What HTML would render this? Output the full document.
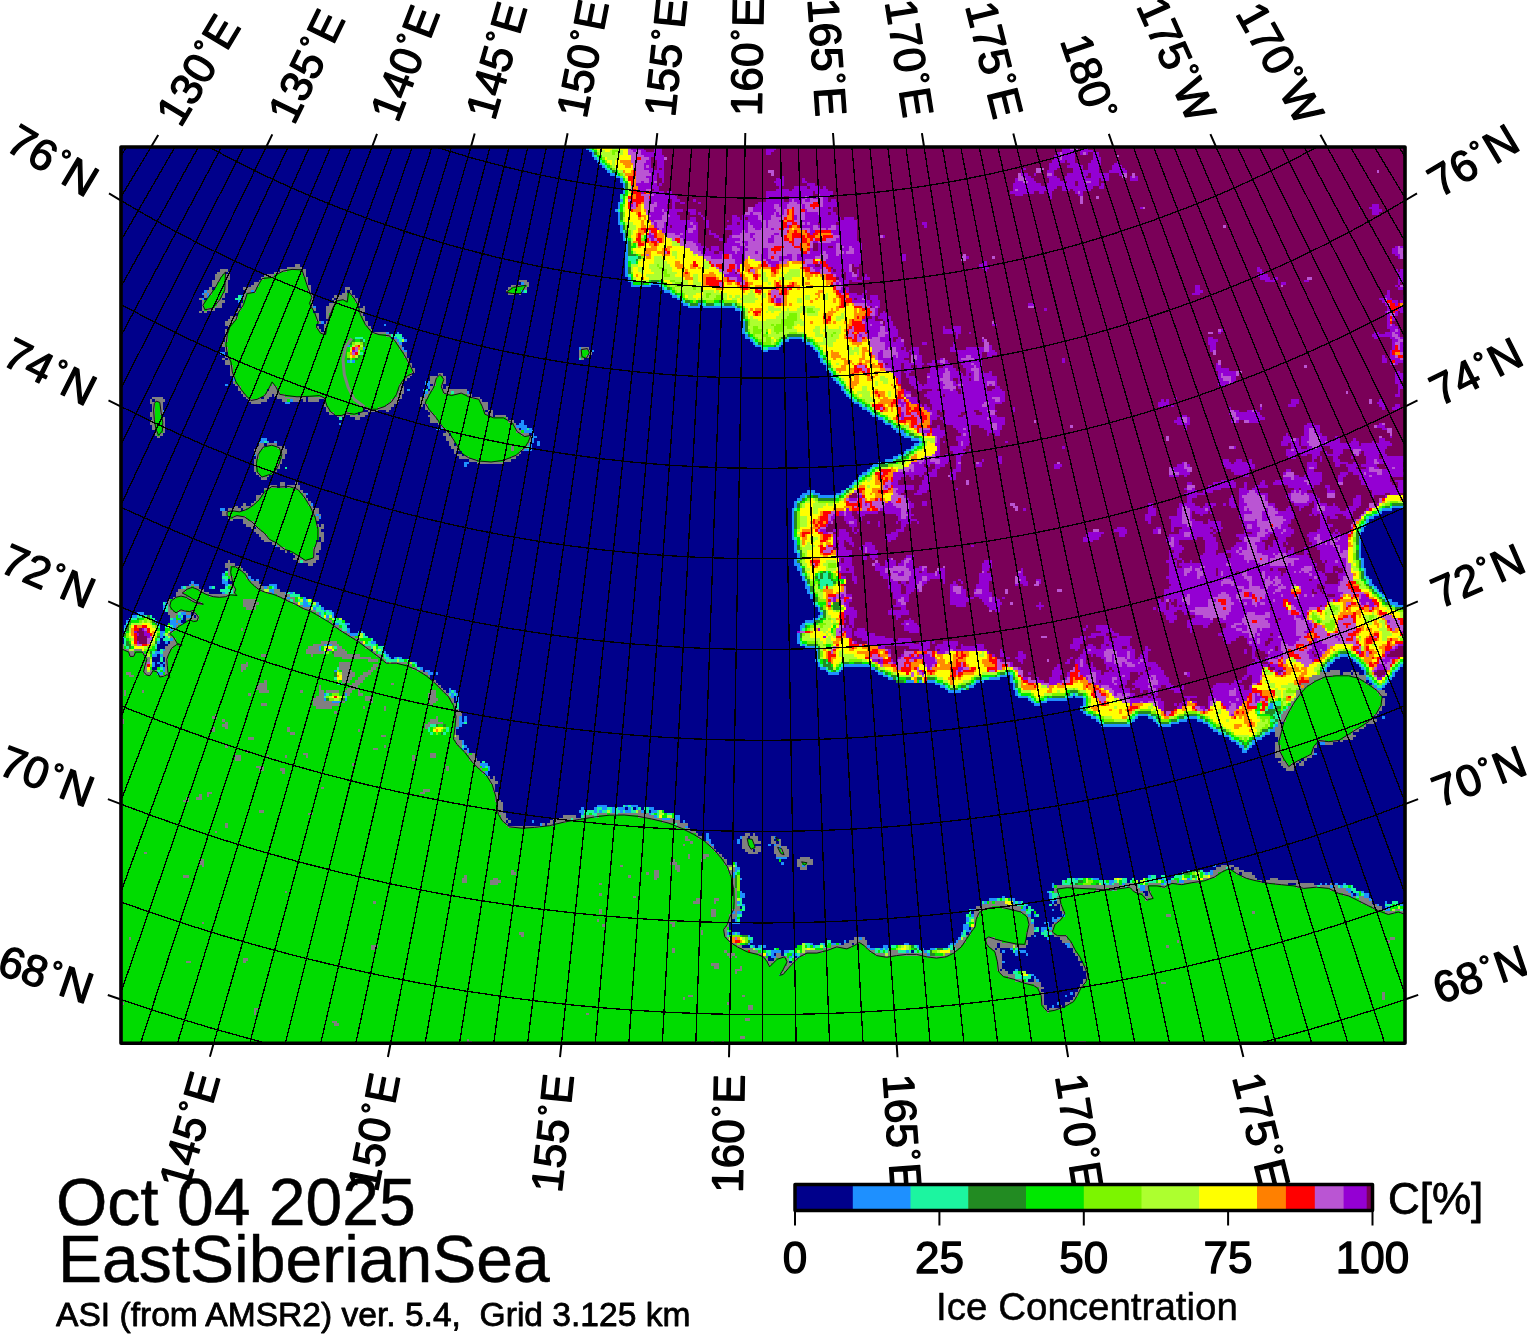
<!DOCTYPE html>
<html><head><meta charset="utf-8"><title>Ice Concentration EastSiberianSea</title><style>html,body{margin:0;padding:0;background:#fff}text{stroke:#000;stroke-width:1.3px}text.t{stroke-width:.5px}text.s{stroke-width:.8px}</style></head><body>
<svg width="1527" height="1336" viewBox="0 0 1527 1336" style="display:block;font-family:'Liberation Sans',sans-serif" stroke-linejoin="round">
<defs><clipPath id="mc"><rect x="121" y="147" width="1284" height="896.3"/></clipPath></defs>
<rect x="0" y="0" width="1527" height="1336" fill="#fff"/>
<g clip-path="url(#mc)">
<rect x="121" y="147" width="1284" height="896.3" fill="#00008b"/>
<g shape-rendering="crispEdges" fill="none" stroke-width="2.62">
<path stroke="#9400d3" d="M630.6 148.3h13.0M654.0 148.3h7.8M765.8 148.3h10.4M1062.2 148.3h7.8M1083.0 148.3h5.2M633.2 150.9h2.6M641.0 150.9h5.2M654.0 150.9h7.8M765.8 150.9h7.8M1062.2 150.9h15.6M1080.4 150.9h13.0M641.0 153.5h20.8M765.8 153.5h5.2M1057.0 153.5h2.6M1062.2 153.5h13.0M1080.4 153.5h2.6M1085.6 153.5h2.6M1093.4 153.5h5.2M643.6 156.1h20.8M1054.4 156.1h5.2M1062.2 156.1h13.0M1093.4 156.1h5.2M648.8 158.7h2.6M654.0 158.7h10.4M1054.4 158.7h5.2M1062.2 158.7h13.0M1093.4 158.7h7.8M646.2 161.3h5.2M656.6 161.3h7.8M1051.8 161.3h13.0M1067.4 161.3h7.8M1090.8 161.3h10.4M1116.8 161.3h2.6M643.6 163.9h7.8M656.6 163.9h7.8M1049.2 163.9h10.4M1070.0 163.9h10.4M1088.2 163.9h13.0M1114.2 163.9h5.2M643.6 166.5h2.6M648.8 166.5h2.6M656.6 166.5h7.8M1049.2 166.5h10.4M1067.4 166.5h15.6M1088.2 166.5h10.4M1111.6 166.5h10.4M643.6 169.1h10.4M656.6 169.1h2.6M661.8 169.1h2.6M1023.2 169.1h2.6M1049.2 169.1h7.8M1072.6 169.1h10.4M1088.2 169.1h10.4M1111.6 169.1h13.0M648.8 171.7h15.6M1020.6 171.7h2.6M1046.6 171.7h7.8M1072.6 171.7h26.0M1109.0 171.7h18.2M651.4 174.3h5.2M659.2 174.3h5.2M1020.6 174.3h7.8M1033.6 174.3h2.6M1051.8 174.3h2.6M1067.4 174.3h20.8M1090.8 174.3h18.2M1119.4 174.3h2.6M646.2 176.9h10.4M659.2 176.9h5.2M781.4 176.9h2.6M1023.2 176.9h7.8M1046.6 176.9h10.4M1064.8 176.9h20.8M1090.8 176.9h18.2M1129.8 176.9h2.6M1135.0 176.9h2.6M648.8 179.5h7.8M661.8 179.5h2.6M776.2 179.5h7.8M802.2 179.5h2.6M1015.4 179.5h2.6M1025.8 179.5h7.8M1049.2 179.5h10.4M1064.8 179.5h33.8M1101.2 179.5h7.8M1129.8 179.5h7.8M641.0 182.1h2.6M648.8 182.1h5.2M661.8 182.1h2.6M773.6 182.1h10.4M802.2 182.1h5.2M1015.4 182.1h7.8M1028.4 182.1h7.8M1049.2 182.1h15.6M1067.4 182.1h7.8M1077.8 182.1h7.8M1090.8 182.1h7.8M635.8 184.7h20.8M659.2 184.7h2.6M776.2 184.7h7.8M807.4 184.7h7.8M1012.8 184.7h28.6M1046.6 184.7h28.6M1077.8 184.7h20.8M1101.2 184.7h2.6M638.4 187.3h20.8M778.8 187.3h2.6M794.4 187.3h13.0M810.0 187.3h10.4M823.0 187.3h2.6M1012.8 187.3h44.2M1062.2 187.3h31.2M1098.6 187.3h5.2M638.4 189.9h7.8M654.0 189.9h5.2M776.2 189.9h13.0M791.8 189.9h36.4M1012.8 189.9h2.6M1018.0 189.9h36.4M1062.2 189.9h7.8M1072.6 189.9h18.2M641.0 192.5h2.6M651.4 192.5h13.0M667.0 192.5h5.2M765.8 192.5h46.8M815.2 192.5h18.2M1010.2 192.5h23.4M1038.8 192.5h5.2M1046.6 192.5h5.2M1075.2 192.5h2.6M1080.4 192.5h2.6M654.0 195.1h20.8M765.8 195.1h46.8M820.4 195.1h13.0M1015.4 195.1h7.8M1049.2 195.1h2.6M1077.8 195.1h5.2M651.4 197.7h26.0M765.8 197.7h18.2M789.2 197.7h15.6M807.4 197.7h2.6M812.6 197.7h5.2M823.0 197.7h5.2M1049.2 197.7h2.6M648.8 200.3h20.8M672.2 200.3h7.8M693.0 200.3h2.6M765.8 200.3h18.2M789.2 200.3h2.6M794.4 200.3h7.8M804.8 200.3h5.2M823.0 200.3h5.2M830.8 200.3h5.2M651.4 202.9h2.6M656.6 202.9h13.0M672.2 202.9h2.6M680.0 202.9h5.2M698.2 202.9h2.6M758.0 202.9h31.2M797.0 202.9h5.2M823.0 202.9h15.6M630.6 205.5h2.6M656.6 205.5h10.4M672.2 205.5h2.6M755.4 205.5h18.2M778.8 205.5h7.8M802.2 205.5h2.6M823.0 205.5h15.6M1371.6 205.5h7.8M654.0 208.1h13.0M672.2 208.1h2.6M752.8 208.1h20.8M781.4 208.1h5.2M802.2 208.1h2.6M820.4 208.1h7.8M830.8 208.1h2.6M1140.2 208.1h2.6M1358.6 208.1h2.6M1369.0 208.1h10.4M654.0 210.7h7.8M664.4 210.7h18.2M687.8 210.7h7.8M752.8 210.7h23.4M781.4 210.7h2.6M804.8 210.7h2.6M820.4 210.7h13.0M1371.6 210.7h10.4M648.8 213.3h15.6M667.0 213.3h10.4M690.4 213.3h5.2M698.2 213.3h2.6M750.2 213.3h2.6M760.6 213.3h13.0M776.2 213.3h2.6M781.4 213.3h2.6M804.8 213.3h13.0M820.4 213.3h7.8M830.8 213.3h5.2M1371.6 213.3h7.8M651.4 215.9h10.4M669.6 215.9h10.4M700.8 215.9h2.6M732.0 215.9h5.2M742.4 215.9h15.6M763.2 215.9h7.8M776.2 215.9h5.2M794.4 215.9h2.6M804.8 215.9h33.8M648.8 218.5h13.0M667.0 218.5h13.0M690.4 218.5h5.2M703.4 218.5h2.6M732.0 218.5h7.8M742.4 218.5h2.6M747.6 218.5h10.4M763.2 218.5h7.8M794.4 218.5h2.6M804.8 218.5h36.4M843.8 218.5h10.4M651.4 221.1h2.6M667.0 221.1h28.6M706.0 221.1h2.6M726.8 221.1h2.6M732.0 221.1h28.6M765.8 221.1h2.6M778.8 221.1h2.6M802.2 221.1h54.6M654.0 223.7h2.6M664.4 223.7h26.0M693.0 223.7h5.2M706.0 223.7h2.6M732.0 223.7h5.2M739.8 223.7h7.8M750.2 223.7h13.0M765.8 223.7h2.6M799.6 223.7h2.6M804.8 223.7h2.6M810.0 223.7h7.8M820.4 223.7h15.6M838.6 223.7h18.2M921.8 223.7h5.2M654.0 226.3h2.6M664.4 226.3h5.2M672.2 226.3h20.8M695.6 226.3h2.6M706.0 226.3h2.6M726.8 226.3h20.8M752.8 226.3h10.4M765.8 226.3h2.6M786.6 226.3h2.6M799.6 226.3h13.0M817.8 226.3h13.0M836.0 226.3h20.8M924.4 226.3h2.6M656.6 228.9h2.6M661.8 228.9h26.0M695.6 228.9h2.6M724.2 228.9h23.4M755.4 228.9h5.2M771.0 228.9h2.6M810.0 228.9h2.6M825.6 228.9h2.6M836.0 228.9h20.8M661.8 231.5h26.0M693.0 231.5h5.2M708.6 231.5h2.6M732.0 231.5h10.4M745.0 231.5h2.6M810.0 231.5h5.2M830.8 231.5h26.0M648.8 234.1h2.6M674.8 234.1h5.2M682.6 234.1h15.6M708.6 234.1h7.8M732.0 234.1h7.8M750.2 234.1h5.2M773.6 234.1h5.2M810.0 234.1h2.6M833.4 234.1h23.4M648.8 236.7h5.2M680.0 236.7h18.2M713.8 236.7h5.2M729.4 236.7h2.6M750.2 236.7h2.6M771.0 236.7h2.6M838.6 236.7h18.2M882.8 236.7h2.6M651.4 239.3h2.6M682.6 239.3h15.6M719.0 239.3h5.2M726.8 239.3h13.0M752.8 239.3h2.6M768.4 239.3h5.2M836.0 239.3h20.8M693.0 241.9h5.2M726.8 241.9h7.8M742.4 241.9h5.2M768.4 241.9h5.2M812.6 241.9h5.2M830.8 241.9h28.6M695.6 244.5h5.2M724.2 244.5h15.6M745.0 244.5h2.6M817.8 244.5h18.2M841.2 244.5h20.8M698.2 247.1h7.8M711.2 247.1h7.8M724.2 247.1h7.8M737.2 247.1h7.8M817.8 247.1h10.4M833.4 247.1h2.6M843.8 247.1h5.2M851.6 247.1h10.4M1395.0 247.1h2.6M1400.2 247.1h5.2M698.2 249.7h5.2M706.0 249.7h2.6M711.2 249.7h7.8M724.2 249.7h7.8M739.8 249.7h7.8M763.2 249.7h5.2M810.0 249.7h2.6M817.8 249.7h18.2M841.2 249.7h7.8M854.2 249.7h7.8M1392.4 249.7h5.2M1402.8 249.7h2.6M700.8 252.3h13.0M719.0 252.3h15.6M737.2 252.3h7.8M755.4 252.3h2.6M763.2 252.3h5.2M810.0 252.3h13.0M825.6 252.3h10.4M843.8 252.3h2.6M854.2 252.3h7.8M1392.4 252.3h5.2M703.4 254.9h18.2M732.0 254.9h13.0M760.6 254.9h7.8M786.6 254.9h5.2M797.0 254.9h23.4M828.2 254.9h7.8M838.6 254.9h23.4M901.0 254.9h5.2M1395.0 254.9h5.2M1402.8 254.9h2.6M711.2 257.5h10.4M732.0 257.5h13.0M760.6 257.5h7.8M778.8 257.5h13.0M797.0 257.5h18.2M828.2 257.5h33.8M901.0 257.5h5.2M966.0 257.5h2.6M1397.6 257.5h2.6M1402.8 257.5h2.6M734.6 260.1h10.4M760.6 260.1h2.6M765.8 260.1h5.2M778.8 260.1h5.2M789.2 260.1h2.6M797.0 260.1h7.8M825.6 260.1h36.4M901.0 260.1h5.2M734.6 262.7h7.8M768.4 262.7h10.4M825.6 262.7h36.4M981.6 262.7h5.2M737.2 265.3h2.6M771.0 265.3h5.2M807.4 265.3h7.8M820.4 265.3h2.6M828.2 265.3h20.8M854.2 265.3h5.2M979.0 265.3h7.8M737.2 267.9h2.6M812.6 267.9h10.4M833.4 267.9h15.6M981.6 267.9h7.8M1257.2 267.9h2.6M732.0 270.5h2.6M815.2 270.5h5.2M830.8 270.5h2.6M836.0 270.5h5.2M843.8 270.5h5.2M856.8 270.5h2.6M984.2 270.5h2.6M1257.2 270.5h5.2M1395.0 270.5h2.6M1400.2 270.5h5.2M729.4 273.1h5.2M830.8 273.1h13.0M846.4 273.1h5.2M856.8 273.1h2.6M1259.8 273.1h5.2M1397.6 273.1h7.8M724.2 275.7h15.6M836.0 275.7h5.2M846.4 275.7h5.2M856.8 275.7h2.6M864.6 275.7h2.6M1257.2 275.7h10.4M1397.6 275.7h7.8M737.2 278.3h5.2M838.6 278.3h5.2M846.4 278.3h10.4M862.0 278.3h7.8M1259.8 278.3h10.4M1272.8 278.3h5.2M1397.6 278.3h7.8M737.2 280.9h5.2M838.6 280.9h10.4M851.6 280.9h10.4M1265.0 280.9h10.4M1304.0 280.9h5.2M1397.6 280.9h7.8M836.0 283.5h2.6M841.2 283.5h7.8M1280.6 283.5h5.2M1397.6 283.5h2.6M1194.8 286.1h5.2M1395.0 286.1h2.6M841.2 288.7h2.6M846.4 288.7h2.6M1194.8 288.7h5.2M1397.6 288.7h5.2M838.6 291.3h5.2M846.4 291.3h2.6M864.6 291.3h2.6M1194.8 291.3h7.8M1387.2 291.3h2.6M849.0 293.9h7.8M862.0 293.9h2.6M1192.2 293.9h7.8M1387.2 293.9h2.6M849.0 296.5h18.2M869.8 296.5h7.8M1384.6 296.5h5.2M1402.8 296.5h2.6M776.2 299.1h5.2M851.6 299.1h2.6M856.8 299.1h5.2M864.6 299.1h2.6M869.8 299.1h7.8M1379.4 299.1h5.2M1387.2 299.1h5.2M1402.8 299.1h2.6M776.2 301.7h5.2M851.6 301.7h18.2M872.4 301.7h7.8M1382.0 301.7h2.6M1392.4 301.7h5.2M1400.2 301.7h2.6M867.2 304.3h13.0M1028.4 304.3h5.2M1384.6 304.3h2.6M1395.0 304.3h2.6M1402.8 304.3h2.6M872.4 306.9h2.6M877.6 306.9h2.6M1387.2 306.9h2.6M1400.2 306.9h2.6M875.0 309.5h2.6M1044.0 309.5h2.6M1387.2 309.5h2.6M1397.6 309.5h5.2M875.0 312.1h2.6M882.8 312.1h2.6M1384.6 312.1h2.6M1395.0 312.1h2.6M1400.2 312.1h5.2M875.0 314.7h2.6M880.2 314.7h7.8M1387.2 314.7h2.6M1395.0 314.7h2.6M864.6 317.3h2.6M872.4 317.3h2.6M877.6 317.3h13.0M1387.2 317.3h2.6M1392.4 317.3h2.6M862.0 319.9h13.0M882.8 319.9h7.8M1387.2 319.9h2.6M1392.4 319.9h2.6M864.6 322.5h15.6M885.4 322.5h7.8M1387.2 322.5h2.6M864.6 325.1h5.2M872.4 325.1h10.4M885.4 325.1h7.8M992.0 325.1h5.2M1387.2 325.1h2.6M1392.4 325.1h2.6M864.6 327.7h15.6M885.4 327.7h10.4M942.6 327.7h2.6M953.0 327.7h7.8M1150.6 327.7h2.6M1387.2 327.7h10.4M864.6 330.3h15.6M885.4 330.3h13.0M942.6 330.3h18.2M1220.8 330.3h2.6M1389.8 330.3h5.2M1397.6 330.3h2.6M867.2 332.9h10.4M888.0 332.9h10.4M942.6 332.9h10.4M955.6 332.9h5.2M968.6 332.9h2.6M1218.2 332.9h2.6M1374.2 332.9h5.2M1384.6 332.9h7.8M1395.0 332.9h5.2M859.4 335.5h2.6M867.2 335.5h10.4M885.4 335.5h13.0M955.6 335.5h2.6M1371.6 335.5h20.8M1397.6 335.5h2.6M867.2 338.1h5.2M880.2 338.1h13.0M898.4 338.1h2.6M955.6 338.1h2.6M1207.8 338.1h5.2M1374.2 338.1h5.2M1389.8 338.1h5.2M1400.2 338.1h5.2M880.2 340.7h13.0M895.8 340.7h5.2M981.6 340.7h2.6M1207.8 340.7h10.4M1392.4 340.7h5.2M1402.8 340.7h2.6M885.4 343.3h18.2M921.8 343.3h5.2M953.0 343.3h2.6M1207.8 343.3h7.8M1392.4 343.3h2.6M1400.2 343.3h2.6M885.4 345.9h18.2M953.0 345.9h2.6M989.4 345.9h2.6M1210.4 345.9h5.2M1392.4 345.9h2.6M1400.2 345.9h5.2M885.4 348.5h2.6M895.8 348.5h5.2M903.6 348.5h2.6M911.4 348.5h7.8M950.4 348.5h5.2M966.0 348.5h18.2M989.4 348.5h2.6M1210.4 348.5h5.2M1392.4 348.5h2.6M1400.2 348.5h2.6M352.4 351.1h2.6M880.2 351.1h2.6M895.8 351.1h10.4M908.8 351.1h10.4M950.4 351.1h33.8M989.4 351.1h5.2M1210.4 351.1h2.6M1389.8 351.1h2.6M1400.2 351.1h2.6M877.6 353.7h5.2M898.4 353.7h10.4M911.4 353.7h7.8M958.2 353.7h23.4M986.8 353.7h10.4M1389.8 353.7h2.6M877.6 356.3h5.2M893.2 356.3h2.6M898.4 356.3h10.4M916.6 356.3h5.2M958.2 356.3h7.8M971.2 356.3h10.4M986.8 356.3h5.2M1382.0 356.3h2.6M1389.8 356.3h5.2M1402.8 356.3h2.6M877.6 358.9h26.0M916.6 358.9h5.2M940.0 358.9h2.6M958.2 358.9h2.6M973.8 358.9h7.8M1062.2 358.9h2.6M1382.0 358.9h5.2M1389.8 358.9h10.4M882.8 361.5h26.0M914.0 361.5h7.8M932.2 361.5h7.8M945.2 361.5h2.6M958.2 361.5h23.4M1062.2 361.5h2.6M1382.0 361.5h5.2M1389.8 361.5h2.6M1395.0 361.5h10.4M888.0 364.1h13.0M903.6 364.1h20.8M927.0 364.1h7.8M940.0 364.1h2.6M945.2 364.1h5.2M960.8 364.1h10.4M973.8 364.1h7.8M1215.6 364.1h2.6M1389.8 364.1h2.6M1395.0 364.1h2.6M1402.8 364.1h2.6M885.4 366.7h15.6M903.6 366.7h7.8M916.6 366.7h5.2M929.6 366.7h5.2M942.6 366.7h10.4M963.4 366.7h10.4M976.4 366.7h5.2M1215.6 366.7h5.2M1402.8 366.7h2.6M890.6 369.3h10.4M903.6 369.3h10.4M929.6 369.3h15.6M947.8 369.3h7.8M966.0 369.3h5.2M979.0 369.3h2.6M1215.6 369.3h13.0M1402.8 369.3h2.6M893.2 371.9h7.8M903.6 371.9h7.8M929.6 371.9h15.6M950.4 371.9h10.4M966.0 371.9h7.8M979.0 371.9h5.2M989.4 371.9h2.6M1218.2 371.9h18.2M1395.0 371.9h5.2M893.2 374.5h7.8M906.2 374.5h2.6M927.0 374.5h15.6M950.4 374.5h13.0M966.0 374.5h2.6M971.2 374.5h2.6M979.0 374.5h13.0M1218.2 374.5h2.6M1223.4 374.5h13.0M1395.0 374.5h10.4M895.8 377.1h5.2M906.2 377.1h10.4M929.6 377.1h13.0M950.4 377.1h23.4M979.0 377.1h18.2M1218.2 377.1h2.6M1231.2 377.1h5.2M1395.0 377.1h10.4M898.4 379.7h2.6M908.8 379.7h7.8M927.0 379.7h13.0M950.4 379.7h2.6M958.2 379.7h10.4M971.2 379.7h2.6M979.0 379.7h18.2M1218.2 379.7h5.2M1231.2 379.7h5.2M1395.0 379.7h7.8M898.4 382.3h2.6M908.8 382.3h10.4M927.0 382.3h15.6M953.0 382.3h2.6M958.2 382.3h28.6M994.6 382.3h2.6M1218.2 382.3h10.4M1231.2 382.3h2.6M1395.0 382.3h5.2M911.4 384.9h10.4M924.4 384.9h20.8M953.0 384.9h5.2M963.4 384.9h23.4M989.4 384.9h2.6M994.6 384.9h2.6M1218.2 384.9h7.8M1397.6 384.9h5.2M914.0 387.5h28.6M958.2 387.5h28.6M994.6 387.5h5.2M1397.6 387.5h5.2M903.6 390.1h2.6M916.6 390.1h5.2M932.2 390.1h5.2M940.0 390.1h10.4M953.0 390.1h2.6M960.8 390.1h26.0M992.0 390.1h10.4M1397.6 390.1h2.6M903.6 392.7h7.8M927.0 392.7h31.2M960.8 392.7h44.2M1397.6 392.7h2.6M903.6 395.3h2.6M924.4 395.3h18.2M945.2 395.3h59.8M1395.0 395.3h5.2M906.2 397.9h10.4M927.0 397.9h65.0M999.8 397.9h5.2M1174.0 397.9h2.6M898.4 400.5h2.6M908.8 400.5h7.8M929.6 400.5h65.0M999.8 400.5h5.2M1161.0 400.5h2.6M1166.2 400.5h2.6M1291.0 400.5h7.8M1379.4 400.5h2.6M898.4 403.1h7.8M911.4 403.1h7.8M929.6 403.1h54.6M989.4 403.1h13.0M1158.4 403.1h10.4M1291.0 403.1h7.8M1376.8 403.1h7.8M901.0 405.7h2.6M919.2 405.7h2.6M924.4 405.7h2.6M932.2 405.7h49.4M986.8 405.7h7.8M1158.4 405.7h10.4M1171.4 405.7h2.6M1288.4 405.7h7.8M1379.4 405.7h5.2M1395.0 405.7h5.2M924.4 408.3h5.2M932.2 408.3h62.4M1012.8 408.3h2.6M1228.6 408.3h2.6M1259.8 408.3h2.6M1382.0 408.3h2.6M1392.4 408.3h7.8M927.0 410.9h10.4M940.0 410.9h2.6M945.2 410.9h28.6M979.0 410.9h7.8M994.6 410.9h2.6M1012.8 410.9h2.6M1233.8 410.9h5.2M1246.8 410.9h5.2M1254.6 410.9h2.6M901.0 413.5h2.6M932.2 413.5h5.2M945.2 413.5h15.6M966.0 413.5h10.4M981.6 413.5h7.8M1228.6 413.5h2.6M1236.4 413.5h23.4M901.0 416.1h2.6M929.6 416.1h10.4M942.6 416.1h15.6M963.4 416.1h33.8M1181.8 416.1h5.2M1236.4 416.1h26.0M901.0 418.7h2.6M929.6 418.7h7.8M940.0 418.7h46.8M989.4 418.7h15.6M1176.6 418.7h5.2M1187.0 418.7h2.6M1231.2 418.7h2.6M1239.0 418.7h26.0M929.6 421.3h2.6M942.6 421.3h62.4M1174.0 421.3h7.8M1187.0 421.3h2.6M1231.2 421.3h2.6M1236.4 421.3h2.6M1249.4 421.3h10.4M929.6 423.9h2.6M945.2 423.9h46.8M997.2 423.9h7.8M1176.6 423.9h13.0M1306.6 423.9h7.8M1379.4 423.9h2.6M937.4 426.5h2.6M953.0 426.5h18.2M979.0 426.5h13.0M997.2 426.5h5.2M1184.4 426.5h2.6M1304.0 426.5h15.6M1376.8 426.5h7.8M932.2 429.1h7.8M955.6 429.1h7.8M966.0 429.1h5.2M984.2 429.1h7.8M997.2 429.1h5.2M1184.4 429.1h2.6M1304.0 429.1h5.2M1314.4 429.1h5.2M1382.0 429.1h5.2M921.8 431.7h7.8M932.2 431.7h13.0M958.2 431.7h13.0M986.8 431.7h13.0M1304.0 431.7h5.2M1314.4 431.7h5.2M932.2 434.3h13.0M960.8 434.3h2.6M966.0 434.3h5.2M986.8 434.3h2.6M994.6 434.3h5.2M1285.8 434.3h2.6M1304.0 434.3h5.2M1317.0 434.3h5.2M937.4 436.9h5.2M955.6 436.9h13.0M1283.2 436.9h7.8M1301.4 436.9h7.8M1319.6 436.9h7.8M1335.2 436.9h2.6M1389.8 436.9h2.6M937.4 439.5h2.6M955.6 439.5h13.0M1283.2 439.5h7.8M1296.2 439.5h2.6M1301.4 439.5h7.8M1319.6 439.5h7.8M1335.2 439.5h5.2M1353.4 439.5h2.6M1379.4 439.5h5.2M937.4 442.1h2.6M942.6 442.1h2.6M958.2 442.1h2.6M963.4 442.1h7.8M1005.0 442.1h2.6M1280.6 442.1h18.2M1301.4 442.1h5.2M1319.6 442.1h5.2M1327.4 442.1h13.0M1350.8 442.1h7.8M1371.6 442.1h2.6M1379.4 442.1h10.4M934.8 444.7h5.2M958.2 444.7h2.6M963.4 444.7h5.2M1280.6 444.7h7.8M1291.0 444.7h7.8M1301.4 444.7h7.8M1319.6 444.7h39.0M1361.2 444.7h31.2M937.4 447.3h2.6M950.4 447.3h15.6M1062.2 447.3h2.6M1233.8 447.3h2.6M1291.0 447.3h10.4M1306.6 447.3h5.2M1317.0 447.3h5.2M1330.0 447.3h57.2M937.4 449.9h2.6M950.4 449.9h13.0M968.6 449.9h2.6M1285.8 449.9h5.2M1293.6 449.9h28.6M1332.6 449.9h10.4M1350.8 449.9h2.6M1361.2 449.9h23.4M934.8 452.5h5.2M953.0 452.5h13.0M1285.8 452.5h33.8M1324.8 452.5h2.6M1332.6 452.5h10.4M1358.6 452.5h2.6M1363.8 452.5h20.8M934.8 455.1h5.2M945.2 455.1h2.6M955.6 455.1h7.8M1285.8 455.1h10.4M1301.4 455.1h5.2M1311.8 455.1h7.8M1324.8 455.1h15.6M1353.4 455.1h2.6M1363.8 455.1h15.6M1382.0 455.1h5.2M934.8 457.7h15.6M955.6 457.7h5.2M997.2 457.7h5.2M1288.4 457.7h7.8M1311.8 457.7h5.2M1319.6 457.7h2.6M1332.6 457.7h5.2M1350.8 457.7h2.6M1366.4 457.7h13.0M1382.0 457.7h23.4M924.4 460.3h5.2M940.0 460.3h10.4M955.6 460.3h5.2M981.6 460.3h2.6M997.2 460.3h5.2M1223.4 460.3h5.2M1236.4 460.3h5.2M1249.4 460.3h2.6M1311.8 460.3h2.6M1319.6 460.3h2.6M1332.6 460.3h7.8M1366.4 460.3h7.8M1376.8 460.3h28.6M911.4 462.9h7.8M921.8 462.9h13.0M940.0 462.9h7.8M955.6 462.9h2.6M979.0 462.9h2.6M997.2 462.9h5.2M1181.8 462.9h2.6M1223.4 462.9h7.8M1233.8 462.9h18.2M1306.6 462.9h10.4M1335.2 462.9h13.0M1353.4 462.9h2.6M1366.4 462.9h7.8M1379.4 462.9h23.4M914.0 465.5h10.4M927.0 465.5h2.6M934.8 465.5h10.4M955.6 465.5h5.2M976.4 465.5h5.2M1054.4 465.5h7.8M1176.6 465.5h7.8M1187.0 465.5h2.6M1223.4 465.5h31.2M1306.6 465.5h10.4M1335.2 465.5h5.2M1345.6 465.5h13.0M1361.2 465.5h15.6M1384.6 465.5h18.2M914.0 468.1h13.0M934.8 468.1h5.2M955.6 468.1h5.2M1054.4 468.1h5.2M1171.4 468.1h13.0M1226.0 468.1h28.6M1306.6 468.1h2.6M1314.4 468.1h2.6M1348.2 468.1h7.8M1366.4 468.1h2.6M1374.2 468.1h5.2M1387.2 468.1h5.2M1395.0 468.1h10.4M908.8 470.7h2.6M914.0 470.7h13.0M932.2 470.7h5.2M953.0 470.7h7.8M1174.0 470.7h13.0M1231.2 470.7h18.2M1285.8 470.7h5.2M1306.6 470.7h7.8M1348.2 470.7h10.4M1361.2 470.7h7.8M1382.0 470.7h20.8M893.2 473.3h31.2M927.0 473.3h10.4M950.4 473.3h5.2M1179.2 473.3h10.4M1233.8 473.3h15.6M1283.2 473.3h2.6M1306.6 473.3h15.6M1340.4 473.3h7.8M1353.4 473.3h10.4M1366.4 473.3h10.4M1382.0 473.3h20.8M893.2 475.9h13.0M908.8 475.9h5.2M919.2 475.9h2.6M924.4 475.9h13.0M950.4 475.9h5.2M1168.8 475.9h10.4M1184.4 475.9h2.6M1241.6 475.9h7.8M1293.6 475.9h5.2M1304.0 475.9h18.2M1337.8 475.9h7.8M1358.6 475.9h10.4M1371.6 475.9h33.8M893.2 478.5h7.8M911.4 478.5h2.6M924.4 478.5h5.2M950.4 478.5h5.2M1283.2 478.5h7.8M1293.6 478.5h28.6M1337.8 478.5h5.2M1358.6 478.5h31.2M893.2 481.1h5.2M921.8 481.1h7.8M1220.8 481.1h13.0M1262.4 481.1h2.6M1275.4 481.1h28.6M1309.2 481.1h13.0M1337.8 481.1h5.2M1361.2 481.1h28.6M1395.0 481.1h10.4M890.6 483.7h7.8M921.8 483.7h7.8M1187.0 483.7h5.2M1213.0 483.7h23.4M1244.2 483.7h2.6M1259.8 483.7h5.2M1272.8 483.7h33.8M1309.2 483.7h10.4M1361.2 483.7h31.2M1397.6 483.7h7.8M885.4 486.3h2.6M893.2 486.3h20.8M919.2 486.3h10.4M1207.8 486.3h28.6M1244.2 486.3h2.6M1254.6 486.3h13.0M1288.4 486.3h26.0M1324.8 486.3h5.2M1366.4 486.3h28.6M1397.6 486.3h7.8M898.4 488.9h15.6M919.2 488.9h10.4M955.6 488.9h2.6M1184.4 488.9h2.6M1192.2 488.9h2.6M1205.2 488.9h15.6M1239.0 488.9h7.8M1252.0 488.9h5.2M1293.6 488.9h5.2M1301.4 488.9h10.4M1327.4 488.9h2.6M1369.0 488.9h36.4M895.8 491.5h7.8M916.6 491.5h10.4M1187.0 491.5h10.4M1202.6 491.5h10.4M1239.0 491.5h10.4M1254.6 491.5h5.2M1291.0 491.5h2.6M1296.2 491.5h2.6M1301.4 491.5h5.2M1327.4 491.5h7.8M1371.6 491.5h33.8M898.4 494.1h2.6M914.0 494.1h7.8M1184.4 494.1h20.8M1239.0 494.1h7.8M1257.2 494.1h10.4M1288.4 494.1h2.6M1301.4 494.1h2.6M1306.6 494.1h7.8M1371.6 494.1h13.0M1389.8 494.1h10.4M856.8 496.7h5.2M903.6 496.7h2.6M1187.0 496.7h10.4M1231.2 496.7h2.6M1239.0 496.7h2.6M1265.0 496.7h2.6M1285.8 496.7h5.2M1309.2 496.7h7.8M1356.0 496.7h5.2M1371.6 496.7h2.6M1384.6 496.7h2.6M849.0 499.3h7.8M906.2 499.3h2.6M1187.0 499.3h5.2M1228.6 499.3h5.2M1239.0 499.3h5.2M1265.0 499.3h2.6M1288.4 499.3h2.6M1309.2 499.3h10.4M1353.4 499.3h7.8M888.0 501.9h2.6M906.2 501.9h5.2M921.8 501.9h5.2M1187.0 501.9h5.2M1228.6 501.9h5.2M1239.0 501.9h5.2M1291.0 501.9h2.6M1306.6 501.9h5.2M1314.4 501.9h5.2M1353.4 501.9h7.8M864.6 504.5h2.6M885.4 504.5h7.8M908.8 504.5h5.2M921.8 504.5h5.2M1148.0 504.5h5.2M1179.2 504.5h15.6M1205.2 504.5h2.6M1210.4 504.5h5.2M1223.4 504.5h2.6M1228.6 504.5h7.8M1239.0 504.5h7.8M1267.6 504.5h7.8M1293.6 504.5h15.6M1314.4 504.5h2.6M1319.6 504.5h7.8M1332.6 504.5h2.6M1353.4 504.5h7.8M1376.8 504.5h2.6M882.8 507.1h13.0M908.8 507.1h5.2M1148.0 507.1h5.2M1179.2 507.1h2.6M1187.0 507.1h13.0M1202.6 507.1h10.4M1231.2 507.1h5.2M1239.0 507.1h5.2M1272.8 507.1h2.6M1288.4 507.1h2.6M1298.8 507.1h5.2M1314.4 507.1h2.6M1324.8 507.1h13.0M1348.2 507.1h10.4M846.4 509.7h2.6M880.2 509.7h20.8M908.8 509.7h2.6M1023.2 509.7h2.6M1148.0 509.7h7.8M1176.6 509.7h5.2M1189.6 509.7h15.6M1207.8 509.7h2.6M1239.0 509.7h5.2M1246.8 509.7h2.6M1265.0 509.7h2.6M1275.4 509.7h2.6M1285.8 509.7h5.2M1298.8 509.7h2.6M1311.8 509.7h5.2M1324.8 509.7h15.6M1345.6 509.7h10.4M1366.4 509.7h2.6M838.6 512.3h5.2M846.4 512.3h5.2M856.8 512.3h20.8M885.4 512.3h15.6M906.2 512.3h5.2M1148.0 512.3h7.8M1176.6 512.3h5.2M1189.6 512.3h2.6M1194.8 512.3h13.0M1210.4 512.3h2.6M1239.0 512.3h13.0M1262.4 512.3h5.2M1278.0 512.3h15.6M1311.8 512.3h7.8M1322.2 512.3h31.2M833.4 514.9h2.6M838.6 514.9h5.2M846.4 514.9h5.2M859.4 514.9h5.2M895.8 514.9h5.2M908.8 514.9h5.2M1145.4 514.9h10.4M1176.6 514.9h5.2M1189.6 514.9h2.6M1200.0 514.9h2.6M1239.0 514.9h5.2M1262.4 514.9h5.2M1275.4 514.9h18.2M1309.2 514.9h2.6M1314.4 514.9h2.6M1319.6 514.9h15.6M1343.0 514.9h10.4M830.8 517.5h5.2M843.8 517.5h10.4M859.4 517.5h2.6M898.4 517.5h2.6M906.2 517.5h5.2M1145.4 517.5h5.2M1168.8 517.5h13.0M1189.6 517.5h2.6M1239.0 517.5h5.2M1262.4 517.5h7.8M1283.2 517.5h10.4M1319.6 517.5h7.8M1330.0 517.5h7.8M1345.6 517.5h5.2M1358.6 517.5h2.6M830.8 520.1h2.6M843.8 520.1h13.0M859.4 520.1h2.6M898.4 520.1h18.2M1145.4 520.1h5.2M1171.4 520.1h10.4M1189.6 520.1h5.2M1207.8 520.1h2.6M1241.6 520.1h2.6M1254.6 520.1h2.6M1262.4 520.1h5.2M1285.8 520.1h5.2M1319.6 520.1h7.8M1353.4 520.1h2.6M828.2 522.7h2.6M846.4 522.7h2.6M854.2 522.7h2.6M867.2 522.7h2.6M877.6 522.7h2.6M895.8 522.7h2.6M901.0 522.7h10.4M916.6 522.7h2.6M1148.0 522.7h2.6M1171.4 522.7h10.4M1192.2 522.7h10.4M1207.8 522.7h13.0M1241.6 522.7h15.6M1283.2 522.7h7.8M1319.6 522.7h7.8M825.6 525.3h2.6M849.0 525.3h7.8M877.6 525.3h2.6M901.0 525.3h5.2M1171.4 525.3h15.6M1192.2 525.3h28.6M1241.6 525.3h5.2M1252.0 525.3h5.2M1280.6 525.3h7.8M1319.6 525.3h13.0M851.6 527.9h2.6M901.0 527.9h2.6M1116.8 527.9h7.8M1155.8 527.9h5.2M1171.4 527.9h2.6M1181.8 527.9h28.6M1213.0 527.9h10.4M1244.2 527.9h2.6M1252.0 527.9h7.8M1275.4 527.9h2.6M1280.6 527.9h10.4M1319.6 527.9h10.4M1350.8 527.9h2.6M820.4 530.5h5.2M833.4 530.5h2.6M838.6 530.5h7.8M851.6 530.5h2.6M856.8 530.5h2.6M895.8 530.5h7.8M1114.2 530.5h13.0M1153.2 530.5h5.2M1171.4 530.5h2.6M1179.2 530.5h33.8M1215.6 530.5h5.2M1244.2 530.5h15.6M1265.0 530.5h2.6M1272.8 530.5h10.4M1285.8 530.5h7.8M1317.0 530.5h13.0M1335.2 530.5h2.6M823.0 533.1h5.2M838.6 533.1h10.4M854.2 533.1h2.6M890.6 533.1h7.8M1088.2 533.1h15.6M1119.4 533.1h7.8M1153.2 533.1h5.2M1179.2 533.1h5.2M1192.2 533.1h18.2M1213.0 533.1h2.6M1244.2 533.1h2.6M1252.0 533.1h5.2M1267.6 533.1h13.0M1283.2 533.1h10.4M1309.2 533.1h20.8M1332.6 533.1h2.6M1337.8 533.1h2.6M833.4 535.7h2.6M838.6 535.7h10.4M885.4 535.7h13.0M1085.6 535.7h15.6M1119.4 535.7h5.2M1168.8 535.7h15.6M1189.6 535.7h23.4M1236.4 535.7h20.8M1265.0 535.7h5.2M1275.4 535.7h15.6M1306.6 535.7h10.4M1319.6 535.7h28.6M833.4 538.3h18.2M885.4 538.3h10.4M1083.0 538.3h15.6M1166.2 538.3h5.2M1174.0 538.3h23.4M1202.6 538.3h13.0M1239.0 538.3h5.2M1259.8 538.3h7.8M1278.0 538.3h7.8M1309.2 538.3h5.2M1319.6 538.3h10.4M1335.2 538.3h2.6M1340.4 538.3h7.8M833.4 540.9h2.6M838.6 540.9h5.2M846.4 540.9h5.2M888.0 540.9h2.6M1083.0 540.9h10.4M1166.2 540.9h5.2M1174.0 540.9h5.2M1205.2 540.9h10.4M1241.6 540.9h2.6M1259.8 540.9h2.6M1272.8 540.9h13.0M1309.2 540.9h7.8M1322.2 540.9h7.8M1337.8 540.9h10.4M833.4 543.5h2.6M838.6 543.5h5.2M849.0 543.5h5.2M864.6 543.5h7.8M1174.0 543.5h5.2M1205.2 543.5h13.0M1236.4 543.5h10.4M1254.6 543.5h10.4M1272.8 543.5h10.4M1285.8 543.5h2.6M1311.8 543.5h5.2M1322.2 543.5h2.6M1327.4 543.5h2.6M1335.2 543.5h13.0M833.4 546.1h10.4M851.6 546.1h2.6M862.0 546.1h13.0M971.2 546.1h2.6M1168.8 546.1h2.6M1174.0 546.1h7.8M1205.2 546.1h13.0M1233.8 546.1h13.0M1257.2 546.1h7.8M1267.6 546.1h2.6M1272.8 546.1h10.4M1309.2 546.1h23.4M1340.4 546.1h7.8M838.6 548.7h7.8M859.4 548.7h5.2M867.2 548.7h7.8M1171.4 548.7h13.0M1205.2 548.7h13.0M1231.2 548.7h7.8M1241.6 548.7h5.2M1257.2 548.7h7.8M1267.6 548.7h18.2M1291.0 548.7h2.6M1304.0 548.7h5.2M1317.0 548.7h20.8M1340.4 548.7h7.8M836.0 551.3h15.6M862.0 551.3h2.6M867.2 551.3h10.4M1168.8 551.3h2.6M1174.0 551.3h7.8M1205.2 551.3h10.4M1226.0 551.3h10.4M1239.0 551.3h2.6M1257.2 551.3h28.6M1288.4 551.3h5.2M1304.0 551.3h5.2M1319.6 551.3h18.2M1340.4 551.3h2.6M836.0 553.9h15.6M869.8 553.9h7.8M1168.8 553.9h10.4M1202.6 553.9h13.0M1218.2 553.9h7.8M1231.2 553.9h7.8M1262.4 553.9h10.4M1275.4 553.9h2.6M1280.6 553.9h2.6M1285.8 553.9h10.4M1304.0 553.9h2.6M1319.6 553.9h20.8M836.0 556.5h15.6M862.0 556.5h5.2M869.8 556.5h7.8M906.2 556.5h7.8M1168.8 556.5h10.4M1200.0 556.5h26.0M1231.2 556.5h13.0M1267.6 556.5h7.8M1288.4 556.5h20.8M1319.6 556.5h20.8M838.6 559.1h2.6M843.8 559.1h7.8M862.0 559.1h5.2M872.4 559.1h2.6M888.0 559.1h2.6M903.6 559.1h2.6M911.4 559.1h2.6M1168.8 559.1h5.2M1176.6 559.1h5.2M1200.0 559.1h44.2M1267.6 559.1h2.6M1298.8 559.1h13.0M1319.6 559.1h26.0M838.6 561.7h2.6M843.8 561.7h7.8M885.4 561.7h10.4M901.0 561.7h2.6M908.8 561.7h5.2M984.2 561.7h7.8M1166.2 561.7h10.4M1181.8 561.7h2.6M1189.6 561.7h2.6M1200.0 561.7h46.8M1249.4 561.7h7.8M1267.6 561.7h2.6M1293.6 561.7h20.8M1322.2 561.7h2.6M1327.4 561.7h7.8M1337.8 561.7h7.8M838.6 564.3h13.0M875.0 564.3h5.2M885.4 564.3h10.4M898.4 564.3h5.2M906.2 564.3h7.8M981.6 564.3h10.4M1168.8 564.3h7.8M1179.2 564.3h46.8M1231.2 564.3h28.6M1265.0 564.3h5.2M1288.4 564.3h2.6M1293.6 564.3h23.4M1324.8 564.3h20.8M841.2 566.9h13.0M875.0 566.9h18.2M906.2 566.9h7.8M919.2 566.9h2.6M981.6 566.9h10.4M1168.8 566.9h7.8M1181.8 566.9h7.8M1192.2 566.9h7.8M1205.2 566.9h98.8M1311.8 566.9h2.6M1324.8 566.9h7.8M1337.8 566.9h7.8M841.2 569.5h5.2M849.0 569.5h5.2M875.0 569.5h10.4M908.8 569.5h13.0M924.4 569.5h2.6M940.0 569.5h5.2M981.6 569.5h7.8M1020.6 569.5h2.6M1168.8 569.5h15.6M1192.2 569.5h2.6M1200.0 569.5h15.6M1218.2 569.5h28.6M1249.4 569.5h20.8M1272.8 569.5h5.2M1285.8 569.5h15.6M1311.8 569.5h5.2M1324.8 569.5h7.8M1343.0 569.5h2.6M838.6 572.1h15.6M880.2 572.1h5.2M893.2 572.1h5.2M901.0 572.1h2.6M911.4 572.1h7.8M921.8 572.1h5.2M937.4 572.1h7.8M984.2 572.1h2.6M1020.6 572.1h2.6M1168.8 572.1h15.6M1189.6 572.1h7.8M1202.6 572.1h13.0M1218.2 572.1h2.6M1223.4 572.1h13.0M1239.0 572.1h5.2M1246.8 572.1h15.6M1265.0 572.1h15.6M1285.8 572.1h7.8M1296.2 572.1h2.6M1301.4 572.1h2.6M1309.2 572.1h13.0M1324.8 572.1h7.8M1335.2 572.1h2.6M1343.0 572.1h2.6M851.6 574.7h2.6M880.2 574.7h7.8M898.4 574.7h5.2M911.4 574.7h23.4M937.4 574.7h7.8M979.0 574.7h13.0M1018.0 574.7h5.2M1168.8 574.7h15.6M1187.0 574.7h10.4M1202.6 574.7h13.0M1218.2 574.7h2.6M1223.4 574.7h18.2M1246.8 574.7h15.6M1265.0 574.7h15.6M1283.2 574.7h26.0M1311.8 574.7h13.0M1337.8 574.7h7.8M841.2 577.3h5.2M851.6 577.3h5.2M882.8 577.3h7.8M908.8 577.3h13.0M927.0 577.3h18.2M979.0 577.3h13.0M1018.0 577.3h7.8M1166.2 577.3h31.2M1200.0 577.3h44.2M1252.0 577.3h10.4M1265.0 577.3h2.6M1270.2 577.3h5.2M1278.0 577.3h36.4M1317.0 577.3h10.4M1337.8 577.3h5.2M851.6 579.9h5.2M888.0 579.9h5.2M908.8 579.9h13.0M927.0 579.9h2.6M942.6 579.9h2.6M958.2 579.9h2.6M979.0 579.9h13.0M1020.6 579.9h5.2M1036.2 579.9h5.2M1168.8 579.9h54.6M1231.2 579.9h15.6M1252.0 579.9h13.0M1270.2 579.9h2.6M1280.6 579.9h28.6M1311.8 579.9h15.6M1340.4 579.9h2.6M854.2 582.5h2.6M888.0 582.5h10.4M901.0 582.5h5.2M908.8 582.5h10.4M921.8 582.5h5.2M942.6 582.5h2.6M953.0 582.5h2.6M960.8 582.5h2.6M979.0 582.5h10.4M1018.0 582.5h10.4M1038.8 582.5h2.6M1168.8 582.5h52.0M1233.8 582.5h15.6M1252.0 582.5h13.0M1272.8 582.5h2.6M1280.6 582.5h44.2M1337.8 582.5h2.6M888.0 585.1h13.0M903.6 585.1h13.0M921.8 585.1h2.6M950.4 585.1h7.8M976.4 585.1h13.0M1015.4 585.1h2.6M1023.2 585.1h5.2M1171.4 585.1h49.4M1223.4 585.1h7.8M1233.8 585.1h15.6M1252.0 585.1h13.0M1270.2 585.1h2.6M1278.0 585.1h2.6M1283.2 585.1h10.4M1296.2 585.1h20.8M1319.6 585.1h20.8M888.0 587.7h13.0M906.2 587.7h10.4M950.4 587.7h2.6M960.8 587.7h2.6M976.4 587.7h13.0M1168.8 587.7h67.6M1244.2 587.7h5.2M1259.8 587.7h5.2M1267.6 587.7h10.4M1285.8 587.7h5.2M1301.4 587.7h15.6M1324.8 587.7h13.0M890.6 590.3h10.4M906.2 590.3h7.8M916.6 590.3h2.6M950.4 590.3h2.6M960.8 590.3h5.2M973.8 590.3h2.6M981.6 590.3h7.8M1163.6 590.3h78.0M1265.0 590.3h10.4M1280.6 590.3h10.4M1301.4 590.3h10.4M1314.4 590.3h5.2M1322.2 590.3h15.6M893.2 592.9h7.8M906.2 592.9h5.2M950.4 592.9h5.2M960.8 592.9h5.2M981.6 592.9h10.4M1163.6 592.9h57.2M1226.0 592.9h13.0M1249.4 592.9h2.6M1267.6 592.9h5.2M1275.4 592.9h15.6M1301.4 592.9h10.4M1317.0 592.9h5.2M1324.8 592.9h18.2M841.2 595.5h2.6M846.4 595.5h5.2M893.2 595.5h15.6M950.4 595.5h15.6M973.8 595.5h18.2M1163.6 595.5h23.4M1189.6 595.5h28.6M1228.6 595.5h7.8M1249.4 595.5h2.6M1265.0 595.5h15.6M1283.2 595.5h10.4M1298.8 595.5h5.2M1306.6 595.5h5.2M1314.4 595.5h13.0M1335.2 595.5h5.2M1361.2 595.5h5.2M833.4 598.1h2.6M841.2 598.1h2.6M893.2 598.1h7.8M903.6 598.1h5.2M950.4 598.1h23.4M979.0 598.1h10.4M992.0 598.1h5.2M1002.4 598.1h2.6M1163.6 598.1h18.2M1189.6 598.1h23.4M1231.2 598.1h5.2M1265.0 598.1h28.6M1298.8 598.1h41.6M1361.2 598.1h7.8M833.4 600.7h2.6M838.6 600.7h2.6M846.4 600.7h5.2M895.8 600.7h2.6M903.6 600.7h5.2M950.4 600.7h18.2M981.6 600.7h7.8M992.0 600.7h7.8M1158.4 600.7h2.6M1163.6 600.7h2.6M1171.4 600.7h2.6M1176.6 600.7h5.2M1189.6 600.7h18.2M1213.0 600.7h2.6M1231.2 600.7h7.8M1241.6 600.7h10.4M1259.8 600.7h13.0M1275.4 600.7h7.8M1288.4 600.7h41.6M1335.2 600.7h2.6M1358.6 600.7h13.0M843.8 603.3h5.2M895.8 603.3h5.2M950.4 603.3h15.6M984.2 603.3h18.2M1038.8 603.3h2.6M1158.4 603.3h7.8M1168.8 603.3h2.6M1176.6 603.3h10.4M1189.6 603.3h18.2M1233.8 603.3h10.4M1246.8 603.3h5.2M1257.2 603.3h2.6M1265.0 603.3h18.2M1291.0 603.3h36.4M1361.2 603.3h5.2M1369.0 603.3h5.2M846.4 605.9h2.6M893.2 605.9h13.0M955.6 605.9h10.4M986.8 605.9h13.0M1036.2 605.9h7.8M1158.4 605.9h7.8M1168.8 605.9h5.2M1176.6 605.9h2.6M1181.8 605.9h26.0M1231.2 605.9h23.4M1257.2 605.9h26.0M1293.6 605.9h26.0M1322.2 605.9h2.6M1369.0 605.9h5.2M846.4 608.5h7.8M890.6 608.5h2.6M901.0 608.5h5.2M989.4 608.5h10.4M1038.8 608.5h2.6M1153.2 608.5h2.6M1158.4 608.5h7.8M1168.8 608.5h26.0M1231.2 608.5h39.0M1272.8 608.5h13.0M1296.2 608.5h13.0M843.8 611.1h13.0M888.0 611.1h20.8M994.6 611.1h5.2M1158.4 611.1h18.2M1181.8 611.1h7.8M1231.2 611.1h57.2M1298.8 611.1h7.8M843.8 613.7h13.0M888.0 613.7h20.8M1163.6 613.7h10.4M1184.4 613.7h2.6M1189.6 613.7h5.2M1228.6 613.7h18.2M1254.6 613.7h10.4M1270.2 613.7h18.2M1301.4 613.7h5.2M843.8 616.3h2.6M849.0 616.3h7.8M895.8 616.3h5.2M1166.2 616.3h10.4M1194.8 616.3h7.8M1226.0 616.3h18.2M1270.2 616.3h23.4M1296.2 616.3h10.4M849.0 618.9h5.2M895.8 618.9h2.6M908.8 618.9h2.6M1166.2 618.9h10.4M1192.2 618.9h18.2M1218.2 618.9h5.2M1226.0 618.9h15.6M1265.0 618.9h13.0M1280.6 618.9h13.0M1301.4 618.9h2.6M843.8 621.5h2.6M849.0 621.5h5.2M903.6 621.5h10.4M1168.8 621.5h5.2M1187.0 621.5h26.0M1218.2 621.5h23.4M1267.6 621.5h7.8M1278.0 621.5h18.2M1306.6 621.5h2.6M1387.2 621.5h2.6M849.0 624.1h5.2M901.0 624.1h5.2M908.8 624.1h7.8M1187.0 624.1h23.4M1226.0 624.1h7.8M1241.6 624.1h2.6M1270.2 624.1h26.0M1306.6 624.1h5.2M846.4 626.7h2.6M851.6 626.7h2.6M903.6 626.7h15.6M1085.6 626.7h2.6M1096.0 626.7h13.0M1187.0 626.7h5.2M1202.6 626.7h5.2M1226.0 626.7h5.2M1236.4 626.7h10.4M1270.2 626.7h26.0M1306.6 626.7h5.2M141.8 629.3h2.6M817.8 629.3h2.6M841.2 629.3h10.4M856.8 629.3h7.8M903.6 629.3h15.6M1083.0 629.3h2.6M1096.0 629.3h15.6M1189.6 629.3h2.6M1223.4 629.3h13.0M1241.6 629.3h5.2M1257.2 629.3h2.6M1262.4 629.3h33.8M1306.6 629.3h5.2M1402.8 629.3h2.6M134.0 631.9h2.6M144.4 631.9h2.6M797.0 631.9h2.6M838.6 631.9h2.6M846.4 631.9h5.2M854.2 631.9h13.0M908.8 631.9h10.4M1101.2 631.9h13.0M1189.6 631.9h2.6M1223.4 631.9h18.2M1257.2 631.9h39.0M1304.0 631.9h5.2M1400.2 631.9h2.6M136.6 634.5h2.6M144.4 634.5h5.2M846.4 634.5h5.2M854.2 634.5h20.8M1090.8 634.5h15.6M1111.6 634.5h7.8M1218.2 634.5h31.2M1254.6 634.5h2.6M1259.8 634.5h10.4M1272.8 634.5h23.4M1402.8 634.5h2.6M147.0 637.1h2.6M823.0 637.1h2.6M846.4 637.1h5.2M856.8 637.1h28.6M1080.4 637.1h5.2M1088.2 637.1h7.8M1103.8 637.1h5.2M1116.8 637.1h15.6M1223.4 637.1h15.6M1244.2 637.1h5.2M1254.6 637.1h23.4M1280.6 637.1h20.8M1335.2 637.1h2.6M862.0 639.7h31.2M898.4 639.7h13.0M1072.6 639.7h13.0M1103.8 639.7h5.2M1111.6 639.7h18.2M1223.4 639.7h13.0M1246.8 639.7h10.4M1259.8 639.7h7.8M1272.8 639.7h26.0M1314.4 639.7h2.6M1337.8 639.7h2.6M136.6 642.3h2.6M854.2 642.3h2.6M867.2 642.3h46.8M919.2 642.3h10.4M932.2 642.3h2.6M942.6 642.3h15.6M1072.6 642.3h10.4M1103.8 642.3h7.8M1114.2 642.3h15.6M1226.0 642.3h5.2M1246.8 642.3h2.6M1252.0 642.3h5.2M1259.8 642.3h5.2M1270.2 642.3h10.4M1283.2 642.3h13.0M1314.4 642.3h7.8M867.2 644.9h10.4M880.2 644.9h10.4M893.2 644.9h36.4M937.4 644.9h20.8M960.8 644.9h2.6M976.4 644.9h7.8M1070.0 644.9h10.4M1088.2 644.9h5.2M1101.2 644.9h5.2M1109.0 644.9h20.8M1249.4 644.9h15.6M1267.6 644.9h13.0M1288.4 644.9h5.2M1309.2 644.9h18.2M1397.6 644.9h5.2M877.6 647.5h7.8M908.8 647.5h20.8M934.8 647.5h20.8M960.8 647.5h23.4M1070.0 647.5h10.4M1085.6 647.5h10.4M1101.2 647.5h20.8M1127.2 647.5h5.2M1145.4 647.5h2.6M1252.0 647.5h23.4M1278.0 647.5h2.6M1311.8 647.5h15.6M1395.0 647.5h2.6M326.4 650.1h2.6M888.0 650.1h2.6M903.6 650.1h2.6M919.2 650.1h7.8M934.8 650.1h2.6M940.0 650.1h10.4M953.0 650.1h33.8M999.8 650.1h2.6M1075.2 650.1h2.6M1083.0 650.1h5.2M1090.8 650.1h15.6M1114.2 650.1h20.8M1145.4 650.1h5.2M1244.2 650.1h2.6M1252.0 650.1h5.2M1259.8 650.1h10.4M1272.8 650.1h2.6M1278.0 650.1h2.6M1309.2 650.1h10.4M1322.2 650.1h5.2M1389.8 650.1h5.2M888.0 652.7h2.6M937.4 652.7h7.8M986.8 652.7h2.6M999.8 652.7h5.2M1018.0 652.7h5.2M1083.0 652.7h20.8M1116.8 652.7h10.4M1129.8 652.7h5.2M1142.8 652.7h5.2M1244.2 652.7h2.6M1252.0 652.7h2.6M1265.0 652.7h2.6M1270.2 652.7h13.0M1306.6 652.7h5.2M1314.4 652.7h7.8M1358.6 652.7h2.6M1384.6 652.7h5.2M901.0 655.3h2.6M908.8 655.3h2.6M919.2 655.3h10.4M992.0 655.3h2.6M999.8 655.3h5.2M1018.0 655.3h7.8M1080.4 655.3h5.2M1090.8 655.3h2.6M1096.0 655.3h7.8M1111.6 655.3h2.6M1116.8 655.3h10.4M1129.8 655.3h5.2M1140.2 655.3h7.8M1252.0 655.3h2.6M1267.6 655.3h15.6M1309.2 655.3h5.2M1317.0 655.3h5.2M1384.6 655.3h2.6M898.4 657.9h2.6M911.4 657.9h10.4M924.4 657.9h10.4M1005.0 657.9h5.2M1015.4 657.9h10.4M1070.0 657.9h2.6M1077.8 657.9h7.8M1101.2 657.9h5.2M1111.6 657.9h2.6M1124.6 657.9h2.6M1129.8 657.9h5.2M1137.6 657.9h10.4M1252.0 657.9h5.2M1265.0 657.9h2.6M1270.2 657.9h7.8M1309.2 657.9h10.4M1384.6 657.9h13.0M872.4 660.5h5.2M880.2 660.5h2.6M890.6 660.5h2.6M895.8 660.5h2.6M924.4 660.5h10.4M999.8 660.5h2.6M1018.0 660.5h5.2M1067.4 660.5h2.6M1075.2 660.5h5.2M1083.0 660.5h2.6M1103.8 660.5h2.6M1111.6 660.5h2.6M1127.2 660.5h13.0M1142.8 660.5h5.2M1254.6 660.5h7.8M1265.0 660.5h2.6M1311.8 660.5h2.6M1382.0 660.5h7.8M877.6 663.1h5.2M893.2 663.1h5.2M924.4 663.1h13.0M1010.2 663.1h2.6M1020.6 663.1h2.6M1064.8 663.1h5.2M1075.2 663.1h5.2M1083.0 663.1h2.6M1090.8 663.1h2.6M1103.8 663.1h10.4M1122.0 663.1h2.6M1132.4 663.1h5.2M1140.2 663.1h15.6M1252.0 663.1h10.4M1267.6 663.1h2.6M1384.6 663.1h2.6M927.0 665.7h5.2M1010.2 665.7h2.6M1057.0 665.7h2.6M1077.8 665.7h2.6M1083.0 665.7h5.2M1090.8 665.7h2.6M1106.4 665.7h13.0M1122.0 665.7h5.2M1135.0 665.7h23.4M1249.4 665.7h18.2M1270.2 665.7h7.8M1376.8 665.7h7.8M927.0 668.3h2.6M958.2 668.3h5.2M1018.0 668.3h2.6M1054.4 668.3h5.2M1077.8 668.3h18.2M1106.4 668.3h2.6M1111.6 668.3h36.4M1150.6 668.3h10.4M1246.8 668.3h15.6M1275.4 668.3h7.8M1376.8 668.3h10.4M919.2 670.9h2.6M958.2 670.9h2.6M1051.8 670.9h10.4M1080.4 670.9h20.8M1109.0 670.9h2.6M1114.2 670.9h31.2M1148.0 670.9h15.6M1246.8 670.9h15.6M1275.4 670.9h2.6M1374.2 670.9h2.6M921.8 673.5h2.6M1028.4 673.5h2.6M1051.8 673.5h10.4M1067.4 673.5h2.6M1080.4 673.5h10.4M1096.0 673.5h5.2M1103.8 673.5h26.0M1137.6 673.5h2.6M1142.8 673.5h20.8M1187.0 673.5h2.6M1246.8 673.5h15.6M1278.0 673.5h2.6M1384.6 673.5h2.6M1051.8 676.1h7.8M1067.4 676.1h2.6M1083.0 676.1h2.6M1096.0 676.1h26.0M1124.6 676.1h5.2M1140.2 676.1h10.4M1155.8 676.1h10.4M1187.0 676.1h2.6M1244.2 676.1h5.2M1252.0 676.1h7.8M1382.0 676.1h2.6M1023.2 678.7h5.2M1036.2 678.7h2.6M1049.2 678.7h10.4M1064.8 678.7h2.6M1085.6 678.7h2.6M1096.0 678.7h15.6M1116.8 678.7h13.0M1137.6 678.7h10.4M1150.6 678.7h2.6M1155.8 678.7h13.0M1241.6 678.7h5.2M1252.0 678.7h7.8M1376.8 678.7h5.2M1036.2 681.3h7.8M1049.2 681.3h13.0M1096.0 681.3h2.6M1101.2 681.3h10.4M1114.2 681.3h13.0M1135.0 681.3h13.0M1158.4 681.3h10.4M1233.8 681.3h7.8M1252.0 681.3h7.8M1049.2 683.9h7.8M1093.4 683.9h20.8M1116.8 683.9h10.4M1132.4 683.9h18.2M1158.4 683.9h13.0M1215.6 683.9h13.0M1231.2 683.9h7.8M1098.6 686.5h2.6M1109.0 686.5h10.4M1122.0 686.5h2.6M1135.0 686.5h13.0M1153.2 686.5h7.8M1166.2 686.5h7.8M1181.8 686.5h2.6M1213.0 686.5h31.2M1249.4 686.5h2.6M1111.6 689.1h18.2M1132.4 689.1h2.6M1140.2 689.1h10.4M1155.8 689.1h2.6M1168.8 689.1h15.6M1210.4 689.1h23.4M1236.4 689.1h7.8M1249.4 689.1h2.6M1114.2 691.7h15.6M1140.2 691.7h2.6M1148.0 691.7h5.2M1155.8 691.7h2.6M1174.0 691.7h7.8M1213.0 691.7h15.6M1236.4 691.7h15.6M1114.2 694.3h2.6M1122.0 694.3h2.6M1129.8 694.3h5.2M1148.0 694.3h2.6M1153.2 694.3h5.2M1210.4 694.3h18.2M1236.4 694.3h13.0M1254.6 694.3h2.6M1127.2 696.9h7.8M1142.8 696.9h5.2M1150.6 696.9h5.2M1184.4 696.9h13.0M1207.8 696.9h39.0M1254.6 696.9h7.8M1129.8 699.5h31.2M1187.0 699.5h2.6M1207.8 699.5h5.2M1215.6 699.5h20.8M1239.0 699.5h7.8M1254.6 699.5h5.2M1129.8 702.1h10.4M1142.8 702.1h5.2M1158.4 702.1h5.2M1181.8 702.1h5.2M1192.2 702.1h5.2M1207.8 702.1h2.6M1220.8 702.1h7.8M1231.2 702.1h13.0M1254.6 702.1h2.6M1129.8 704.7h2.6M1158.4 704.7h5.2M1174.0 704.7h2.6M1179.2 704.7h2.6M1184.4 704.7h2.6M1207.8 704.7h2.6M1223.4 704.7h7.8M1236.4 704.7h5.2M1158.4 707.3h5.2M1176.6 707.3h5.2M1200.0 707.3h5.2M1207.8 707.3h2.6M1226.0 707.3h2.6M1236.4 707.3h2.6M1161.0 709.9h2.6M1202.6 709.9h2.6M1231.2 715.1h2.6"/>
<path stroke="#7a0058" d="M643.6 148.3h10.4M661.8 148.3h104.0M776.2 148.3h286.0M1077.8 148.3h5.2M1088.2 148.3h317.2M646.2 150.9h7.8M661.8 150.9h104.0M773.6 150.9h288.6M1077.8 150.9h2.6M1093.4 150.9h312.0M661.8 153.5h104.0M771.0 153.5h286.0M1075.2 153.5h5.2M1088.2 153.5h5.2M1098.6 153.5h306.8M664.4 156.1h390.0M1075.2 156.1h18.2M1098.6 156.1h18.2M1119.4 156.1h286.0M651.4 158.7h2.6M667.0 158.7h387.4M1075.2 158.7h18.2M1101.2 158.7h304.2M651.4 161.3h5.2M664.4 161.3h387.4M1064.8 161.3h2.6M1075.2 161.3h15.6M1101.2 161.3h15.6M1119.4 161.3h286.0M651.4 163.9h5.2M664.4 163.9h384.8M1059.6 163.9h10.4M1080.4 163.9h7.8M1101.2 163.9h13.0M1119.4 163.9h286.0M651.4 166.5h5.2M664.4 166.5h384.8M1059.6 166.5h7.8M1083.0 166.5h5.2M1098.6 166.5h13.0M1122.0 166.5h283.4M654.0 169.1h2.6M659.2 169.1h2.6M664.4 169.1h358.8M1025.8 169.1h10.4M1044.0 169.1h5.2M1057.0 169.1h15.6M1083.0 169.1h5.2M1098.6 169.1h13.0M1124.6 169.1h280.8M664.4 171.7h104.0M773.6 171.7h247.0M1023.2 171.7h13.0M1041.4 171.7h5.2M1054.4 171.7h18.2M1098.6 171.7h10.4M1127.2 171.7h249.6M1379.4 171.7h26.0M656.6 174.3h2.6M664.4 174.3h106.6M773.6 174.3h244.4M1028.4 174.3h5.2M1036.2 174.3h10.4M1054.4 174.3h13.0M1088.2 174.3h2.6M1109.0 174.3h10.4M1127.2 174.3h5.2M1135.0 174.3h270.4M656.6 176.9h2.6M664.4 176.9h117.0M784.0 176.9h234.0M1031.0 176.9h15.6M1057.0 176.9h7.8M1085.6 176.9h5.2M1109.0 176.9h13.0M1127.2 176.9h2.6M1137.6 176.9h267.8M656.6 179.5h5.2M664.4 179.5h111.8M784.0 179.5h18.2M804.8 179.5h210.6M1033.6 179.5h15.6M1059.6 179.5h5.2M1098.6 179.5h2.6M1109.0 179.5h20.8M1137.6 179.5h267.8M656.6 182.1h5.2M664.4 182.1h109.2M784.0 182.1h18.2M807.4 182.1h208.0M1036.2 182.1h13.0M1064.8 182.1h2.6M1075.2 182.1h2.6M1098.6 182.1h306.8M656.6 184.7h2.6M661.8 184.7h114.4M784.0 184.7h23.4M815.2 184.7h197.6M1041.4 184.7h5.2M1075.2 184.7h2.6M1098.6 184.7h2.6M1103.8 184.7h301.6M659.2 187.3h119.6M781.4 187.3h13.0M807.4 187.3h2.6M820.4 187.3h2.6M825.6 187.3h187.2M1057.0 187.3h5.2M1093.4 187.3h5.2M1103.8 187.3h301.6M651.4 189.9h2.6M659.2 189.9h117.0M789.2 189.9h2.6M828.2 189.9h184.6M1054.4 189.9h7.8M1070.0 189.9h2.6M1090.8 189.9h314.6M664.4 192.5h2.6M672.2 192.5h93.6M812.6 192.5h2.6M833.4 192.5h176.8M1033.6 192.5h5.2M1044.0 192.5h2.6M1051.8 192.5h23.4M1083.0 192.5h322.4M674.8 195.1h91.0M812.6 195.1h5.2M833.4 195.1h182.0M1023.2 195.1h26.0M1051.8 195.1h26.0M1083.0 195.1h322.4M677.4 197.7h88.4M784.0 197.7h5.2M828.2 197.7h221.0M1051.8 197.7h28.6M1083.0 197.7h13.0M1098.6 197.7h306.8M669.6 200.3h2.6M680.0 200.3h13.0M695.6 200.3h70.2M784.0 200.3h5.2M828.2 200.3h2.6M836.0 200.3h244.4M1083.0 200.3h322.4M669.6 202.9h2.6M674.8 202.9h5.2M685.2 202.9h13.0M700.8 202.9h57.2M838.6 202.9h241.8M1083.0 202.9h322.4M667.0 205.5h5.2M674.8 205.5h80.6M838.6 205.5h533.0M1379.4 205.5h26.0M667.0 208.1h5.2M674.8 208.1h72.8M828.2 208.1h2.6M833.4 208.1h306.8M1145.4 208.1h213.2M1361.2 208.1h7.8M1379.4 208.1h26.0M682.6 210.7h5.2M695.6 210.7h52.0M833.4 210.7h538.2M1382.0 210.7h23.4M677.4 213.3h13.0M695.6 213.3h2.6M700.8 213.3h44.2M828.2 213.3h2.6M836.0 213.3h535.6M1379.4 213.3h26.0M680.0 215.9h20.8M703.4 215.9h28.6M737.2 215.9h5.2M838.6 215.9h566.8M680.0 218.5h10.4M695.6 218.5h7.8M706.0 218.5h26.0M739.8 218.5h2.6M745.0 218.5h2.6M841.2 218.5h2.6M854.2 218.5h551.2M695.6 221.1h10.4M708.6 221.1h18.2M729.4 221.1h2.6M856.8 221.1h548.6M698.2 223.7h7.8M708.6 223.7h23.4M737.2 223.7h2.6M817.8 223.7h2.6M836.0 223.7h2.6M856.8 223.7h65.0M927.0 223.7h478.4M669.6 226.3h2.6M698.2 226.3h7.8M708.6 226.3h18.2M856.8 226.3h67.6M927.0 226.3h296.4M1226.0 226.3h179.4M698.2 228.9h26.0M856.8 228.9h548.6M698.2 231.5h10.4M711.2 231.5h20.8M856.8 231.5h548.6M698.2 234.1h10.4M716.4 234.1h15.6M856.8 234.1h548.6M698.2 236.7h15.6M719.0 236.7h10.4M856.8 236.7h23.4M885.4 236.7h520.0M698.2 239.3h20.8M724.2 239.3h2.6M856.8 239.3h548.6M698.2 241.9h28.6M859.4 241.9h546.0M700.8 244.5h23.4M812.6 244.5h5.2M862.0 244.5h543.4M706.0 247.1h5.2M719.0 247.1h5.2M812.6 247.1h5.2M828.2 247.1h5.2M862.0 247.1h533.0M703.4 249.7h2.6M708.6 249.7h2.6M719.0 249.7h5.2M812.6 249.7h5.2M862.0 249.7h530.4M713.8 252.3h5.2M862.0 252.3h530.4M1402.8 252.3h2.6M862.0 254.9h39.0M906.2 254.9h57.2M966.0 254.9h429.0M862.0 257.5h39.0M906.2 257.5h54.6M968.6 257.5h23.4M994.6 257.5h403.0M862.0 260.1h39.0M906.2 260.1h54.6M966.0 260.1h439.4M862.0 262.7h119.6M986.8 262.7h418.6M815.2 265.3h5.2M851.6 265.3h2.6M859.4 265.3h119.6M986.8 265.3h418.6M830.8 267.9h2.6M851.6 267.9h130.0M989.4 267.9h267.8M1259.8 267.9h145.6M833.4 270.5h2.6M841.2 270.5h2.6M851.6 270.5h5.2M859.4 270.5h124.8M986.8 270.5h270.4M1262.4 270.5h132.6M1397.6 270.5h2.6M734.6 273.1h2.6M843.8 273.1h2.6M854.2 273.1h2.6M859.4 273.1h400.4M1265.0 273.1h132.6M841.2 275.7h5.2M859.4 275.7h5.2M867.2 275.7h390.0M1267.6 275.7h130.0M836.0 278.3h2.6M843.8 278.3h2.6M856.8 278.3h5.2M869.8 278.3h390.0M1270.2 278.3h2.6M1278.0 278.3h28.6M1311.8 278.3h85.8M849.0 280.9h2.6M862.0 280.9h403.0M1275.4 280.9h28.6M1309.2 280.9h88.4M849.0 283.5h431.6M1285.8 283.5h111.8M1400.2 283.5h2.6M843.8 286.1h351.0M1200.0 286.1h80.6M1283.2 286.1h111.8M1397.6 286.1h2.6M843.8 288.7h2.6M849.0 288.7h345.8M1200.0 288.7h197.6M1402.8 288.7h2.6M849.0 291.3h15.6M867.2 291.3h327.6M1202.6 291.3h184.6M1389.8 291.3h15.6M856.8 293.9h5.2M864.6 293.9h327.6M1200.0 293.9h187.2M1389.8 293.9h15.6M867.2 296.5h2.6M877.6 296.5h507.0M1389.8 296.5h13.0M854.2 299.1h2.6M867.2 299.1h2.6M877.6 299.1h501.8M1392.4 299.1h10.4M869.8 301.7h2.6M880.2 301.7h501.8M1397.6 301.7h2.6M880.2 304.3h148.2M1033.6 304.3h351.0M869.8 306.9h2.6M880.2 306.9h148.2M1033.6 306.9h353.6M1402.8 306.9h2.6M877.6 309.5h166.4M1046.6 309.5h340.6M1402.8 309.5h2.6M877.6 312.1h5.2M885.4 312.1h499.2M1397.6 312.1h2.6M877.6 314.7h2.6M888.0 314.7h499.2M1397.6 314.7h7.8M867.2 317.3h5.2M875.0 317.3h2.6M890.6 317.3h496.6M1395.0 317.3h10.4M875.0 319.9h7.8M890.6 319.9h496.6M1395.0 319.9h10.4M882.8 322.5h2.6M893.2 322.5h98.8M994.6 322.5h392.6M1392.4 322.5h13.0M882.8 325.1h2.6M893.2 325.1h98.8M997.2 325.1h390.0M1395.0 325.1h10.4M895.8 327.7h46.8M945.2 327.7h7.8M960.8 327.7h189.8M1153.2 327.7h234.0M1397.6 327.7h7.8M898.4 330.3h44.2M960.8 330.3h257.4M1223.4 330.3h166.4M1400.2 330.3h5.2M898.4 332.9h44.2M953.0 332.9h2.6M960.8 332.9h7.8M971.2 332.9h236.6M1213.0 332.9h5.2M1220.8 332.9h153.4M1379.4 332.9h5.2M1400.2 332.9h5.2M898.4 335.5h57.2M958.2 335.5h413.4M1400.2 335.5h5.2M893.2 338.1h5.2M901.0 338.1h54.6M958.2 338.1h23.4M984.2 338.1h223.6M1213.0 338.1h161.2M1379.4 338.1h10.4M893.2 340.7h2.6M903.6 340.7h78.0M986.8 340.7h221.0M1218.2 340.7h174.2M903.6 343.3h18.2M927.0 343.3h26.0M955.6 343.3h28.6M989.4 343.3h218.4M1215.6 343.3h176.8M1402.8 343.3h2.6M903.6 345.9h49.4M955.6 345.9h28.6M992.0 345.9h218.4M1215.6 345.9h176.8M901.0 348.5h2.6M906.2 348.5h5.2M919.2 348.5h31.2M955.6 348.5h10.4M992.0 348.5h218.4M1215.6 348.5h176.8M1402.8 348.5h2.6M906.2 351.1h2.6M919.2 351.1h31.2M994.6 351.1h215.8M1215.6 351.1h174.2M1402.8 351.1h2.6M908.8 353.7h2.6M919.2 353.7h39.0M981.6 353.7h5.2M997.2 353.7h215.8M1215.6 353.7h174.2M1402.8 353.7h2.6M908.8 356.3h2.6M921.8 356.3h36.4M981.6 356.3h5.2M992.0 356.3h390.0M1384.6 356.3h5.2M903.6 358.9h7.8M921.8 358.9h18.2M945.2 358.9h13.0M981.6 358.9h80.6M1064.8 358.9h317.2M1387.2 358.9h2.6M908.8 361.5h2.6M921.8 361.5h10.4M947.8 361.5h10.4M981.6 361.5h80.6M1064.8 361.5h153.4M1220.8 361.5h161.2M1387.2 361.5h2.6M885.4 364.1h2.6M901.0 364.1h2.6M924.4 364.1h2.6M934.8 364.1h5.2M950.4 364.1h10.4M981.6 364.1h234.0M1220.8 364.1h169.0M1397.6 364.1h5.2M901.0 366.7h2.6M911.4 366.7h5.2M921.8 366.7h7.8M934.8 366.7h7.8M953.0 366.7h10.4M981.6 366.7h234.0M1220.8 366.7h83.2M1306.6 366.7h96.2M901.0 369.3h2.6M914.0 369.3h15.6M955.6 369.3h10.4M981.6 369.3h234.0M1228.6 369.3h174.2M901.0 371.9h2.6M911.4 371.9h18.2M960.8 371.9h5.2M984.2 371.9h5.2M992.0 371.9h226.2M1241.6 371.9h153.4M1400.2 371.9h5.2M901.0 374.5h5.2M908.8 374.5h18.2M963.4 374.5h2.6M968.6 374.5h2.6M992.0 374.5h226.2M1239.0 374.5h156.0M901.0 377.1h5.2M916.6 377.1h10.4M997.2 377.1h221.0M1236.4 377.1h158.6M901.0 379.7h7.8M916.6 379.7h10.4M953.0 379.7h5.2M968.6 379.7h2.6M997.2 379.7h221.0M1236.4 379.7h158.6M1402.8 379.7h2.6M901.0 382.3h7.8M919.2 382.3h7.8M955.6 382.3h2.6M997.2 382.3h221.0M1233.8 382.3h161.2M1400.2 382.3h5.2M901.0 384.9h10.4M921.8 384.9h2.6M997.2 384.9h221.0M1226.0 384.9h171.6M1402.8 384.9h2.6M901.0 387.5h13.0M955.6 387.5h2.6M986.8 387.5h7.8M999.8 387.5h397.8M1402.8 387.5h2.6M906.2 390.1h10.4M921.8 390.1h10.4M937.4 390.1h2.6M955.6 390.1h5.2M986.8 390.1h5.2M1002.4 390.1h395.2M1400.2 390.1h5.2M911.4 392.7h15.6M958.2 392.7h2.6M1005.0 392.7h340.6M1348.2 392.7h49.4M1400.2 392.7h5.2M911.4 395.3h13.0M942.6 395.3h2.6M1005.0 395.3h390.0M1400.2 395.3h5.2M916.6 397.9h10.4M1005.0 397.9h169.0M1176.6 397.9h228.8M916.6 400.5h13.0M1005.0 400.5h156.0M1163.6 400.5h2.6M1168.8 400.5h122.2M1298.8 400.5h70.2M1371.6 400.5h7.8M1382.0 400.5h23.4M919.2 403.1h10.4M1002.4 403.1h156.0M1168.8 403.1h122.2M1298.8 403.1h70.2M1371.6 403.1h5.2M1384.6 403.1h20.8M921.8 405.7h2.6M927.0 405.7h5.2M994.6 405.7h163.8M1168.8 405.7h2.6M1174.0 405.7h85.8M1262.4 405.7h26.0M1296.2 405.7h83.2M1384.6 405.7h10.4M1400.2 405.7h5.2M929.6 408.3h2.6M994.6 408.3h18.2M1015.4 408.3h213.2M1231.2 408.3h28.6M1262.4 408.3h119.6M1384.6 408.3h7.8M1400.2 408.3h5.2M937.4 410.9h2.6M942.6 410.9h2.6M973.8 410.9h5.2M997.2 410.9h15.6M1015.4 410.9h213.2M1239.0 410.9h7.8M1257.2 410.9h148.2M937.4 413.5h7.8M960.8 413.5h5.2M976.4 413.5h5.2M994.6 413.5h234.0M1259.8 413.5h145.6M940.0 416.1h2.6M958.2 416.1h5.2M997.2 416.1h184.6M1187.0 416.1h44.2M1262.4 416.1h143.0M937.4 418.7h2.6M1005.0 418.7h171.6M1189.6 418.7h41.6M1265.0 418.7h140.4M932.2 421.3h10.4M1005.0 421.3h28.6M1036.2 421.3h137.8M1189.6 421.3h41.6M1239.0 421.3h5.2M1259.8 421.3h145.6M932.2 423.9h13.0M1005.0 423.9h171.6M1189.6 423.9h117.0M1314.4 423.9h65.0M1384.6 423.9h20.8M929.6 426.5h7.8M940.0 426.5h13.0M971.2 426.5h7.8M1002.4 426.5h67.6M1072.6 426.5h111.8M1187.0 426.5h117.0M1319.6 426.5h54.6M1384.6 426.5h20.8M940.0 429.1h15.6M971.2 429.1h13.0M1002.4 429.1h182.0M1187.0 429.1h117.0M1319.6 429.1h62.4M1392.4 429.1h13.0M945.2 431.7h13.0M971.2 431.7h15.6M999.8 431.7h304.2M1319.6 431.7h67.6M1392.4 431.7h13.0M945.2 434.3h15.6M971.2 434.3h15.6M989.4 434.3h5.2M999.8 434.3h286.0M1288.4 434.3h15.6M1322.2 434.3h67.6M1392.4 434.3h13.0M942.6 436.9h13.0M968.6 436.9h197.6M1168.8 436.9h114.4M1291.0 436.9h10.4M1327.4 436.9h7.8M1337.8 436.9h41.6M1382.0 436.9h7.8M1392.4 436.9h13.0M940.0 439.5h15.6M968.6 439.5h197.6M1168.8 439.5h114.4M1298.8 439.5h2.6M1327.4 439.5h7.8M1340.4 439.5h13.0M1356.0 439.5h23.4M1384.6 439.5h20.8M940.0 442.1h2.6M945.2 442.1h13.0M971.2 442.1h33.8M1007.6 442.1h273.0M1298.8 442.1h2.6M1340.4 442.1h10.4M1358.6 442.1h13.0M1374.2 442.1h5.2M1389.8 442.1h15.6M940.0 444.7h18.2M968.6 444.7h312.0M1288.4 444.7h2.6M1298.8 444.7h2.6M1358.6 444.7h2.6M1392.4 444.7h13.0M940.0 447.3h10.4M966.0 447.3h96.2M1064.8 447.3h163.8M1236.4 447.3h54.6M1301.4 447.3h5.2M1322.2 447.3h7.8M1387.2 447.3h18.2M940.0 449.9h10.4M963.4 449.9h5.2M971.2 449.9h314.6M1322.2 449.9h10.4M1343.0 449.9h7.8M1384.6 449.9h20.8M940.0 452.5h13.0M966.0 452.5h319.8M1319.6 452.5h5.2M1327.4 452.5h5.2M1343.0 452.5h10.4M1361.2 452.5h2.6M1384.6 452.5h20.8M940.0 455.1h5.2M947.8 455.1h7.8M963.4 455.1h322.4M1296.2 455.1h5.2M1306.6 455.1h5.2M1319.6 455.1h5.2M1340.4 455.1h13.0M1358.6 455.1h5.2M1379.4 455.1h2.6M1387.2 455.1h18.2M950.4 457.7h5.2M960.8 457.7h36.4M1002.4 457.7h286.0M1296.2 457.7h15.6M1317.0 457.7h2.6M1322.2 457.7h10.4M1337.8 457.7h13.0M1353.4 457.7h13.0M1379.4 457.7h2.6M950.4 460.3h5.2M960.8 460.3h20.8M984.2 460.3h13.0M1002.4 460.3h221.0M1228.6 460.3h7.8M1241.6 460.3h7.8M1252.0 460.3h59.8M1314.4 460.3h5.2M1322.2 460.3h10.4M1340.4 460.3h26.0M947.8 462.9h7.8M960.8 462.9h15.6M981.6 462.9h15.6M1002.4 462.9h54.6M1059.6 462.9h122.2M1187.0 462.9h36.4M1231.2 462.9h2.6M1252.0 462.9h54.6M1317.0 462.9h18.2M1348.2 462.9h5.2M1356.0 462.9h10.4M1402.8 462.9h2.6M924.4 465.5h2.6M929.6 465.5h5.2M945.2 465.5h10.4M960.8 465.5h15.6M981.6 465.5h72.8M1062.2 465.5h114.4M1189.6 465.5h33.8M1254.6 465.5h52.0M1317.0 465.5h18.2M1340.4 465.5h5.2M1358.6 465.5h2.6M1376.8 465.5h7.8M1402.8 465.5h2.6M927.0 468.1h7.8M940.0 468.1h15.6M960.8 468.1h93.6M1059.6 468.1h109.2M1192.2 468.1h33.8M1254.6 468.1h52.0M1317.0 468.1h31.2M1356.0 468.1h10.4M1379.4 468.1h7.8M927.0 470.7h5.2M937.4 470.7h15.6M960.8 470.7h208.0M1192.2 470.7h39.0M1249.4 470.7h36.4M1291.0 470.7h15.6M1314.4 470.7h33.8M1358.6 470.7h2.6M1402.8 470.7h2.6M924.4 473.3h2.6M937.4 473.3h13.0M955.6 473.3h213.2M1189.6 473.3h44.2M1249.4 473.3h33.8M1293.6 473.3h13.0M1322.2 473.3h18.2M1348.2 473.3h5.2M906.2 475.9h2.6M914.0 475.9h5.2M921.8 475.9h2.6M937.4 475.9h10.4M955.6 475.9h213.2M1179.2 475.9h5.2M1187.0 475.9h54.6M1249.4 475.9h33.8M1298.8 475.9h5.2M1322.2 475.9h15.6M1345.6 475.9h13.0M901.0 478.5h10.4M914.0 478.5h10.4M929.6 478.5h20.8M955.6 478.5h327.6M1322.2 478.5h15.6M1343.0 478.5h15.6M1389.8 478.5h15.6M898.4 481.1h23.4M929.6 481.1h36.4M968.6 481.1h252.2M1233.8 481.1h28.6M1265.0 481.1h10.4M1322.2 481.1h15.6M1343.0 481.1h18.2M1389.8 481.1h5.2M898.4 483.7h23.4M929.6 483.7h36.4M968.6 483.7h218.4M1192.2 483.7h20.8M1236.4 483.7h7.8M1246.8 483.7h13.0M1265.0 483.7h7.8M1319.6 483.7h18.2M1343.0 483.7h18.2M1392.4 483.7h5.2M914.0 486.3h5.2M929.6 486.3h257.4M1194.8 486.3h13.0M1236.4 486.3h7.8M1246.8 486.3h7.8M1267.6 486.3h20.8M1314.4 486.3h10.4M1330.0 486.3h36.4M1395.0 486.3h2.6M914.0 488.9h5.2M929.6 488.9h26.0M958.2 488.9h226.2M1194.8 488.9h10.4M1220.8 488.9h18.2M1246.8 488.9h5.2M1257.2 488.9h36.4M1298.8 488.9h2.6M1311.8 488.9h15.6M1330.0 488.9h39.0M903.6 491.5h13.0M927.0 491.5h260.0M1197.4 491.5h5.2M1213.0 491.5h26.0M1259.8 491.5h31.2M1306.6 491.5h20.8M1335.2 491.5h36.4M851.6 494.1h5.2M901.0 494.1h13.0M921.8 494.1h262.6M1205.2 494.1h33.8M1267.6 494.1h20.8M1314.4 494.1h13.0M1335.2 494.1h36.4M1384.6 494.1h5.2M1400.2 494.1h5.2M849.0 496.7h7.8M906.2 496.7h280.8M1197.4 496.7h33.8M1233.8 496.7h5.2M1267.6 496.7h18.2M1317.0 496.7h10.4M1335.2 496.7h20.8M1361.2 496.7h10.4M1374.2 496.7h10.4M908.8 499.3h278.2M1192.2 499.3h36.4M1233.8 499.3h5.2M1267.6 499.3h20.8M1319.6 499.3h33.8M1361.2 499.3h18.2M911.4 501.9h10.4M927.0 501.9h260.0M1192.2 501.9h36.4M1233.8 501.9h5.2M1267.6 501.9h23.4M1311.8 501.9h2.6M1319.6 501.9h33.8M1361.2 501.9h18.2M914.0 504.5h7.8M927.0 504.5h83.2M1015.4 504.5h132.6M1153.2 504.5h26.0M1194.8 504.5h10.4M1207.8 504.5h2.6M1215.6 504.5h7.8M1226.0 504.5h2.6M1236.4 504.5h2.6M1275.4 504.5h18.2M1309.2 504.5h5.2M1327.4 504.5h5.2M1335.2 504.5h18.2M1361.2 504.5h7.8M1374.2 504.5h2.6M914.0 507.1h98.8M1018.0 507.1h130.0M1153.2 507.1h26.0M1200.0 507.1h2.6M1213.0 507.1h18.2M1236.4 507.1h2.6M1275.4 507.1h13.0M1291.0 507.1h7.8M1304.0 507.1h10.4M1337.8 507.1h10.4M1358.6 507.1h10.4M911.4 509.7h104.0M1018.0 509.7h5.2M1025.8 509.7h122.2M1155.8 509.7h20.8M1210.4 509.7h28.6M1278.0 509.7h7.8M1291.0 509.7h7.8M1301.4 509.7h10.4M1340.4 509.7h5.2M1356.0 509.7h10.4M851.6 512.3h5.2M877.6 512.3h7.8M911.4 512.3h236.6M1155.8 512.3h20.8M1192.2 512.3h2.6M1207.8 512.3h2.6M1213.0 512.3h26.0M1293.6 512.3h18.2M1353.4 512.3h10.4M851.6 514.9h7.8M864.6 514.9h31.2M914.0 514.9h231.4M1155.8 514.9h20.8M1192.2 514.9h7.8M1202.6 514.9h36.4M1293.6 514.9h15.6M1311.8 514.9h2.6M1317.0 514.9h2.6M1335.2 514.9h7.8M1353.4 514.9h7.8M836.0 517.5h7.8M854.2 517.5h5.2M862.0 517.5h36.4M911.4 517.5h234.0M1150.6 517.5h18.2M1192.2 517.5h46.8M1293.6 517.5h26.0M1327.4 517.5h2.6M1337.8 517.5h7.8M1350.8 517.5h7.8M833.4 520.1h10.4M856.8 520.1h2.6M862.0 520.1h36.4M916.6 520.1h228.8M1150.6 520.1h20.8M1194.8 520.1h13.0M1210.4 520.1h31.2M1291.0 520.1h28.6M1327.4 520.1h26.0M833.4 522.7h13.0M856.8 522.7h10.4M869.8 522.7h7.8M880.2 522.7h15.6M898.4 522.7h2.6M911.4 522.7h5.2M919.2 522.7h228.8M1150.6 522.7h20.8M1202.6 522.7h5.2M1220.8 522.7h20.8M1291.0 522.7h28.6M1327.4 522.7h26.0M828.2 525.3h20.8M856.8 525.3h20.8M880.2 525.3h20.8M906.2 525.3h265.2M1220.8 525.3h20.8M1288.4 525.3h31.2M1332.6 525.3h18.2M825.6 527.9h26.0M854.2 527.9h46.8M903.6 527.9h213.2M1124.6 527.9h31.2M1161.0 527.9h10.4M1174.0 527.9h7.8M1210.4 527.9h2.6M1223.4 527.9h20.8M1291.0 527.9h28.6M1330.0 527.9h20.8M825.6 530.5h7.8M836.0 530.5h2.6M846.4 530.5h5.2M854.2 530.5h2.6M859.4 530.5h36.4M903.6 530.5h189.8M1098.6 530.5h15.6M1127.2 530.5h26.0M1161.0 530.5h10.4M1174.0 530.5h5.2M1213.0 530.5h2.6M1220.8 530.5h23.4M1293.6 530.5h23.4M1330.0 530.5h5.2M1337.8 530.5h13.0M833.4 533.1h5.2M849.0 533.1h5.2M856.8 533.1h33.8M898.4 533.1h189.8M1103.8 533.1h15.6M1127.2 533.1h26.0M1161.0 533.1h18.2M1210.4 533.1h2.6M1215.6 533.1h28.6M1246.8 533.1h5.2M1293.6 533.1h15.6M1330.0 533.1h2.6M1335.2 533.1h2.6M1340.4 533.1h7.8M836.0 535.7h2.6M849.0 535.7h36.4M898.4 535.7h187.2M1101.2 535.7h18.2M1124.6 535.7h44.2M1213.0 535.7h23.4M1270.2 535.7h5.2M1291.0 535.7h15.6M851.6 538.3h33.8M895.8 538.3h187.2M1098.6 538.3h67.6M1197.4 538.3h5.2M1215.6 538.3h23.4M1267.6 538.3h10.4M1285.8 538.3h23.4M836.0 540.9h2.6M843.8 540.9h2.6M851.6 540.9h36.4M890.6 540.9h192.4M1093.4 540.9h72.8M1179.2 540.9h26.0M1215.6 540.9h26.0M1262.4 540.9h10.4M1285.8 540.9h23.4M836.0 543.5h2.6M843.8 543.5h5.2M854.2 543.5h10.4M872.4 543.5h296.4M1179.2 543.5h26.0M1218.2 543.5h18.2M1265.0 543.5h7.8M1283.2 543.5h2.6M1288.4 543.5h23.4M843.8 546.1h7.8M854.2 546.1h7.8M875.0 546.1h96.2M973.8 546.1h195.0M1181.8 546.1h23.4M1218.2 546.1h15.6M1265.0 546.1h2.6M1270.2 546.1h2.6M1283.2 546.1h26.0M833.4 548.7h5.2M846.4 548.7h13.0M875.0 548.7h296.4M1184.4 548.7h20.8M1218.2 548.7h13.0M1265.0 548.7h2.6M1285.8 548.7h5.2M1293.6 548.7h10.4M1309.2 548.7h7.8M851.6 551.3h10.4M877.6 551.3h291.2M1171.4 551.3h2.6M1181.8 551.3h23.4M1215.6 551.3h10.4M1285.8 551.3h2.6M1293.6 551.3h10.4M1309.2 551.3h10.4M851.6 553.9h18.2M877.6 553.9h291.2M1179.2 553.9h23.4M1215.6 553.9h2.6M1226.0 553.9h5.2M1296.2 553.9h7.8M1306.6 553.9h13.0M851.6 556.5h10.4M867.2 556.5h2.6M877.6 556.5h28.6M914.0 556.5h254.8M1179.2 556.5h20.8M1226.0 556.5h5.2M1309.2 556.5h10.4M841.2 559.1h2.6M851.6 559.1h10.4M867.2 559.1h5.2M875.0 559.1h13.0M893.2 559.1h10.4M914.0 559.1h254.8M1174.0 559.1h2.6M1181.8 559.1h18.2M1311.8 559.1h7.8M841.2 561.7h2.6M851.6 561.7h23.4M877.6 561.7h7.8M895.8 561.7h5.2M914.0 561.7h70.2M992.0 561.7h174.2M1176.6 561.7h5.2M1184.4 561.7h5.2M1192.2 561.7h7.8M1314.4 561.7h7.8M1324.8 561.7h2.6M851.6 564.3h20.8M880.2 564.3h5.2M895.8 564.3h2.6M914.0 564.3h67.6M992.0 564.3h176.8M1176.6 564.3h2.6M1317.0 564.3h7.8M854.2 566.9h20.8M914.0 566.9h5.2M927.0 566.9h15.6M945.2 566.9h36.4M992.0 566.9h176.8M1176.6 566.9h5.2M1314.4 566.9h10.4M1332.6 566.9h5.2M846.4 569.5h2.6M854.2 569.5h20.8M927.0 569.5h10.4M945.2 569.5h36.4M989.4 569.5h31.2M1023.2 569.5h145.6M1215.6 569.5h2.6M1246.8 569.5h2.6M1270.2 569.5h2.6M1278.0 569.5h7.8M1317.0 569.5h7.8M1332.6 569.5h10.4M854.2 572.1h26.0M919.2 572.1h2.6M927.0 572.1h7.8M945.2 572.1h36.4M986.8 572.1h31.2M1023.2 572.1h145.6M1215.6 572.1h2.6M1236.4 572.1h2.6M1280.6 572.1h5.2M1322.2 572.1h2.6M1332.6 572.1h2.6M1337.8 572.1h5.2M841.2 574.7h10.4M854.2 574.7h26.0M888.0 574.7h2.6M945.2 574.7h33.8M992.0 574.7h26.0M1023.2 574.7h145.6M1215.6 574.7h2.6M1280.6 574.7h2.6M1324.8 574.7h13.0M846.4 577.3h5.2M856.8 577.3h26.0M945.2 577.3h33.8M992.0 577.3h23.4M1025.8 577.3h140.4M1327.4 577.3h10.4M846.4 579.9h5.2M856.8 579.9h31.2M929.6 579.9h13.0M945.2 579.9h13.0M960.8 579.9h18.2M992.0 579.9h23.4M1025.8 579.9h10.4M1041.4 579.9h127.4M1309.2 579.9h2.6M1327.4 579.9h13.0M846.4 582.5h7.8M856.8 582.5h31.2M898.4 582.5h2.6M906.2 582.5h2.6M927.0 582.5h15.6M945.2 582.5h7.8M955.6 582.5h5.2M963.4 582.5h15.6M989.4 582.5h26.0M1028.4 582.5h7.8M1041.4 582.5h127.4M1324.8 582.5h13.0M843.8 585.1h44.2M901.0 585.1h2.6M924.4 585.1h26.0M958.2 585.1h18.2M989.4 585.1h26.0M1018.0 585.1h5.2M1028.4 585.1h5.2M1038.8 585.1h132.6M1317.0 585.1h2.6M846.4 587.7h41.6M901.0 587.7h5.2M921.8 587.7h28.6M963.4 587.7h13.0M989.4 587.7h179.4M1317.0 587.7h7.8M846.4 590.3h44.2M901.0 590.3h5.2M914.0 590.3h2.6M921.8 590.3h28.6M966.0 590.3h7.8M989.4 590.3h15.6M1007.6 590.3h49.4M1062.2 590.3h101.4M1311.8 590.3h2.6M1319.6 590.3h2.6M846.4 592.9h46.8M901.0 592.9h5.2M911.4 592.9h39.0M966.0 592.9h7.8M992.0 592.9h13.0M1007.6 592.9h156.0M1311.8 592.9h5.2M1322.2 592.9h2.6M851.6 595.5h41.6M908.8 595.5h41.6M966.0 595.5h7.8M992.0 595.5h171.6M1327.4 595.5h7.8M838.6 598.1h2.6M851.6 598.1h41.6M908.8 598.1h41.6M973.8 598.1h5.2M997.2 598.1h5.2M1005.0 598.1h158.6M851.6 600.7h44.2M908.8 600.7h41.6M968.6 600.7h13.0M999.8 600.7h158.6M1161.0 600.7h2.6M1168.8 600.7h2.6M1174.0 600.7h2.6M849.0 603.3h46.8M906.2 603.3h44.2M966.0 603.3h18.2M1002.4 603.3h7.8M1012.8 603.3h26.0M1041.4 603.3h117.0M1166.2 603.3h2.6M1171.4 603.3h5.2M849.0 605.9h44.2M906.2 605.9h49.4M966.0 605.9h20.8M999.8 605.9h36.4M1044.0 605.9h114.4M1166.2 605.9h2.6M1174.0 605.9h2.6M1179.2 605.9h2.6M1319.6 605.9h2.6M854.2 608.5h36.4M893.2 608.5h7.8M906.2 608.5h83.2M999.8 608.5h39.0M1041.4 608.5h111.8M1155.8 608.5h2.6M1166.2 608.5h2.6M1270.2 608.5h2.6M856.8 611.1h31.2M908.8 611.1h80.6M992.0 611.1h2.6M999.8 611.1h158.6M1176.6 611.1h5.2M856.8 613.7h31.2M908.8 613.7h254.8M1174.0 613.7h10.4M1187.0 613.7h2.6M846.4 616.3h2.6M856.8 616.3h39.0M901.0 616.3h265.2M1176.6 616.3h18.2M843.8 618.9h5.2M854.2 618.9h41.6M898.4 618.9h10.4M911.4 618.9h254.8M1176.6 618.9h15.6M1213.0 618.9h5.2M1278.0 618.9h2.6M846.4 621.5h2.6M854.2 621.5h49.4M914.0 621.5h254.8M1174.0 621.5h13.0M1213.0 621.5h5.2M1275.4 621.5h2.6M843.8 624.1h5.2M854.2 624.1h46.8M916.6 624.1h270.4M1210.4 624.1h15.6M843.8 626.7h2.6M849.0 626.7h2.6M854.2 626.7h49.4M919.2 626.7h166.4M1088.2 626.7h7.8M1109.0 626.7h78.0M1192.2 626.7h10.4M1207.8 626.7h18.2M139.2 629.3h2.6M851.6 629.3h5.2M864.6 629.3h39.0M919.2 629.3h163.8M1085.6 629.3h10.4M1111.6 629.3h78.0M1192.2 629.3h31.2M136.6 631.9h7.8M851.6 631.9h2.6M867.2 631.9h41.6M919.2 631.9h182.0M1114.2 631.9h75.4M1192.2 631.9h31.2M1402.8 631.9h2.6M139.2 634.5h5.2M851.6 634.5h2.6M875.0 634.5h215.8M1106.4 634.5h5.2M1119.4 634.5h98.8M1270.2 634.5h2.6M136.6 637.1h10.4M851.6 637.1h5.2M885.4 637.1h156.0M1046.6 637.1h33.8M1085.6 637.1h2.6M1096.0 637.1h7.8M1109.0 637.1h7.8M1132.4 637.1h91.0M1239.0 637.1h5.2M136.6 639.7h10.4M851.6 639.7h10.4M893.2 639.7h5.2M911.4 639.7h161.2M1085.6 639.7h18.2M1109.0 639.7h2.6M1129.8 639.7h93.6M1236.4 639.7h10.4M1267.6 639.7h5.2M139.2 642.3h7.8M856.8 642.3h10.4M914.0 642.3h5.2M929.6 642.3h2.6M934.8 642.3h7.8M958.2 642.3h114.4M1083.0 642.3h20.8M1111.6 642.3h2.6M1129.8 642.3h96.2M1231.2 642.3h15.6M1265.0 642.3h5.2M877.6 644.9h2.6M890.6 644.9h2.6M929.6 644.9h7.8M958.2 644.9h2.6M963.4 644.9h13.0M984.2 644.9h85.8M1080.4 644.9h7.8M1093.4 644.9h7.8M1106.4 644.9h2.6M1129.8 644.9h119.6M1265.0 644.9h2.6M885.4 647.5h23.4M929.6 647.5h5.2M955.6 647.5h5.2M984.2 647.5h85.8M1080.4 647.5h5.2M1096.0 647.5h5.2M1122.0 647.5h5.2M1132.4 647.5h13.0M1148.0 647.5h104.0M1275.4 647.5h2.6M1397.6 647.5h7.8M890.6 650.1h13.0M906.2 650.1h13.0M927.0 650.1h7.8M937.4 650.1h2.6M986.8 650.1h13.0M1002.4 650.1h72.8M1077.8 650.1h5.2M1135.0 650.1h10.4M1150.6 650.1h93.6M1246.8 650.1h5.2M1257.2 650.1h2.6M1275.4 650.1h2.6M1395.0 650.1h10.4M890.6 652.7h13.0M989.4 652.7h10.4M1005.0 652.7h13.0M1023.2 652.7h59.8M1135.0 652.7h7.8M1148.0 652.7h96.2M1246.8 652.7h5.2M1254.6 652.7h10.4M1311.8 652.7h2.6M1389.8 652.7h15.6M890.6 655.3h10.4M994.6 655.3h5.2M1005.0 655.3h13.0M1025.8 655.3h54.6M1085.6 655.3h5.2M1093.4 655.3h2.6M1135.0 655.3h5.2M1148.0 655.3h104.0M1254.6 655.3h13.0M1314.4 655.3h2.6M1387.2 655.3h18.2M890.6 657.9h7.8M997.2 657.9h7.8M1010.2 657.9h5.2M1025.8 657.9h44.2M1072.6 657.9h5.2M1085.6 657.9h15.6M1135.0 657.9h2.6M1148.0 657.9h104.0M1257.2 657.9h7.8M877.6 660.5h2.6M893.2 660.5h2.6M1002.4 660.5h15.6M1023.2 660.5h23.4M1049.2 660.5h18.2M1070.0 660.5h5.2M1085.6 660.5h18.2M1148.0 660.5h106.6M1262.4 660.5h2.6M1012.8 663.1h7.8M1023.2 663.1h41.6M1070.0 663.1h5.2M1085.6 663.1h5.2M1093.4 663.1h10.4M1155.8 663.1h96.2M1262.4 663.1h5.2M1012.8 665.7h44.2M1059.6 665.7h15.6M1088.2 665.7h2.6M1093.4 665.7h13.0M1158.4 665.7h91.0M1267.6 665.7h2.6M1020.6 668.3h33.8M1059.6 668.3h13.0M1096.0 668.3h10.4M1109.0 668.3h2.6M1148.0 668.3h2.6M1161.0 668.3h85.8M1270.2 668.3h5.2M1023.2 670.9h28.6M1062.2 670.9h7.8M1101.2 670.9h7.8M1111.6 670.9h2.6M1145.4 670.9h2.6M1163.6 670.9h83.2M1278.0 670.9h5.2M1376.8 670.9h10.4M1023.2 673.5h5.2M1031.0 673.5h20.8M1062.2 673.5h5.2M1101.2 673.5h2.6M1129.8 673.5h7.8M1140.2 673.5h2.6M1163.6 673.5h20.8M1189.6 673.5h57.2M1374.2 673.5h10.4M1023.2 676.1h28.6M1059.6 676.1h7.8M1129.8 676.1h10.4M1166.2 676.1h20.8M1189.6 676.1h54.6M1249.4 676.1h2.6M1376.8 676.1h5.2M1031.0 678.7h5.2M1038.8 678.7h10.4M1059.6 678.7h5.2M1129.8 678.7h7.8M1168.8 678.7h72.8M1246.8 678.7h5.2M1044.0 681.3h5.2M1098.6 681.3h2.6M1127.2 681.3h7.8M1168.8 681.3h65.0M1241.6 681.3h10.4M1127.2 683.9h5.2M1171.4 683.9h44.2M1228.6 683.9h2.6M1239.0 683.9h13.0M1119.4 686.5h2.6M1124.6 686.5h10.4M1161.0 686.5h5.2M1174.0 686.5h7.8M1184.4 686.5h28.6M1244.2 686.5h5.2M1129.8 689.1h2.6M1135.0 689.1h5.2M1158.4 689.1h10.4M1184.4 689.1h26.0M1244.2 689.1h5.2M1129.8 691.7h10.4M1142.8 691.7h5.2M1158.4 691.7h15.6M1181.8 691.7h31.2M1135.0 694.3h13.0M1150.6 694.3h2.6M1158.4 694.3h52.0M1135.0 696.9h7.8M1148.0 696.9h2.6M1155.8 696.9h28.6M1197.4 696.9h10.4M1161.0 699.5h26.0M1189.6 699.5h18.2M1163.6 702.1h18.2M1197.4 702.1h10.4M1163.6 704.7h10.4M1176.6 704.7h2.6M1181.8 704.7h2.6M1197.4 704.7h10.4M1163.6 707.3h13.0M1205.2 707.3h2.6M1163.6 709.9h10.4M1163.6 712.5h2.6"/>
<path stroke="#808080" d="M295.2 265.3h5.2M287.4 267.9h15.6M219.8 270.5h7.8M279.6 270.5h7.8M303.0 270.5h2.6M217.2 273.1h7.8M227.6 273.1h2.6M274.4 273.1h5.2M303.0 273.1h2.6M214.6 275.7h7.8M225.0 275.7h5.2M264.0 275.7h10.4M303.0 275.7h2.6M214.6 278.3h5.2M225.0 278.3h5.2M261.4 278.3h2.6M305.6 278.3h2.6M212.0 280.9h7.8M225.0 280.9h2.6M258.8 280.9h2.6M305.6 280.9h2.6M518.8 280.9h7.8M212.0 283.5h5.2M225.0 283.5h2.6M253.6 283.5h5.2M305.6 283.5h2.6M524.0 283.5h5.2M212.0 286.1h5.2M225.0 286.1h2.6M251.0 286.1h7.8M308.2 286.1h2.6M511.0 286.1h10.4M526.6 286.1h2.6M209.4 288.7h2.6M225.0 288.7h2.6M243.2 288.7h13.0M308.2 288.7h2.6M344.6 288.7h5.2M508.4 288.7h2.6M524.0 288.7h2.6M206.8 291.3h5.2M225.0 291.3h2.6M245.8 291.3h5.2M253.6 291.3h2.6M308.2 291.3h2.6M344.6 291.3h2.6M349.8 291.3h2.6M505.8 291.3h2.6M204.2 293.9h2.6M209.4 293.9h2.6M222.4 293.9h2.6M243.2 293.9h2.6M310.8 293.9h2.6M342.0 293.9h5.2M349.8 293.9h2.6M508.4 293.9h7.8M518.8 293.9h2.6M204.2 296.5h2.6M222.4 296.5h2.6M243.2 296.5h2.6M310.8 296.5h2.6M334.2 296.5h13.0M352.4 296.5h2.6M199.0 299.1h2.6M219.8 299.1h2.6M243.2 299.1h2.6M310.8 299.1h2.6M331.6 299.1h2.6M336.8 299.1h10.4M355.0 299.1h2.6M201.6 301.7h2.6M217.2 301.7h7.8M310.8 301.7h2.6M334.2 301.7h2.6M355.0 301.7h2.6M201.6 304.3h2.6M217.2 304.3h5.2M240.6 304.3h2.6M310.8 304.3h2.6M329.0 304.3h5.2M357.6 304.3h2.6M201.6 306.9h2.6M214.6 306.9h7.8M240.6 306.9h2.6M310.8 306.9h2.6M326.4 306.9h7.8M362.8 306.9h2.6M201.6 309.5h2.6M206.8 309.5h7.8M238.0 309.5h2.6M313.4 309.5h2.6M326.4 309.5h5.2M360.2 309.5h5.2M199.0 312.1h2.6M204.2 312.1h2.6M235.4 312.1h2.6M326.4 312.1h5.2M360.2 312.1h5.2M316.0 314.7h2.6M326.4 314.7h2.6M360.2 314.7h2.6M230.2 317.3h7.8M316.0 317.3h2.6M326.4 317.3h2.6M362.8 317.3h2.6M227.6 319.9h7.8M316.0 319.9h2.6M362.8 319.9h2.6M225.0 322.5h7.8M318.6 322.5h2.6M326.4 322.5h2.6M365.4 322.5h2.6M225.0 325.1h5.2M323.8 325.1h2.6M365.4 325.1h2.6M227.6 327.7h2.6M316.0 327.7h2.6M323.8 327.7h2.6M368.0 327.7h2.6M225.0 330.3h2.6M318.6 330.3h2.6M323.8 330.3h2.6M370.6 330.3h2.6M225.0 332.9h2.6M321.2 332.9h2.6M373.2 332.9h13.0M225.0 335.5h2.6M386.2 335.5h5.2M225.0 338.1h2.6M225.0 340.7h2.6M394.0 340.7h2.6M222.4 343.3h2.6M396.6 343.3h2.6M222.4 345.9h2.6M399.2 345.9h2.6M225.0 348.5h2.6M399.2 348.5h2.6M581.2 348.5h7.8M225.0 351.1h2.6M401.8 351.1h2.6M578.6 351.1h2.6M589.0 351.1h2.6M404.4 353.7h2.6M578.6 353.7h2.6M589.0 353.7h2.6M225.0 356.3h2.6M404.4 356.3h2.6M578.6 356.3h2.6M586.4 356.3h2.6M222.4 358.9h2.6M227.6 358.9h2.6M407.0 358.9h2.6M581.2 358.9h2.6M225.0 361.5h5.2M407.0 361.5h2.6M225.0 364.1h5.2M409.6 364.1h2.6M230.2 366.7h2.6M409.6 366.7h2.6M230.2 369.3h2.6M412.2 369.3h2.6M230.2 371.9h2.6M412.2 371.9h2.6M230.2 374.5h2.6M409.6 374.5h2.6M438.2 374.5h5.2M232.8 377.1h2.6M407.0 377.1h2.6M430.4 377.1h7.8M443.4 377.1h2.6M404.4 379.7h2.6M430.4 379.7h5.2M443.4 379.7h2.6M232.8 382.3h2.6M401.8 382.3h2.6M430.4 382.3h5.2M443.4 382.3h2.6M235.4 384.9h2.6M271.8 384.9h2.6M399.2 384.9h2.6M433.0 384.9h2.6M440.8 384.9h2.6M238.0 387.5h2.6M269.2 387.5h7.8M399.2 387.5h5.2M430.4 387.5h2.6M440.8 387.5h2.6M446.0 387.5h2.6M238.0 390.1h2.6M269.2 390.1h7.8M399.2 390.1h5.2M430.4 390.1h2.6M443.4 390.1h23.4M240.6 392.7h2.6M266.6 392.7h13.0M396.6 392.7h7.8M427.8 392.7h2.6M443.4 392.7h7.8M453.8 392.7h13.0M243.2 395.3h2.6M264.0 395.3h7.8M274.4 395.3h10.4M396.6 395.3h5.2M425.2 395.3h2.6M466.8 395.3h5.2M152.2 397.9h10.4M245.8 397.9h2.6M258.8 397.9h2.6M264.0 397.9h5.2M277.0 397.9h28.6M308.2 397.9h15.6M394.0 397.9h7.8M420.0 397.9h7.8M472.0 397.9h7.8M149.6 400.5h2.6M154.8 400.5h10.4M248.4 400.5h18.2M282.2 400.5h5.2M292.6 400.5h7.8M303.0 400.5h2.6M308.2 400.5h10.4M323.8 400.5h2.6M391.4 400.5h7.8M420.0 400.5h5.2M479.8 400.5h2.6M149.6 403.1h5.2M160.0 403.1h2.6M251.0 403.1h10.4M323.8 403.1h2.6M388.8 403.1h7.8M420.0 403.1h5.2M479.8 403.1h7.8M152.2 405.7h2.6M160.0 405.7h2.6M323.8 405.7h2.6M386.2 405.7h7.8M420.0 405.7h2.6M425.2 405.7h2.6M482.4 405.7h5.2M152.2 408.3h2.6M160.0 408.3h2.6M326.4 408.3h2.6M365.4 408.3h2.6M378.4 408.3h13.0M425.2 408.3h2.6M482.4 408.3h5.2M152.2 410.9h2.6M160.0 410.9h2.6M326.4 410.9h2.6M368.0 410.9h10.4M386.2 410.9h2.6M427.8 410.9h2.6M487.6 410.9h5.2M149.6 413.5h5.2M160.0 413.5h2.6M329.0 413.5h5.2M344.6 413.5h5.2M360.2 413.5h7.8M430.4 413.5h2.6M485.0 413.5h2.6M490.2 413.5h2.6M149.6 416.1h5.2M336.8 416.1h7.8M349.8 416.1h15.6M427.8 416.1h7.8M490.2 416.1h2.6M495.4 416.1h10.4M152.2 418.7h2.6M162.6 418.7h2.6M355.0 418.7h5.2M430.4 418.7h5.2M505.8 418.7h2.6M149.6 421.3h5.2M162.6 421.3h2.6M430.4 421.3h7.8M508.4 421.3h5.2M149.6 423.9h5.2M162.6 423.9h2.6M438.2 423.9h2.6M513.6 423.9h2.6M152.2 426.5h2.6M162.6 426.5h2.6M440.8 426.5h2.6M513.6 426.5h2.6M152.2 429.1h2.6M162.6 429.1h2.6M443.4 429.1h2.6M516.2 429.1h2.6M154.8 431.7h2.6M162.6 431.7h2.6M446.0 431.7h2.6M516.2 431.7h5.2M154.8 434.3h2.6M160.0 434.3h2.6M443.4 434.3h5.2M521.4 434.3h7.8M157.4 436.9h2.6M446.0 436.9h5.2M529.2 436.9h2.6M446.0 439.5h7.8M529.2 439.5h2.6M448.6 442.1h5.2M529.2 442.1h2.6M258.8 444.7h5.2M266.6 444.7h10.4M448.6 444.7h5.2M526.6 444.7h2.6M256.2 447.3h7.8M277.0 447.3h7.8M451.2 447.3h7.8M511.0 447.3h2.6M524.0 447.3h2.6M253.6 449.9h7.8M279.6 449.9h7.8M453.8 449.9h5.2M511.0 449.9h2.6M521.4 449.9h2.6M253.6 452.5h5.2M282.2 452.5h5.2M453.8 452.5h2.6M518.8 452.5h2.6M256.2 455.1h2.6M282.2 455.1h2.6M456.4 455.1h5.2M516.2 455.1h2.6M256.2 457.7h2.6M282.2 457.7h2.6M459.0 457.7h10.4M511.0 457.7h5.2M253.6 460.3h2.6M279.6 460.3h2.6M469.4 460.3h7.8M503.2 460.3h7.8M253.6 462.9h2.6M279.6 462.9h2.6M477.2 462.9h26.0M253.6 465.5h2.6M277.0 465.5h2.6M253.6 468.1h2.6M277.0 468.1h2.6M253.6 470.7h2.6M274.4 470.7h2.6M256.2 473.3h2.6M271.8 473.3h2.6M258.8 475.9h2.6M266.6 475.9h2.6M261.4 478.5h5.2M279.6 483.7h5.2M295.2 483.7h2.6M269.2 486.3h7.8M279.6 486.3h5.2M287.4 486.3h13.0M264.0 488.9h5.2M295.2 488.9h5.2M300.4 491.5h2.6M261.4 494.1h2.6M303.0 494.1h2.6M256.2 496.7h5.2M303.0 496.7h2.6M256.2 499.3h2.6M305.6 499.3h2.6M253.6 501.9h2.6M308.2 501.9h2.6M243.2 504.5h2.6M251.0 504.5h2.6M308.2 504.5h2.6M232.8 507.1h5.2M240.6 507.1h10.4M310.8 507.1h2.6M227.6 509.7h13.0M243.2 509.7h2.6M310.8 509.7h7.8M222.4 512.3h5.2M313.4 512.3h5.2M222.4 514.9h5.2M313.4 514.9h2.6M318.6 514.9h2.6M227.6 517.5h2.6M232.8 517.5h13.0M316.0 517.5h2.6M230.2 520.1h2.6M243.2 520.1h5.2M316.0 520.1h2.6M243.2 522.7h10.4M245.8 525.3h10.4M316.0 525.3h2.6M321.2 525.3h2.6M251.0 527.9h2.6M256.2 527.9h2.6M318.6 527.9h5.2M253.6 530.5h7.8M318.6 530.5h2.6M256.2 533.1h7.8M318.6 533.1h5.2M258.8 535.7h7.8M318.6 535.7h5.2M261.4 538.3h7.8M321.2 538.3h2.6M264.0 540.9h7.8M321.2 540.9h2.6M271.8 543.5h5.2M316.0 543.5h5.2M277.0 546.1h2.6M316.0 546.1h5.2M279.6 548.7h5.2M313.4 548.7h7.8M284.8 551.3h2.6M313.4 551.3h5.2M292.6 553.9h2.6M313.4 553.9h2.6M295.2 556.5h5.2M313.4 556.5h5.2M292.6 559.1h10.4M310.8 559.1h7.8M227.6 561.7h2.6M297.8 561.7h2.6M303.0 561.7h13.0M225.0 564.3h10.4M308.2 564.3h5.2M225.0 566.9h5.2M235.4 566.9h5.2M227.6 569.5h2.6M240.6 569.5h2.6M227.6 572.1h2.6M243.2 572.1h2.6M227.6 574.7h2.6M245.8 574.7h2.6M230.2 577.3h2.6M245.8 577.3h2.6M230.2 579.9h2.6M248.4 579.9h2.6M251.0 582.5h7.8M191.2 585.1h2.6M230.2 585.1h2.6M253.6 585.1h7.8M186.0 587.7h5.2M193.8 587.7h5.2M232.8 587.7h2.6M256.2 587.7h7.8M266.6 587.7h2.6M178.2 590.3h7.8M199.0 590.3h5.2M232.8 590.3h2.6M261.4 590.3h2.6M274.4 590.3h5.2M175.6 592.9h7.8M204.2 592.9h5.2M227.6 592.9h2.6M232.8 592.9h2.6M266.6 592.9h5.2M274.4 592.9h10.4M175.6 595.5h10.4M209.4 595.5h18.2M277.0 595.5h13.0M173.0 598.1h2.6M186.0 598.1h5.2M282.2 598.1h5.2M290.0 598.1h5.2M167.8 600.7h2.6M191.2 600.7h5.2M243.2 600.7h13.0M287.4 600.7h2.6M292.6 600.7h2.6M167.8 603.3h2.6M196.4 603.3h5.2M243.2 603.3h15.6M292.6 603.3h5.2M167.8 605.9h2.6M243.2 605.9h13.0M297.8 605.9h5.2M167.8 608.5h2.6M245.8 608.5h10.4M303.0 608.5h7.8M167.8 611.1h5.2M178.2 611.1h7.8M191.2 611.1h2.6M310.8 611.1h5.2M167.8 613.7h10.4M186.0 613.7h5.2M193.8 613.7h2.6M316.0 613.7h2.6M170.4 616.3h5.2M191.2 616.3h2.6M196.4 616.3h2.6M318.6 616.3h2.6M186.0 618.9h13.0M326.4 618.9h2.6M175.6 621.5h2.6M329.0 621.5h2.6M178.2 624.1h2.6M331.6 624.1h2.6M175.6 626.7h2.6M334.2 626.7h5.2M173.0 629.3h2.6M240.6 629.3h2.6M339.4 629.3h2.6M170.4 631.9h2.6M342.0 631.9h5.2M167.8 634.5h2.6M347.2 634.5h2.6M170.4 637.1h2.6M349.8 637.1h5.2M173.0 639.7h2.6M355.0 639.7h5.2M170.4 642.3h5.2M321.2 642.3h15.6M360.2 642.3h2.6M121.0 644.9h2.6M167.8 644.9h7.8M178.2 644.9h2.6M313.4 644.9h10.4M331.6 644.9h7.8M362.8 644.9h2.6M121.0 647.5h2.6M165.2 647.5h7.8M308.2 647.5h10.4M336.8 647.5h5.2M365.4 647.5h5.2M123.6 650.1h5.2M134.0 650.1h7.8M165.2 650.1h5.2M305.6 650.1h13.0M336.8 650.1h7.8M128.8 652.7h5.2M141.8 652.7h2.6M162.6 652.7h7.8M305.6 652.7h18.2M334.2 652.7h13.0M373.2 652.7h2.6M128.8 655.3h5.2M144.4 655.3h2.6M162.6 655.3h5.2M261.4 655.3h5.2M310.8 655.3h2.6M334.2 655.3h26.0M375.8 655.3h5.2M147.0 657.9h2.6M165.2 657.9h2.6M342.0 657.9h28.6M381.0 657.9h2.6M147.0 660.5h2.6M165.2 660.5h2.6M368.0 660.5h10.4M383.6 660.5h2.6M144.4 663.1h2.6M165.2 663.1h2.6M245.8 663.1h2.6M339.4 663.1h10.4M386.2 663.1h2.6M391.4 663.1h15.6M144.4 665.7h2.6M165.2 665.7h2.6M240.6 665.7h7.8M339.4 665.7h10.4M373.2 665.7h5.2M407.0 665.7h5.2M144.4 668.3h2.6M165.2 668.3h2.6M240.6 668.3h5.2M339.4 668.3h10.4M370.6 668.3h5.2M412.2 668.3h5.2M144.4 670.9h2.6M149.6 670.9h2.6M154.8 670.9h2.6M165.2 670.9h2.6M240.6 670.9h2.6M342.0 670.9h10.4M368.0 670.9h5.2M417.4 670.9h5.2M1330.0 670.9h10.4M1350.8 670.9h2.6M126.2 673.5h5.2M144.4 673.5h7.8M165.2 673.5h2.6M342.0 673.5h13.0M362.8 673.5h7.8M422.6 673.5h5.2M1319.6 673.5h20.8M1343.0 673.5h7.8M1353.4 673.5h5.2M128.8 676.1h5.2M160.0 676.1h5.2M167.8 676.1h2.6M342.0 676.1h13.0M360.2 676.1h7.8M427.8 676.1h2.6M1311.8 676.1h20.8M1350.8 676.1h15.6M342.0 678.7h10.4M357.6 678.7h7.8M1309.2 678.7h13.0M1358.6 678.7h7.8M264.0 681.3h2.6M342.0 681.3h7.8M355.0 681.3h7.8M433.0 681.3h2.6M1309.2 681.3h5.2M1363.8 681.3h2.6M258.8 683.9h7.8M344.6 683.9h2.6M352.4 683.9h7.8M391.4 683.9h2.6M435.6 683.9h2.6M1301.4 683.9h10.4M1366.4 683.9h2.6M256.2 686.5h10.4M318.6 686.5h2.6M349.8 686.5h7.8M438.2 686.5h2.6M1298.8 686.5h2.6M1304.0 686.5h2.6M1371.6 686.5h2.6M256.2 689.1h10.4M318.6 689.1h2.6M347.2 689.1h7.8M357.6 689.1h2.6M440.8 689.1h2.6M1298.8 689.1h5.2M1374.2 689.1h2.6M123.6 691.7h2.6M141.8 691.7h2.6M258.8 691.7h10.4M300.4 691.7h2.6M318.6 691.7h5.2M326.4 691.7h13.0M344.6 691.7h7.8M357.6 691.7h2.6M430.4 691.7h5.2M443.4 691.7h2.6M1296.2 691.7h5.2M1376.8 691.7h7.8M123.6 694.3h2.6M248.4 694.3h2.6M318.6 694.3h5.2M347.2 694.3h2.6M357.6 694.3h5.2M427.8 694.3h7.8M446.0 694.3h2.6M1296.2 694.3h5.2M1379.4 694.3h7.8M316.0 696.9h7.8M365.4 696.9h7.8M427.8 696.9h7.8M448.6 696.9h2.6M1296.2 696.9h2.6M313.4 699.5h10.4M365.4 699.5h7.8M427.8 699.5h10.4M451.2 699.5h2.6M1293.6 699.5h2.6M1382.0 699.5h2.6M313.4 702.1h18.2M342.0 702.1h2.6M370.6 702.1h2.6M427.8 702.1h7.8M451.2 702.1h2.6M1291.0 702.1h2.6M1382.0 702.1h2.6M261.4 704.7h5.2M313.4 704.7h26.0M430.4 704.7h2.6M453.8 704.7h2.6M1291.0 704.7h2.6M1382.0 704.7h2.6M316.0 707.3h15.6M362.8 707.3h2.6M383.6 707.3h2.6M453.8 707.3h2.6M1288.4 707.3h2.6M1379.4 707.3h2.6M383.6 709.9h2.6M453.8 709.9h5.2M1285.8 709.9h5.2M1379.4 709.9h2.6M334.2 712.5h2.6M453.8 712.5h7.8M1283.2 712.5h5.2M1376.8 712.5h2.6M214.6 715.1h2.6M456.4 715.1h5.2M1280.6 715.1h7.8M1374.2 715.1h2.6M212.0 717.7h5.2M435.6 717.7h2.6M456.4 717.7h2.6M1280.6 717.7h5.2M1371.6 717.7h2.6M121.0 720.3h2.6M222.4 720.3h2.6M430.4 720.3h7.8M456.4 720.3h2.6M1278.0 720.3h7.8M1369.0 720.3h7.8M121.0 722.9h2.6M225.0 722.9h2.6M427.8 722.9h15.6M456.4 722.9h2.6M1278.0 722.9h2.6M1366.4 722.9h7.8M222.4 725.5h5.2M425.2 725.5h5.2M456.4 725.5h2.6M1278.0 725.5h5.2M1363.8 725.5h2.6M212.0 728.1h2.6M225.0 728.1h2.6M287.4 728.1h2.6M425.2 728.1h2.6M453.8 728.1h2.6M1275.4 728.1h7.8M1358.6 728.1h5.2M212.0 730.7h2.6M287.4 730.7h2.6M357.6 730.7h2.6M453.8 730.7h2.6M1275.4 730.7h5.2M1353.4 730.7h5.2M290.0 733.3h5.2M453.8 733.3h2.6M1275.4 733.3h5.2M1350.8 733.3h2.6M381.0 735.9h5.2M456.4 735.9h2.6M1275.4 735.9h5.2M1345.6 735.9h10.4M248.4 738.5h5.2M453.8 738.5h5.2M1278.0 738.5h2.6M1343.0 738.5h10.4M456.4 741.1h5.2M1317.0 741.1h7.8M1332.6 741.1h5.2M1340.4 741.1h2.6M456.4 743.7h5.2M1275.4 743.7h2.6M1324.8 743.7h7.8M225.0 746.3h2.6M383.6 746.3h2.6M459.0 746.3h2.6M1275.4 746.3h5.2M1314.4 746.3h2.6M373.2 748.9h5.2M1275.4 748.9h5.2M1311.8 748.9h2.6M245.8 751.5h2.6M464.2 751.5h2.6M1275.4 751.5h5.2M1311.8 751.5h2.6M303.0 754.1h5.2M430.4 754.1h5.2M466.8 754.1h2.6M472.0 754.1h2.6M1275.4 754.1h5.2M1311.8 754.1h2.6M235.4 756.7h5.2M266.6 756.7h2.6M284.8 756.7h2.6M305.6 756.7h2.6M412.2 756.7h2.6M430.4 756.7h5.2M469.4 756.7h5.2M1275.4 756.7h7.8M1306.6 756.7h5.2M235.4 759.3h5.2M412.2 759.3h2.6M469.4 759.3h7.8M1280.6 759.3h2.6M1304.0 759.3h2.6M472.0 761.9h7.8M1278.0 761.9h7.8M1296.2 761.9h2.6M1301.4 761.9h2.6M352.4 764.5h2.6M474.6 764.5h5.2M1280.6 764.5h7.8M1291.0 764.5h5.2M1298.8 764.5h5.2M256.2 767.1h7.8M446.0 767.1h2.6M477.2 767.1h2.6M1283.2 767.1h10.4M258.8 769.7h5.2M279.6 769.7h5.2M446.0 769.7h2.6M479.8 769.7h2.6M1285.8 769.7h7.8M282.2 772.3h2.6M482.4 772.3h2.6M487.6 777.5h2.6M492.8 777.5h2.6M490.2 780.1h5.2M490.2 782.7h7.8M492.8 785.3h2.6M321.2 787.9h2.6M492.8 787.9h2.6M422.6 790.5h7.8M492.8 790.5h2.6M206.8 793.1h5.2M420.0 793.1h5.2M495.4 793.1h2.6M199.0 795.7h2.6M206.8 795.7h2.6M495.4 795.7h2.6M186.0 798.3h2.6M196.4 798.3h5.2M495.4 798.3h2.6M183.4 800.9h5.2M495.4 800.9h5.2M498.0 803.5h5.2M498.0 806.1h5.2M498.0 808.7h5.2M258.8 811.3h5.2M498.0 811.3h5.2M638.4 811.3h2.6M308.2 813.9h5.2M498.0 813.9h7.8M596.8 813.9h10.4M609.8 813.9h5.2M617.6 813.9h31.2M500.6 816.5h5.2M563.0 816.5h13.0M583.8 816.5h10.4M596.8 816.5h2.6M638.4 816.5h15.6M500.6 819.1h7.8M552.6 819.1h18.2M573.4 819.1h7.8M651.4 819.1h10.4M669.6 819.1h5.2M503.2 821.7h2.6M508.4 821.7h2.6M550.0 821.7h2.6M555.2 821.7h10.4M661.8 821.7h18.2M225.0 824.3h2.6M505.8 824.3h2.6M542.2 824.3h2.6M547.4 824.3h5.2M677.4 824.3h10.4M225.0 826.9h2.6M508.4 826.9h31.2M677.4 826.9h7.8M685.2 829.5h5.2M214.6 832.1h2.6M690.4 832.1h5.2M695.6 834.7h2.6M745.0 834.7h5.2M752.8 834.7h2.6M685.2 837.3h2.6M698.2 837.3h5.2M742.4 837.3h5.2M750.2 837.3h7.8M771.0 837.3h2.6M685.2 839.9h5.2M742.4 839.9h5.2M752.8 839.9h5.2M771.0 839.9h2.6M778.8 839.9h2.6M690.4 842.5h2.6M706.0 842.5h2.6M742.4 842.5h5.2M752.8 842.5h7.8M771.0 842.5h5.2M778.8 842.5h2.6M682.6 845.1h2.6M708.6 845.1h2.6M742.4 845.1h5.2M776.2 845.1h5.2M711.2 847.7h2.6M742.4 847.7h7.8M755.4 847.7h5.2M773.6 847.7h5.2M781.4 847.7h5.2M713.8 850.3h2.6M745.0 850.3h7.8M755.4 850.3h5.2M773.6 850.3h5.2M781.4 850.3h7.8M144.4 852.9h2.6M716.4 852.9h2.6M747.6 852.9h10.4M773.6 852.9h7.8M784.0 852.9h5.2M687.8 855.5h2.6M703.4 855.5h5.2M719.0 855.5h2.6M776.2 855.5h13.0M687.8 858.1h2.6M703.4 858.1h2.6M721.6 858.1h2.6M799.6 858.1h10.4M199.0 860.7h5.2M672.2 860.7h2.6M700.8 860.7h2.6M724.2 860.7h2.6M797.0 860.7h15.6M199.0 863.3h5.2M669.6 863.3h7.8M724.2 863.3h2.6M797.0 863.3h5.2M807.4 863.3h5.2M201.6 865.9h2.6M620.2 865.9h2.6M674.8 865.9h5.2M726.8 865.9h5.2M797.0 865.9h5.2M804.8 865.9h2.6M1220.8 865.9h13.0M674.8 868.5h5.2M726.8 868.5h2.6M732.0 868.5h2.6M799.6 868.5h7.8M1215.6 868.5h10.4M1228.6 868.5h2.6M1233.8 868.5h5.2M511.0 871.1h2.6M654.0 871.1h5.2M677.4 871.1h2.6M729.4 871.1h5.2M1213.0 871.1h10.4M1233.8 871.1h10.4M511.0 873.7h5.2M646.2 873.7h2.6M654.0 873.7h5.2M729.4 873.7h2.6M1213.0 873.7h5.2M1236.4 873.7h2.6M1241.6 873.7h10.4M183.4 876.3h5.2M464.2 876.3h2.6M628.0 876.3h2.6M654.0 876.3h5.2M1210.4 876.3h5.2M1241.6 876.3h13.0M461.6 878.9h5.2M492.8 878.9h5.2M654.0 878.9h2.6M732.0 878.9h2.6M1202.6 878.9h7.8M1249.4 878.9h7.8M1270.2 878.9h7.8M461.6 881.5h5.2M490.2 881.5h10.4M732.0 881.5h2.6M1171.4 881.5h5.2M1184.4 881.5h15.6M1259.8 881.5h2.6M1265.0 881.5h33.8M490.2 884.1h7.8M599.4 884.1h2.6M732.0 884.1h2.6M1114.2 884.1h5.2M1124.6 884.1h10.4M1148.0 884.1h13.0M1166.2 884.1h5.2M1176.6 884.1h7.8M1275.4 884.1h13.0M1296.2 884.1h18.2M1330.0 884.1h2.6M732.0 886.7h2.6M1057.0 886.7h67.6M1127.2 886.7h10.4M1145.4 886.7h2.6M1161.0 886.7h5.2M1296.2 886.7h20.8M1319.6 886.7h10.4M1332.6 886.7h5.2M734.6 889.3h2.6M1054.4 889.3h2.6M1096.0 889.3h10.4M1109.0 889.3h2.6M1114.2 889.3h2.6M1132.4 889.3h7.8M1145.4 889.3h2.6M1330.0 889.3h15.6M284.8 891.9h2.6M734.6 891.9h2.6M1054.4 891.9h2.6M1135.0 891.9h7.8M1148.0 891.9h2.6M1335.2 891.9h13.0M599.4 894.5h2.6M734.6 894.5h2.6M1142.8 894.5h2.6M1148.0 894.5h2.6M1343.0 894.5h7.8M633.2 897.1h2.6M734.6 897.1h2.6M1057.0 897.1h2.6M1145.4 897.1h7.8M1353.4 897.1h2.6M1358.6 897.1h5.2M695.6 899.7h5.2M713.8 899.7h5.2M734.6 899.7h2.6M1057.0 899.7h2.6M1145.4 899.7h2.6M1358.6 899.7h10.4M373.2 902.3h2.6M693.0 902.3h7.8M713.8 902.3h2.6M734.6 902.3h2.6M989.4 902.3h2.6M994.6 902.3h10.4M1057.0 902.3h2.6M1361.2 902.3h10.4M734.6 904.9h2.6M981.6 904.9h26.0M1012.8 904.9h2.6M1054.4 904.9h2.6M1059.6 904.9h2.6M1366.4 904.9h10.4M734.6 907.5h5.2M976.4 907.5h15.6M1002.4 907.5h18.2M1059.6 907.5h2.6M1371.6 907.5h10.4M599.4 910.1h2.6M711.2 910.1h5.2M732.0 910.1h7.8M973.8 910.1h10.4M1012.8 910.1h7.8M1059.6 910.1h2.6M1376.8 910.1h7.8M1395.0 910.1h5.2M599.4 912.7h2.6M711.2 912.7h5.2M734.6 912.7h2.6M973.8 912.7h5.2M1020.6 912.7h5.2M1062.2 912.7h2.6M1252.0 912.7h2.6M1384.6 912.7h10.4M1400.2 912.7h5.2M711.2 915.3h5.2M729.4 915.3h7.8M973.8 915.3h5.2M1025.8 915.3h2.6M1166.2 915.3h5.2M729.4 917.9h5.2M973.8 917.9h2.6M1028.4 917.9h2.6M1059.6 917.9h2.6M596.8 920.5h2.6M729.4 920.5h2.6M973.8 920.5h2.6M1028.4 920.5h2.6M1057.0 920.5h2.6M201.6 923.1h2.6M669.6 923.1h5.2M726.8 923.1h2.6M973.8 923.1h2.6M1028.4 923.1h2.6M1054.4 923.1h2.6M602.0 925.7h2.6M672.2 925.7h2.6M726.8 925.7h2.6M973.8 925.7h2.6M1028.4 925.7h5.2M1051.8 925.7h2.6M724.2 928.3h2.6M971.2 928.3h2.6M1028.4 928.3h5.2M1051.8 928.3h2.6M700.8 930.9h2.6M724.2 930.9h2.6M1028.4 930.9h5.2M1049.2 930.9h2.6M518.8 933.5h5.2M700.8 933.5h2.6M724.2 933.5h2.6M968.6 933.5h2.6M1025.8 933.5h7.8M1051.8 933.5h2.6M521.4 936.1h2.6M724.2 936.1h2.6M966.0 936.1h2.6M1025.8 936.1h5.2M1054.4 936.1h13.0M128.8 938.7h2.6M726.8 938.7h2.6M854.2 938.7h5.2M862.0 938.7h2.6M963.4 938.7h2.6M986.8 938.7h7.8M1059.6 938.7h7.8M1389.8 938.7h5.2M729.4 941.3h2.6M849.0 941.3h18.2M958.2 941.3h7.8M986.8 941.3h15.6M1025.8 941.3h2.6M1062.2 941.3h7.8M1176.6 941.3h2.6M1387.2 941.3h2.6M732.0 943.9h5.2M843.8 943.9h7.8M854.2 943.9h2.6M862.0 943.9h5.2M955.6 943.9h7.8M986.8 943.9h10.4M999.8 943.9h15.6M1025.8 943.9h2.6M1070.0 943.9h2.6M370.6 946.5h7.8M737.2 946.5h5.2M830.8 946.5h20.8M864.6 946.5h2.6M953.0 946.5h7.8M989.4 946.5h7.8M999.8 946.5h13.0M1015.4 946.5h10.4M1070.0 946.5h2.6M1166.2 946.5h2.6M370.6 949.1h5.2M672.2 949.1h2.6M742.4 949.1h10.4M823.0 949.1h7.8M867.2 949.1h2.6M955.6 949.1h2.6M992.0 949.1h2.6M997.2 949.1h2.6M1072.6 949.1h2.6M672.2 951.7h2.6M724.2 951.7h2.6M750.2 951.7h7.8M804.8 951.7h18.2M869.8 951.7h5.2M888.0 951.7h10.4M921.8 951.7h2.6M950.4 951.7h5.2M994.6 951.7h5.2M1072.6 951.7h2.6M726.8 954.3h7.8M758.0 954.3h5.2M776.2 954.3h5.2M799.6 954.3h5.2M875.0 954.3h10.4M888.0 954.3h39.0M945.2 954.3h5.2M994.6 954.3h7.8M1075.2 954.3h2.6M729.4 956.9h2.6M734.6 956.9h2.6M763.2 956.9h2.6M776.2 956.9h10.4M885.4 956.9h2.6M927.0 956.9h18.2M997.2 956.9h5.2M1077.8 956.9h2.6M243.2 959.5h5.2M765.8 959.5h2.6M773.6 959.5h2.6M786.6 959.5h2.6M794.4 959.5h2.6M997.2 959.5h5.2M1077.8 959.5h2.6M186.0 962.1h5.2M243.2 962.1h2.6M768.4 962.1h5.2M786.6 962.1h2.6M791.8 962.1h2.6M997.2 962.1h5.2M711.2 964.7h7.8M768.4 964.7h2.6M786.6 964.7h5.2M997.2 964.7h5.2M1080.4 964.7h2.6M713.8 967.3h5.2M739.8 967.3h2.6M784.0 967.3h5.2M997.2 967.3h5.2M1083.0 967.3h2.6M734.6 969.9h7.8M784.0 969.9h2.6M997.2 969.9h2.6M1002.4 969.9h2.6M1083.0 969.9h2.6M734.6 972.5h2.6M781.4 972.5h2.6M999.8 972.5h7.8M1085.6 972.5h2.6M1002.4 975.1h13.0M1085.6 975.1h2.6M1007.6 977.7h7.8M1085.6 977.7h2.6M1015.4 980.3h7.8M1033.6 980.3h2.6M1083.0 980.3h2.6M1023.2 982.9h18.2M1083.0 982.9h2.6M1161.0 982.9h5.2M1033.6 985.5h7.8M1080.4 985.5h2.6M1038.8 988.1h5.2M1077.8 988.1h2.6M1038.8 990.7h2.6M1077.8 990.7h2.6M1041.4 993.3h2.6M1075.2 993.3h2.6M1382.0 993.3h2.6M687.8 995.9h5.2M742.4 995.9h2.6M1041.4 995.9h2.6M1075.2 995.9h2.6M1382.0 995.9h2.6M682.6 998.5h2.6M1041.4 998.5h2.6M1072.6 998.5h2.6M1382.0 998.5h2.6M1041.4 1001.1h2.6M1070.0 1001.1h2.6M121.0 1003.7h2.6M726.8 1003.7h2.6M1041.4 1003.7h2.6M1064.8 1003.7h5.2M747.6 1006.3h5.2M1044.0 1006.3h2.6M1059.6 1006.3h2.6M253.6 1008.9h5.2M747.6 1008.9h5.2M1044.0 1008.9h2.6M1049.2 1008.9h10.4M253.6 1011.5h2.6M1046.6 1011.5h2.6M253.6 1014.1h2.6M586.4 1014.1h2.6M745.0 1019.3h5.2M331.6 1021.9h5.2M334.2 1024.5h5.2M739.8 1037.5h5.2M466.8 1040.1h2.6M466.8 1042.7h5.2M711.2 1042.7h2.6M721.6 1042.7h2.6M1077.8 1042.7h7.8"/>
<path stroke="#ba55d3" d="M628.0 148.3h2.6M1070.0 148.3h7.8M628.0 150.9h5.2M635.8 150.9h5.2M628.0 153.5h13.0M1059.6 153.5h2.6M1083.0 153.5h2.6M630.6 156.1h13.0M1059.6 156.1h2.6M1116.8 156.1h2.6M630.6 158.7h5.2M641.0 158.7h7.8M664.4 158.7h2.6M1059.6 158.7h2.6M630.6 161.3h15.6M633.2 163.9h10.4M633.2 166.5h10.4M646.2 166.5h2.6M633.2 169.1h10.4M1036.2 169.1h7.8M635.8 171.7h13.0M768.4 171.7h5.2M1036.2 171.7h5.2M1376.8 171.7h2.6M635.8 174.3h15.6M771.0 174.3h2.6M1018.0 174.3h2.6M1046.6 174.3h5.2M1122.0 174.3h5.2M1132.4 174.3h2.6M635.8 176.9h10.4M1018.0 176.9h5.2M1122.0 176.9h5.2M1132.4 176.9h2.6M635.8 179.5h13.0M1018.0 179.5h7.8M635.8 182.1h5.2M643.6 182.1h5.2M654.0 182.1h2.6M1023.2 182.1h5.2M1085.6 182.1h5.2M630.6 187.3h2.6M630.6 189.9h2.6M646.2 189.9h5.2M1015.4 189.9h2.6M1077.8 192.5h2.6M641.0 195.1h13.0M817.8 195.1h2.6M643.6 197.7h5.2M804.8 197.7h2.6M810.0 197.7h2.6M817.8 197.7h5.2M1080.4 197.7h2.6M1096.0 197.7h2.6M628.0 200.3h2.6M643.6 200.3h5.2M791.8 200.3h2.6M802.2 200.3h2.6M810.0 200.3h13.0M1080.4 200.3h2.6M633.2 202.9h2.6M643.6 202.9h7.8M654.0 202.9h2.6M789.2 202.9h7.8M802.2 202.9h10.4M820.4 202.9h2.6M1080.4 202.9h2.6M633.2 205.5h2.6M643.6 205.5h13.0M773.6 205.5h5.2M786.6 205.5h15.6M804.8 205.5h5.2M820.4 205.5h2.6M630.6 208.1h5.2M643.6 208.1h10.4M747.6 208.1h5.2M773.6 208.1h7.8M786.6 208.1h5.2M794.4 208.1h7.8M804.8 208.1h7.8M815.2 208.1h5.2M1142.8 208.1h2.6M646.2 210.7h7.8M661.8 210.7h2.6M747.6 210.7h5.2M776.2 210.7h5.2M784.0 210.7h2.6M794.4 210.7h5.2M807.4 210.7h13.0M646.2 213.3h2.6M664.4 213.3h2.6M745.0 213.3h5.2M752.8 213.3h7.8M773.6 213.3h2.6M778.8 213.3h2.6M784.0 213.3h2.6M794.4 213.3h10.4M817.8 213.3h2.6M648.8 215.9h2.6M661.8 215.9h7.8M758.0 215.9h5.2M771.0 215.9h5.2M781.4 215.9h5.2M797.0 215.9h7.8M661.8 218.5h5.2M758.0 218.5h5.2M771.0 218.5h13.0M797.0 218.5h7.8M654.0 221.1h13.0M760.6 221.1h5.2M768.4 221.1h10.4M794.4 221.1h5.2M651.4 223.7h2.6M656.6 223.7h7.8M690.4 223.7h2.6M747.6 223.7h2.6M763.2 223.7h2.6M768.4 223.7h13.0M786.6 223.7h5.2M797.0 223.7h2.6M802.2 223.7h2.6M807.4 223.7h2.6M656.6 226.3h7.8M693.0 226.3h2.6M747.6 226.3h5.2M763.2 226.3h2.6M768.4 226.3h13.0M812.6 226.3h5.2M830.8 226.3h5.2M1223.4 226.3h2.6M659.2 228.9h2.6M687.8 228.9h7.8M747.6 228.9h7.8M760.6 228.9h10.4M773.6 228.9h5.2M784.0 228.9h5.2M799.6 228.9h10.4M812.6 228.9h13.0M828.2 228.9h7.8M648.8 231.5h2.6M687.8 231.5h5.2M742.4 231.5h2.6M747.6 231.5h39.0M807.4 231.5h2.6M651.4 234.1h2.6M664.4 234.1h10.4M680.0 234.1h2.6M739.8 234.1h10.4M755.4 234.1h18.2M778.8 234.1h7.8M830.8 234.1h2.6M646.2 236.7h2.6M667.0 236.7h13.0M732.0 236.7h18.2M752.8 236.7h18.2M773.6 236.7h10.4M833.4 236.7h5.2M880.2 236.7h2.6M648.8 239.3h2.6M654.0 239.3h2.6M672.2 239.3h2.6M680.0 239.3h2.6M739.8 239.3h13.0M755.4 239.3h13.0M773.6 239.3h10.4M794.4 239.3h7.8M812.6 239.3h2.6M825.6 239.3h10.4M656.6 241.9h2.6M680.0 241.9h13.0M734.6 241.9h7.8M747.6 241.9h20.8M773.6 241.9h15.6M794.4 241.9h7.8M810.0 241.9h2.6M817.8 241.9h13.0M680.0 244.5h15.6M739.8 244.5h5.2M747.6 244.5h44.2M794.4 244.5h5.2M810.0 244.5h2.6M836.0 244.5h5.2M685.2 247.1h13.0M732.0 247.1h5.2M745.0 247.1h28.6M784.0 247.1h10.4M810.0 247.1h2.6M836.0 247.1h7.8M849.0 247.1h2.6M1397.6 247.1h2.6M690.4 249.7h7.8M732.0 249.7h7.8M747.6 249.7h15.6M768.4 249.7h2.6M781.4 249.7h18.2M836.0 249.7h5.2M849.0 249.7h5.2M1397.6 249.7h5.2M664.4 252.3h2.6M693.0 252.3h7.8M734.6 252.3h2.6M745.0 252.3h10.4M758.0 252.3h5.2M768.4 252.3h5.2M776.2 252.3h26.0M807.4 252.3h2.6M823.0 252.3h2.6M836.0 252.3h7.8M846.4 252.3h7.8M1397.6 252.3h5.2M646.2 254.9h2.6M698.2 254.9h5.2M721.6 254.9h2.6M729.4 254.9h2.6M745.0 254.9h15.6M768.4 254.9h18.2M791.8 254.9h5.2M820.4 254.9h7.8M836.0 254.9h2.6M963.4 254.9h2.6M1400.2 254.9h2.6M703.4 257.5h7.8M721.6 257.5h2.6M729.4 257.5h2.6M745.0 257.5h2.6M750.2 257.5h10.4M768.4 257.5h2.6M773.6 257.5h5.2M791.8 257.5h5.2M815.2 257.5h13.0M960.8 257.5h5.2M992.0 257.5h2.6M1400.2 257.5h2.6M706.0 260.1h28.6M755.4 260.1h5.2M763.2 260.1h2.6M771.0 260.1h7.8M784.0 260.1h5.2M791.8 260.1h5.2M804.8 260.1h7.8M823.0 260.1h2.6M960.8 260.1h5.2M711.2 262.7h23.4M760.6 262.7h2.6M765.8 262.7h2.6M778.8 262.7h7.8M804.8 262.7h7.8M817.8 262.7h2.6M713.8 265.3h2.6M721.6 265.3h7.8M734.6 265.3h2.6M768.4 265.3h2.6M802.2 265.3h5.2M849.0 265.3h2.6M716.4 267.9h2.6M721.6 267.9h7.8M734.6 267.9h2.6M810.0 267.9h2.6M823.0 267.9h2.6M849.0 267.9h2.6M719.0 270.5h7.8M734.6 270.5h2.6M750.2 270.5h5.2M810.0 270.5h5.2M820.4 270.5h7.8M849.0 270.5h2.6M721.6 273.1h7.8M737.2 273.1h2.6M752.8 273.1h2.6M820.4 273.1h10.4M851.6 273.1h2.6M833.4 275.7h2.6M851.6 275.7h5.2M729.4 278.3h7.8M1306.6 278.3h5.2M734.6 280.9h2.6M742.4 280.9h2.6M836.0 280.9h2.6M719.0 283.5h2.6M739.8 283.5h5.2M833.4 283.5h2.6M838.6 283.5h2.6M1402.8 283.5h2.6M719.0 286.1h2.6M836.0 286.1h7.8M1280.6 286.1h2.6M1400.2 286.1h5.2M758.0 288.7h2.6M773.6 288.7h2.6M786.6 288.7h2.6M836.0 288.7h5.2M771.0 291.3h7.8M771.0 293.9h7.8M841.2 293.9h2.6M771.0 296.5h2.6M776.2 296.5h7.8M773.6 299.1h2.6M781.4 299.1h2.6M843.8 299.1h2.6M862.0 299.1h2.6M1384.6 299.1h2.6M773.6 301.7h2.6M781.4 301.7h2.6M1384.6 301.7h2.6M854.2 304.3h13.0M1387.2 304.3h2.6M862.0 306.9h2.6M867.2 306.9h2.6M875.0 306.9h2.6M1028.4 306.9h5.2M869.8 309.5h5.2M872.4 312.1h2.6M1387.2 312.1h5.2M869.8 314.7h5.2M1389.8 314.7h5.2M862.0 322.5h2.6M880.2 322.5h2.6M992.0 322.5h2.6M869.8 325.1h2.6M1389.8 325.1h2.6M851.6 327.7h2.6M880.2 327.7h5.2M849.0 330.3h5.2M880.2 330.3h5.2M1218.2 330.3h2.6M1395.0 330.3h2.6M849.0 332.9h2.6M859.4 332.9h5.2M877.6 332.9h10.4M1207.8 332.9h5.2M1392.4 332.9h2.6M846.4 335.5h7.8M856.8 335.5h2.6M862.0 335.5h5.2M877.6 335.5h7.8M1392.4 335.5h5.2M851.6 338.1h2.6M856.8 338.1h5.2M872.4 338.1h7.8M981.6 338.1h2.6M1395.0 338.1h5.2M856.8 340.7h5.2M869.8 340.7h10.4M901.0 340.7h2.6M984.2 340.7h2.6M1397.6 340.7h5.2M869.8 343.3h15.6M984.2 343.3h5.2M1395.0 343.3h5.2M869.8 345.9h15.6M984.2 345.9h5.2M1397.6 345.9h2.6M355.0 348.5h2.6M872.4 348.5h13.0M888.0 348.5h7.8M984.2 348.5h5.2M1397.6 348.5h2.6M355.0 351.1h2.6M872.4 351.1h7.8M882.8 351.1h13.0M984.2 351.1h5.2M1213.0 351.1h2.6M352.4 353.7h2.6M872.4 353.7h5.2M882.8 353.7h15.6M1213.0 353.7h2.6M1400.2 353.7h2.6M875.0 356.3h2.6M882.8 356.3h10.4M895.8 356.3h2.6M911.4 356.3h5.2M966.0 356.3h5.2M1395.0 356.3h2.6M875.0 358.9h2.6M911.4 358.9h5.2M942.6 358.9h2.6M960.8 358.9h13.0M1400.2 358.9h5.2M877.6 361.5h5.2M911.4 361.5h2.6M940.0 361.5h5.2M1218.2 361.5h2.6M882.8 364.1h2.6M942.6 364.1h2.6M971.2 364.1h2.6M1218.2 364.1h2.6M1392.4 364.1h2.6M856.8 366.7h7.8M882.8 366.7h2.6M973.8 366.7h2.6M1304.0 366.7h2.6M862.0 369.3h5.2M885.4 369.3h5.2M945.2 369.3h2.6M971.2 369.3h7.8M864.6 371.9h2.6M890.6 371.9h2.6M945.2 371.9h5.2M973.8 371.9h5.2M1236.4 371.9h5.2M942.6 374.5h7.8M973.8 374.5h5.2M1220.8 374.5h2.6M1236.4 374.5h2.6M927.0 377.1h2.6M942.6 377.1h7.8M973.8 377.1h5.2M1220.8 377.1h10.4M940.0 379.7h10.4M973.8 379.7h5.2M1223.4 379.7h7.8M942.6 382.3h10.4M986.8 382.3h7.8M1228.6 382.3h2.6M945.2 384.9h7.8M958.2 384.9h5.2M986.8 384.9h2.6M992.0 384.9h2.6M942.6 387.5h13.0M950.4 390.1h2.6M1345.6 392.7h2.6M906.2 395.3h5.2M992.0 397.9h7.8M901.0 400.5h2.6M994.6 400.5h5.2M1369.0 400.5h2.6M984.2 403.1h5.2M1369.0 403.1h2.6M898.4 405.7h2.6M903.6 405.7h2.6M981.6 405.7h5.2M1259.8 405.7h2.6M880.2 408.3h2.6M901.0 408.3h5.2M901.0 410.9h5.2M986.8 410.9h7.8M1228.6 410.9h5.2M1252.0 410.9h2.6M903.6 413.5h2.6M911.4 413.5h5.2M929.6 413.5h2.6M989.4 413.5h5.2M1231.2 413.5h5.2M903.6 416.1h7.8M914.0 416.1h5.2M1231.2 416.1h5.2M898.4 418.7h2.6M916.6 418.7h5.2M986.8 418.7h2.6M1181.8 418.7h5.2M1233.8 418.7h5.2M916.6 421.3h5.2M1033.6 421.3h2.6M1181.8 421.3h5.2M1233.8 421.3h2.6M1244.2 421.3h5.2M916.6 423.9h2.6M992.0 423.9h5.2M1382.0 423.9h2.6M914.0 426.5h2.6M992.0 426.5h5.2M1070.0 426.5h2.6M1374.2 426.5h2.6M919.2 429.1h10.4M963.4 429.1h2.6M992.0 429.1h5.2M1309.2 429.1h5.2M1387.2 429.1h5.2M919.2 431.7h2.6M1309.2 431.7h5.2M1387.2 431.7h5.2M924.4 434.3h2.6M963.4 434.3h2.6M1309.2 434.3h7.8M1389.8 434.3h2.6M934.8 436.9h2.6M1166.2 436.9h2.6M1309.2 436.9h10.4M1379.4 436.9h2.6M934.8 439.5h2.6M1166.2 439.5h2.6M1291.0 439.5h5.2M1309.2 439.5h10.4M934.8 442.1h2.6M960.8 442.1h2.6M1306.6 442.1h13.0M1324.8 442.1h2.6M960.8 444.7h2.6M1309.2 444.7h10.4M1228.6 447.3h5.2M1311.8 447.3h5.2M1291.0 449.9h2.6M1353.4 449.9h7.8M1353.4 452.5h5.2M932.2 455.1h2.6M1356.0 455.1h2.6M924.4 457.7h10.4M916.6 460.3h7.8M929.6 460.3h10.4M1374.2 460.3h2.6M919.2 462.9h2.6M934.8 462.9h5.2M958.2 462.9h2.6M976.4 462.9h2.6M1057.0 462.9h2.6M1184.4 462.9h2.6M1374.2 462.9h5.2M908.8 465.5h5.2M1184.4 465.5h2.6M903.6 468.1h10.4M1168.8 468.1h2.6M1184.4 468.1h7.8M1309.2 468.1h5.2M1369.0 468.1h5.2M1392.4 468.1h2.6M898.4 470.7h10.4M911.4 470.7h2.6M1168.8 470.7h5.2M1187.0 470.7h5.2M1369.0 470.7h13.0M880.2 473.3h2.6M1168.8 473.3h10.4M1285.8 473.3h7.8M1363.8 473.3h2.6M1376.8 473.3h5.2M1402.8 473.3h2.6M947.8 475.9h2.6M1283.2 475.9h10.4M1369.0 475.9h2.6M1291.0 478.5h2.6M888.0 481.1h2.6M966.0 481.1h2.6M1304.0 481.1h5.2M885.4 483.7h5.2M966.0 483.7h2.6M1306.6 483.7h2.6M1337.8 483.7h5.2M882.8 486.3h2.6M888.0 486.3h2.6M1187.0 486.3h7.8M882.8 488.9h5.2M893.2 488.9h5.2M1187.0 488.9h5.2M854.2 491.5h2.6M893.2 491.5h2.6M1249.4 491.5h5.2M1293.6 491.5h2.6M1298.8 491.5h2.6M856.8 494.1h5.2M893.2 494.1h5.2M1246.8 494.1h10.4M1291.0 494.1h10.4M1304.0 494.1h2.6M1327.4 494.1h7.8M890.6 496.7h13.0M1241.6 496.7h23.4M1291.0 496.7h18.2M1327.4 496.7h7.8M846.4 499.3h2.6M856.8 499.3h2.6M862.0 499.3h2.6M877.6 499.3h2.6M890.6 499.3h7.8M901.0 499.3h5.2M1244.2 499.3h20.8M1291.0 499.3h18.2M1379.4 499.3h2.6M1402.8 499.3h2.6M849.0 501.9h7.8M862.0 501.9h2.6M872.4 501.9h13.0M890.6 501.9h5.2M901.0 501.9h5.2M1244.2 501.9h23.4M1293.6 501.9h13.0M1379.4 501.9h2.6M862.0 504.5h2.6M867.2 504.5h2.6M872.4 504.5h13.0M893.2 504.5h15.6M1010.2 504.5h5.2M1246.8 504.5h20.8M1317.0 504.5h2.6M1369.0 504.5h5.2M854.2 507.1h2.6M862.0 507.1h7.8M875.0 507.1h7.8M895.8 507.1h13.0M1012.8 507.1h5.2M1181.8 507.1h5.2M1244.2 507.1h28.6M1317.0 507.1h7.8M1369.0 507.1h7.8M862.0 509.7h5.2M877.6 509.7h2.6M901.0 509.7h7.8M1015.4 509.7h2.6M1181.8 509.7h7.8M1205.2 509.7h2.6M1244.2 509.7h2.6M1249.4 509.7h15.6M1267.6 509.7h7.8M1317.0 509.7h7.8M830.8 512.3h5.2M843.8 512.3h2.6M901.0 512.3h5.2M1181.8 512.3h7.8M1252.0 512.3h10.4M1267.6 512.3h10.4M1319.6 512.3h2.6M1363.8 512.3h2.6M828.2 514.9h5.2M843.8 514.9h2.6M901.0 514.9h7.8M1181.8 514.9h7.8M1244.2 514.9h18.2M1267.6 514.9h7.8M1361.2 514.9h2.6M828.2 517.5h2.6M901.0 517.5h5.2M1181.8 517.5h7.8M1244.2 517.5h18.2M1270.2 517.5h13.0M828.2 520.1h2.6M1181.8 520.1h7.8M1244.2 520.1h10.4M1257.2 520.1h5.2M1267.6 520.1h18.2M1356.0 520.1h2.6M830.8 522.7h2.6M849.0 522.7h5.2M1181.8 522.7h10.4M1257.2 522.7h26.0M1353.4 522.7h2.6M1187.0 525.3h5.2M1246.8 525.3h5.2M1257.2 525.3h13.0M1272.8 525.3h7.8M1350.8 525.3h2.6M820.4 527.9h5.2M1246.8 527.9h5.2M1259.8 527.9h15.6M1278.0 527.9h2.6M817.8 530.5h2.6M1093.4 530.5h5.2M1158.4 530.5h2.6M1259.8 530.5h5.2M1267.6 530.5h5.2M1283.2 530.5h2.6M828.2 533.1h5.2M1158.4 533.1h2.6M1184.4 533.1h7.8M1257.2 533.1h10.4M1280.6 533.1h2.6M1348.2 533.1h2.6M1184.4 535.7h5.2M1257.2 535.7h7.8M1317.0 535.7h2.6M1171.4 538.3h2.6M1244.2 538.3h15.6M1314.4 538.3h5.2M1330.0 538.3h5.2M1337.8 538.3h2.6M1171.4 540.9h2.6M1244.2 540.9h15.6M1317.0 540.9h5.2M1330.0 540.9h7.8M1168.8 543.5h5.2M1246.8 543.5h7.8M1317.0 543.5h5.2M1324.8 543.5h2.6M1330.0 543.5h5.2M825.6 546.1h2.6M1171.4 546.1h2.6M1246.8 546.1h10.4M1332.6 546.1h7.8M825.6 548.7h7.8M864.6 548.7h2.6M1239.0 548.7h2.6M1246.8 548.7h10.4M1337.8 548.7h2.6M823.0 551.3h7.8M864.6 551.3h2.6M1236.4 551.3h2.6M1241.6 551.3h15.6M1337.8 551.3h2.6M1343.0 551.3h5.2M1239.0 553.9h23.4M1272.8 553.9h2.6M1278.0 553.9h2.6M1283.2 553.9h2.6M1340.4 553.9h7.8M1244.2 556.5h23.4M1275.4 556.5h13.0M1340.4 556.5h7.8M890.6 559.1h2.6M906.2 559.1h5.2M1244.2 559.1h15.6M1262.4 559.1h5.2M1270.2 559.1h28.6M1345.6 559.1h2.6M875.0 561.7h2.6M903.6 561.7h5.2M1246.8 561.7h2.6M1257.2 561.7h10.4M1270.2 561.7h23.4M1335.2 561.7h2.6M1345.6 561.7h2.6M812.6 564.3h2.6M872.4 564.3h2.6M903.6 564.3h2.6M1226.0 564.3h5.2M1259.8 564.3h5.2M1270.2 564.3h18.2M1291.0 564.3h2.6M1345.6 564.3h5.2M838.6 566.9h2.6M893.2 566.9h13.0M921.8 566.9h5.2M942.6 566.9h2.6M1189.6 566.9h2.6M1200.0 566.9h5.2M1304.0 566.9h7.8M1345.6 566.9h5.2M838.6 569.5h2.6M885.4 569.5h23.4M921.8 569.5h2.6M937.4 569.5h2.6M1184.4 569.5h7.8M1194.8 569.5h5.2M1301.4 569.5h10.4M1345.6 569.5h5.2M885.4 572.1h7.8M898.4 572.1h2.6M903.6 572.1h7.8M934.8 572.1h2.6M981.6 572.1h2.6M1018.0 572.1h2.6M1184.4 572.1h5.2M1197.4 572.1h5.2M1220.8 572.1h2.6M1244.2 572.1h2.6M1262.4 572.1h2.6M1293.6 572.1h2.6M1298.8 572.1h2.6M1304.0 572.1h5.2M1345.6 572.1h5.2M890.6 574.7h7.8M903.6 574.7h7.8M934.8 574.7h2.6M1184.4 574.7h2.6M1197.4 574.7h5.2M1220.8 574.7h2.6M1241.6 574.7h5.2M1262.4 574.7h2.6M1309.2 574.7h2.6M1345.6 574.7h7.8M890.6 577.3h18.2M921.8 577.3h5.2M1015.4 577.3h2.6M1197.4 577.3h2.6M1244.2 577.3h7.8M1262.4 577.3h2.6M1267.6 577.3h2.6M1275.4 577.3h2.6M1314.4 577.3h2.6M1343.0 577.3h10.4M893.2 579.9h15.6M921.8 579.9h5.2M1015.4 579.9h5.2M1223.4 579.9h7.8M1246.8 579.9h5.2M1265.0 579.9h5.2M1272.8 579.9h7.8M1343.0 579.9h10.4M919.2 582.5h2.6M1015.4 582.5h2.6M1036.2 582.5h2.6M1220.8 582.5h13.0M1249.4 582.5h2.6M1265.0 582.5h7.8M1275.4 582.5h5.2M1340.4 582.5h7.8M916.6 585.1h5.2M1033.6 585.1h5.2M1220.8 585.1h2.6M1231.2 585.1h2.6M1249.4 585.1h2.6M1265.0 585.1h5.2M1272.8 585.1h5.2M1280.6 585.1h2.6M1293.6 585.1h2.6M1340.4 585.1h5.2M843.8 587.7h2.6M916.6 587.7h5.2M953.0 587.7h7.8M1236.4 587.7h7.8M1249.4 587.7h10.4M1265.0 587.7h2.6M1278.0 587.7h7.8M1291.0 587.7h2.6M1298.8 587.7h2.6M1337.8 587.7h10.4M843.8 590.3h2.6M919.2 590.3h2.6M953.0 590.3h7.8M976.4 590.3h5.2M1005.0 590.3h2.6M1057.0 590.3h5.2M1241.6 590.3h23.4M1275.4 590.3h5.2M1337.8 590.3h13.0M838.6 592.9h7.8M955.6 592.9h5.2M973.8 592.9h7.8M1005.0 592.9h2.6M1220.8 592.9h5.2M1239.0 592.9h5.2M1252.0 592.9h15.6M1272.8 592.9h2.6M1343.0 592.9h20.8M836.0 595.5h5.2M843.8 595.5h2.6M1187.0 595.5h2.6M1218.2 595.5h10.4M1236.4 595.5h7.8M1254.6 595.5h10.4M1280.6 595.5h2.6M1296.2 595.5h2.6M1304.0 595.5h2.6M1311.8 595.5h2.6M1340.4 595.5h2.6M1350.8 595.5h2.6M1358.6 595.5h2.6M828.2 598.1h5.2M836.0 598.1h2.6M849.0 598.1h2.6M901.0 598.1h2.6M989.4 598.1h2.6M1181.8 598.1h7.8M1213.0 598.1h18.2M1236.4 598.1h15.6M1257.2 598.1h2.6M1262.4 598.1h2.6M1293.6 598.1h5.2M1358.6 598.1h2.6M830.8 600.7h2.6M841.2 600.7h2.6M898.4 600.7h5.2M989.4 600.7h2.6M1166.2 600.7h2.6M1181.8 600.7h7.8M1207.8 600.7h5.2M1215.6 600.7h2.6M1226.0 600.7h5.2M1239.0 600.7h2.6M1252.0 600.7h2.6M1257.2 600.7h2.6M1272.8 600.7h2.6M1330.0 600.7h2.6M828.2 603.3h2.6M841.2 603.3h2.6M901.0 603.3h5.2M1010.2 603.3h2.6M1187.0 603.3h2.6M1207.8 603.3h13.0M1226.0 603.3h7.8M1244.2 603.3h2.6M1252.0 603.3h5.2M1259.8 603.3h5.2M1345.6 603.3h5.2M1358.6 603.3h2.6M1366.4 603.3h2.6M843.8 605.9h2.6M1207.8 605.9h23.4M1254.6 605.9h2.6M1291.0 605.9h2.6M1345.6 605.9h2.6M1361.2 605.9h2.6M1374.2 605.9h2.6M1194.8 608.5h28.6M1226.0 608.5h5.2M1291.0 608.5h5.2M1309.2 608.5h7.8M1319.6 608.5h5.2M1369.0 608.5h2.6M989.4 611.1h2.6M1189.6 611.1h41.6M1288.4 611.1h2.6M1296.2 611.1h2.6M1306.6 611.1h2.6M1194.8 613.7h33.8M1246.8 613.7h7.8M1265.0 613.7h5.2M1288.4 613.7h2.6M1298.8 613.7h2.6M1202.6 616.3h23.4M1244.2 616.3h26.0M1293.6 616.3h2.6M1348.2 616.3h2.6M1382.0 616.3h10.4M1210.4 618.9h2.6M1223.4 618.9h2.6M1241.6 618.9h23.4M1293.6 618.9h7.8M1304.0 618.9h2.6M1343.0 618.9h10.4M1384.6 618.9h13.0M1241.6 621.5h10.4M1257.2 621.5h10.4M1296.2 621.5h10.4M1309.2 621.5h2.6M1337.8 621.5h15.6M1389.8 621.5h10.4M906.2 624.1h2.6M1233.8 624.1h7.8M1244.2 624.1h26.0M1296.2 624.1h10.4M1311.8 624.1h2.6M1337.8 624.1h5.2M1350.8 624.1h5.2M1387.2 624.1h13.0M838.6 626.7h5.2M1231.2 626.7h5.2M1246.8 626.7h23.4M1296.2 626.7h10.4M1311.8 626.7h2.6M1317.0 626.7h5.2M1337.8 626.7h7.8M1348.2 626.7h7.8M1389.8 626.7h15.6M144.4 629.3h2.6M836.0 629.3h5.2M1236.4 629.3h5.2M1246.8 629.3h10.4M1259.8 629.3h2.6M1296.2 629.3h10.4M1314.4 629.3h10.4M1337.8 629.3h18.2M1392.4 629.3h2.6M1400.2 629.3h2.6M799.6 631.9h5.2M836.0 631.9h2.6M841.2 631.9h2.6M1241.6 631.9h15.6M1296.2 631.9h7.8M1314.4 631.9h13.0M1337.8 631.9h15.6M836.0 634.5h5.2M1249.4 634.5h5.2M1257.2 634.5h2.6M1296.2 634.5h10.4M1317.0 634.5h10.4M1330.0 634.5h18.2M149.6 637.1h2.6M1041.4 637.1h5.2M1249.4 637.1h5.2M1278.0 637.1h2.6M1301.4 637.1h2.6M1319.6 637.1h15.6M1337.8 637.1h13.0M1353.4 637.1h2.6M1374.2 637.1h2.6M147.0 639.7h5.2M1257.2 639.7h2.6M1298.8 639.7h7.8M1317.0 639.7h20.8M1340.4 639.7h5.2M1353.4 639.7h2.6M147.0 642.3h2.6M851.6 642.3h2.6M1249.4 642.3h2.6M1257.2 642.3h2.6M1280.6 642.3h2.6M1296.2 642.3h13.0M1311.8 642.3h2.6M1322.2 642.3h33.8M1402.8 642.3h2.6M136.6 644.9h5.2M859.4 644.9h2.6M1280.6 644.9h7.8M1293.6 644.9h2.6M1304.0 644.9h5.2M1327.4 644.9h7.8M1353.4 644.9h5.2M1395.0 644.9h2.6M1402.8 644.9h2.6M833.4 647.5h2.6M1280.6 647.5h15.6M1306.6 647.5h5.2M1327.4 647.5h2.6M1358.6 647.5h2.6M1392.4 647.5h2.6M329.0 650.1h2.6M830.8 650.1h2.6M885.4 650.1h2.6M950.4 650.1h2.6M1088.2 650.1h2.6M1106.4 650.1h7.8M1270.2 650.1h2.6M1280.6 650.1h7.8M1291.0 650.1h7.8M1304.0 650.1h5.2M1319.6 650.1h2.6M1356.0 650.1h5.2M830.8 652.7h2.6M903.6 652.7h10.4M927.0 652.7h5.2M945.2 652.7h5.2M1103.8 652.7h13.0M1127.2 652.7h2.6M1267.6 652.7h2.6M1283.2 652.7h5.2M1293.6 652.7h13.0M1322.2 652.7h2.6M1366.4 652.7h2.6M872.4 655.3h5.2M888.0 655.3h2.6M903.6 655.3h5.2M914.0 655.3h2.6M929.6 655.3h2.6M1103.8 655.3h7.8M1114.2 655.3h2.6M1127.2 655.3h2.6M1283.2 655.3h5.2M1298.8 655.3h10.4M1366.4 655.3h2.6M869.8 657.9h13.0M901.0 657.9h2.6M921.8 657.9h2.6M1106.4 657.9h5.2M1114.2 657.9h10.4M1127.2 657.9h2.6M1267.6 657.9h2.6M1278.0 657.9h2.6M1283.2 657.9h5.2M1301.4 657.9h7.8M1382.0 657.9h2.6M898.4 660.5h7.8M908.8 660.5h5.2M934.8 660.5h2.6M997.2 660.5h2.6M1046.6 660.5h2.6M1080.4 660.5h2.6M1106.4 660.5h5.2M1114.2 660.5h13.0M1140.2 660.5h2.6M1267.6 660.5h10.4M1283.2 660.5h2.6M1296.2 660.5h15.6M1379.4 660.5h2.6M1389.8 660.5h2.6M147.0 663.1h2.6M888.0 663.1h5.2M898.4 663.1h5.2M960.8 663.1h2.6M997.2 663.1h13.0M1080.4 663.1h2.6M1114.2 663.1h7.8M1124.6 663.1h7.8M1137.6 663.1h2.6M1272.8 663.1h5.2M1283.2 663.1h2.6M1301.4 663.1h10.4M1379.4 663.1h5.2M1387.2 663.1h5.2M880.2 665.7h2.6M895.8 665.7h7.8M906.2 665.7h2.6M924.4 665.7h2.6M932.2 665.7h2.6M960.8 665.7h2.6M997.2 665.7h5.2M1007.6 665.7h2.6M1080.4 665.7h2.6M1119.4 665.7h2.6M1127.2 665.7h7.8M1304.0 665.7h5.2M1384.6 665.7h5.2M898.4 668.3h2.6M916.6 668.3h2.6M929.6 668.3h2.6M963.4 668.3h5.2M997.2 668.3h5.2M1012.8 668.3h5.2M1072.6 668.3h2.6M1374.2 668.3h2.6M1387.2 668.3h2.6M916.6 670.9h2.6M955.6 670.9h2.6M960.8 670.9h2.6M989.4 670.9h5.2M1018.0 670.9h5.2M1070.0 670.9h5.2M1272.8 670.9h2.6M1283.2 670.9h2.6M1371.6 670.9h2.6M911.4 673.5h2.6M919.2 673.5h2.6M955.6 673.5h2.6M1018.0 673.5h5.2M1077.8 673.5h2.6M1090.8 673.5h5.2M1184.4 673.5h2.6M1280.6 673.5h2.6M911.4 676.1h2.6M921.8 676.1h2.6M1020.6 676.1h2.6M1077.8 676.1h2.6M1085.6 676.1h10.4M1122.0 676.1h2.6M1150.6 676.1h5.2M1259.8 676.1h2.6M1374.2 676.1h2.6M1028.4 678.7h2.6M1067.4 678.7h2.6M1088.2 678.7h7.8M1111.6 678.7h5.2M1148.0 678.7h2.6M1153.2 678.7h2.6M1259.8 678.7h2.6M1028.4 681.3h7.8M1062.2 681.3h7.8M1088.2 681.3h7.8M1111.6 681.3h2.6M1148.0 681.3h10.4M1041.4 683.9h7.8M1059.6 683.9h2.6M1114.2 683.9h2.6M1150.6 683.9h7.8M1252.0 683.9h5.2M1046.6 686.5h2.6M1101.2 686.5h7.8M1148.0 686.5h5.2M1103.8 689.1h7.8M1150.6 689.1h5.2M1233.8 689.1h2.6M1096.0 691.7h2.6M1109.0 691.7h5.2M1153.2 691.7h2.6M1228.6 691.7h7.8M1096.0 694.3h5.2M1111.6 694.3h2.6M1116.8 694.3h5.2M1124.6 694.3h5.2M1228.6 694.3h7.8M1252.0 694.3h2.6M1257.2 694.3h2.6M1096.0 696.9h10.4M1114.2 696.9h13.0M1252.0 696.9h2.6M1098.6 699.5h7.8M1119.4 699.5h10.4M1213.0 699.5h2.6M1236.4 699.5h2.6M1252.0 699.5h2.6M1259.8 699.5h5.2M1101.2 702.1h2.6M1122.0 702.1h7.8M1140.2 702.1h2.6M1148.0 702.1h10.4M1210.4 702.1h5.2M1228.6 702.1h2.6M1252.0 702.1h2.6M1257.2 702.1h2.6M1265.0 702.1h2.6M1153.2 704.7h5.2M1210.4 704.7h2.6M1231.2 704.7h5.2M1249.4 704.7h7.8M1194.8 707.3h5.2M1228.6 707.3h7.8M1197.4 709.9h5.2M1205.2 709.9h2.6M1226.0 709.9h10.4M1166.2 712.5h5.2M1228.6 712.5h5.2M1166.2 715.1h2.6M1228.6 715.1h2.6M734.6 938.7h2.6"/>
<path stroke="#ffff00" d="M596.8 148.3h15.6M620.2 148.3h7.8M604.6 150.9h5.2M622.8 150.9h5.2M622.8 153.5h5.2M620.2 156.1h10.4M604.6 158.7h2.6M617.6 158.7h13.0M607.2 161.3h5.2M615.0 161.3h5.2M609.8 163.9h2.6M615.0 163.9h7.8M615.0 166.5h10.4M630.6 166.5h2.6M617.6 169.1h15.6M625.4 171.7h5.2M625.4 176.9h2.6M628.0 182.1h2.6M628.0 195.1h2.6M625.4 200.3h2.6M625.4 202.9h2.6M625.4 205.5h2.6M641.0 205.5h2.6M625.4 208.1h2.6M641.0 208.1h2.6M625.4 210.7h5.2M641.0 210.7h2.6M625.4 213.3h10.4M641.0 213.3h5.2M625.4 215.9h13.0M646.2 215.9h2.6M625.4 218.5h13.0M641.0 218.5h2.6M646.2 218.5h2.6M625.4 221.1h15.6M643.6 221.1h5.2M633.2 223.7h7.8M643.6 223.7h7.8M635.8 226.3h5.2M646.2 226.3h2.6M635.8 228.9h2.6M791.8 228.9h2.6M633.2 231.5h5.2M646.2 231.5h2.6M656.6 231.5h2.6M633.2 234.1h2.6M643.6 234.1h2.6M630.6 236.7h5.2M664.4 236.7h2.6M633.2 239.3h2.6M664.4 239.3h5.2M664.4 241.9h7.8M646.2 244.5h2.6M659.2 244.5h13.0M641.0 247.1h10.4M656.6 247.1h10.4M672.2 247.1h13.0M633.2 249.7h13.0M656.6 249.7h5.2M669.6 249.7h20.8M635.8 252.3h7.8M651.4 252.3h5.2M669.6 252.3h2.6M677.4 252.3h15.6M651.4 254.9h10.4M669.6 254.9h2.6M677.4 254.9h15.6M695.6 254.9h2.6M643.6 257.5h2.6M651.4 257.5h2.6M661.8 257.5h13.0M677.4 257.5h26.0M747.6 257.5h2.6M641.0 260.1h13.0M664.4 260.1h41.6M747.6 260.1h5.2M815.2 260.1h5.2M638.4 262.7h15.6M667.0 262.7h7.8M680.0 262.7h13.0M695.6 262.7h7.8M747.6 262.7h13.0M789.2 262.7h2.6M638.4 265.3h10.4M669.6 265.3h5.2M682.6 265.3h7.8M698.2 265.3h5.2M739.8 265.3h2.6M750.2 265.3h7.8M789.2 265.3h13.0M633.2 267.9h5.2M643.6 267.9h5.2M672.2 267.9h5.2M685.2 267.9h5.2M695.6 267.9h2.6M700.8 267.9h2.6M708.6 267.9h7.8M739.8 267.9h5.2M760.6 267.9h2.6M781.4 267.9h18.2M633.2 270.5h5.2M643.6 270.5h7.8M672.2 270.5h13.0M687.8 270.5h31.2M739.8 270.5h5.2M758.0 270.5h2.6M763.2 270.5h7.8M778.8 270.5h10.4M799.6 270.5h2.6M633.2 273.1h7.8M643.6 273.1h10.4M677.4 273.1h5.2M690.4 273.1h18.2M713.8 273.1h5.2M742.4 273.1h5.2M758.0 273.1h2.6M765.8 273.1h5.2M778.8 273.1h2.6M784.0 273.1h2.6M799.6 273.1h5.2M633.2 275.7h2.6M638.4 275.7h7.8M674.8 275.7h7.8M690.4 275.7h2.6M698.2 275.7h5.2M716.4 275.7h7.8M745.0 275.7h7.8M765.8 275.7h5.2M776.2 275.7h7.8M799.6 275.7h5.2M812.6 275.7h2.6M817.8 275.7h2.6M635.8 278.3h5.2M643.6 278.3h5.2M682.6 278.3h2.6M698.2 278.3h5.2M719.0 278.3h2.6M747.6 278.3h5.2M758.0 278.3h2.6M768.4 278.3h10.4M791.8 278.3h15.6M810.0 278.3h13.0M664.4 280.9h5.2M687.8 280.9h5.2M698.2 280.9h5.2M747.6 280.9h15.6M768.4 280.9h5.2M776.2 280.9h2.6M781.4 280.9h44.2M667.0 283.5h5.2M687.8 283.5h5.2M700.8 283.5h2.6M724.2 283.5h2.6M732.0 283.5h2.6M752.8 283.5h15.6M771.0 283.5h2.6M781.4 283.5h7.8M797.0 283.5h7.8M810.0 283.5h15.6M700.8 286.1h2.6M724.2 286.1h13.0M750.2 286.1h5.2M763.2 286.1h10.4M799.6 286.1h10.4M812.6 286.1h13.0M828.2 286.1h2.6M700.8 288.7h15.6M724.2 288.7h15.6M750.2 288.7h5.2M763.2 288.7h7.8M791.8 288.7h5.2M799.6 288.7h33.8M700.8 291.3h2.6M713.8 291.3h2.6M719.0 291.3h23.4M745.0 291.3h5.2M752.8 291.3h2.6M763.2 291.3h5.2M789.2 291.3h28.6M823.0 291.3h10.4M695.6 293.9h7.8M726.8 293.9h20.8M755.4 293.9h2.6M760.6 293.9h2.6M765.8 293.9h2.6M789.2 293.9h26.0M820.4 293.9h5.2M828.2 293.9h7.8M685.2 296.5h2.6M693.0 296.5h7.8M726.8 296.5h2.6M732.0 296.5h2.6M739.8 296.5h2.6M755.4 296.5h5.2M765.8 296.5h2.6M786.6 296.5h18.2M810.0 296.5h7.8M820.4 296.5h2.6M828.2 296.5h7.8M695.6 299.1h2.6M726.8 299.1h5.2M737.2 299.1h2.6M758.0 299.1h2.6M763.2 299.1h5.2M786.6 299.1h10.4M802.2 299.1h2.6M810.0 299.1h5.2M817.8 299.1h5.2M828.2 299.1h5.2M836.0 299.1h2.6M737.2 301.7h5.2M755.4 301.7h13.0M786.6 301.7h10.4M802.2 301.7h7.8M812.6 301.7h20.8M836.0 301.7h2.6M742.4 304.3h18.2M763.2 304.3h10.4M786.6 304.3h2.6M791.8 304.3h46.8M849.0 304.3h2.6M745.0 306.9h23.4M773.6 306.9h26.0M815.2 306.9h20.8M846.4 306.9h7.8M747.6 309.5h2.6M752.8 309.5h2.6M763.2 309.5h5.2M781.4 309.5h5.2M789.2 309.5h7.8M820.4 309.5h10.4M833.4 309.5h2.6M838.6 309.5h15.6M856.8 309.5h2.6M750.2 312.1h2.6M760.6 312.1h5.2M768.4 312.1h2.6M773.6 312.1h7.8M802.2 312.1h2.6M817.8 312.1h10.4M836.0 312.1h7.8M846.4 312.1h7.8M856.8 312.1h2.6M747.6 314.7h5.2M760.6 314.7h18.2M799.6 314.7h7.8M817.8 314.7h5.2M833.4 314.7h7.8M843.8 314.7h10.4M747.6 317.3h2.6M752.8 317.3h23.4M799.6 317.3h23.4M830.8 317.3h5.2M843.8 317.3h10.4M758.0 319.9h7.8M802.2 319.9h20.8M830.8 319.9h5.2M841.2 319.9h7.8M804.8 322.5h5.2M812.6 322.5h10.4M830.8 322.5h2.6M836.0 322.5h7.8M846.4 322.5h2.6M797.0 325.1h2.6M804.8 325.1h41.6M794.4 327.7h20.8M820.4 327.7h5.2M828.2 327.7h10.4M841.2 327.7h5.2M768.4 330.3h2.6M797.0 330.3h15.6M820.4 330.3h2.6M841.2 330.3h2.6M768.4 332.9h2.6M804.8 332.9h10.4M820.4 332.9h5.2M841.2 332.9h5.2M807.4 335.5h7.8M823.0 335.5h2.6M838.6 335.5h5.2M771.0 338.1h2.6M812.6 338.1h10.4M838.6 338.1h5.2M773.6 340.7h2.6M815.2 340.7h7.8M836.0 340.7h13.0M867.2 340.7h2.6M833.4 343.3h18.2M862.0 343.3h7.8M820.4 345.9h7.8M833.4 345.9h23.4M859.4 345.9h10.4M823.0 348.5h26.0M851.6 348.5h2.6M859.4 348.5h2.6M867.2 348.5h5.2M349.8 351.1h2.6M823.0 351.1h7.8M833.4 351.1h15.6M859.4 351.1h2.6M869.8 351.1h2.6M825.6 353.7h5.2M838.6 353.7h10.4M854.2 353.7h2.6M859.4 353.7h2.6M864.6 353.7h5.2M349.8 356.3h2.6M828.2 356.3h2.6M841.2 356.3h20.8M864.6 356.3h5.2M828.2 358.9h5.2M836.0 358.9h5.2M846.4 358.9h13.0M864.6 358.9h5.2M872.4 358.9h2.6M830.8 361.5h13.0M851.6 361.5h7.8M862.0 361.5h2.6M872.4 361.5h5.2M830.8 364.1h5.2M838.6 364.1h5.2M849.0 364.1h2.6M854.2 364.1h2.6M867.2 364.1h5.2M875.0 364.1h2.6M833.4 366.7h7.8M846.4 366.7h7.8M867.2 366.7h5.2M846.4 369.3h2.6M869.8 369.3h10.4M836.0 371.9h2.6M841.2 371.9h7.8M869.8 371.9h5.2M880.2 371.9h10.4M838.6 374.5h10.4M859.4 374.5h5.2M869.8 374.5h5.2M877.6 374.5h15.6M841.2 377.1h13.0M859.4 377.1h7.8M875.0 377.1h5.2M885.4 377.1h7.8M843.8 379.7h5.2M851.6 379.7h2.6M859.4 379.7h7.8M872.4 379.7h7.8M888.0 379.7h7.8M846.4 382.3h2.6M859.4 382.3h15.6M877.6 382.3h5.2M888.0 382.3h7.8M846.4 384.9h2.6M856.8 384.9h18.2M877.6 384.9h13.0M893.2 384.9h2.6M854.2 387.5h7.8M867.2 387.5h26.0M895.8 387.5h2.6M851.6 390.1h10.4M867.2 390.1h7.8M877.6 390.1h18.2M854.2 392.7h2.6M869.8 392.7h2.6M885.4 392.7h2.6M890.6 392.7h5.2M859.4 395.3h2.6M869.8 395.3h5.2M885.4 395.3h2.6M890.6 395.3h5.2M872.4 397.9h5.2M880.2 397.9h2.6M888.0 397.9h7.8M903.6 397.9h2.6M875.0 400.5h5.2M869.8 403.1h7.8M885.4 405.7h2.6M888.0 408.3h2.6M893.2 408.3h2.6M877.6 410.9h2.6M888.0 410.9h2.6M893.2 410.9h5.2M882.8 413.5h15.6M888.0 416.1h7.8M890.6 418.7h2.6M898.4 423.9h5.2M906.2 423.9h2.6M908.8 429.1h5.2M914.0 431.7h2.6M919.2 434.3h2.6M924.4 436.9h10.4M927.0 442.1h2.6M927.0 444.7h7.8M924.4 447.3h13.0M921.8 449.9h15.6M916.6 452.5h18.2M916.6 455.1h15.6M916.6 457.7h7.8M908.8 460.3h2.6M906.2 462.9h5.2M903.6 465.5h5.2M888.0 468.1h2.6M893.2 468.1h5.2M877.6 470.7h2.6M895.8 470.7h2.6M872.4 475.9h2.6M872.4 478.5h2.6M864.6 481.1h2.6M869.8 481.1h5.2M862.0 483.7h13.0M864.6 486.3h2.6M869.8 486.3h10.4M854.2 488.9h2.6M864.6 488.9h7.8M851.6 491.5h2.6M864.6 491.5h7.8M864.6 494.1h5.2M872.4 494.1h2.6M885.4 494.1h7.8M864.6 496.7h10.4M882.8 496.7h7.8M1387.2 496.7h15.6M810.0 499.3h2.6M867.2 499.3h2.6M885.4 499.3h5.2M1384.6 499.3h15.6M810.0 501.9h5.2M838.6 501.9h5.2M1384.6 501.9h2.6M1402.8 501.9h2.6M804.8 504.5h7.8M825.6 504.5h2.6M833.4 504.5h13.0M1379.4 504.5h2.6M804.8 507.1h7.8M823.0 507.1h20.8M1376.8 507.1h2.6M799.6 509.7h13.0M817.8 509.7h15.6M843.8 509.7h2.6M1371.6 509.7h2.6M799.6 512.3h13.0M817.8 512.3h2.6M1366.4 512.3h2.6M799.6 514.9h20.8M807.4 517.5h10.4M1361.2 517.5h2.6M807.4 520.1h5.2M807.4 522.7h2.6M807.4 525.3h5.2M799.6 527.9h10.4M799.6 530.5h2.6M812.6 530.5h2.6M1353.4 530.5h2.6M797.0 533.1h2.6M812.6 533.1h5.2M807.4 535.7h13.0M799.6 538.3h2.6M807.4 538.3h2.6M817.8 538.3h2.6M830.8 538.3h2.6M1350.8 538.3h2.6M804.8 540.9h7.8M815.2 540.9h5.2M828.2 540.9h5.2M1348.2 540.9h5.2M804.8 543.5h2.6M810.0 543.5h10.4M823.0 543.5h2.6M830.8 543.5h2.6M1350.8 543.5h2.6M802.2 546.1h2.6M815.2 546.1h2.6M823.0 546.1h2.6M812.6 548.7h7.8M1348.2 548.7h5.2M807.4 551.3h13.0M1348.2 551.3h5.2M807.4 553.9h13.0M1348.2 553.9h5.2M807.4 556.5h15.6M828.2 556.5h7.8M1348.2 556.5h5.2M804.8 559.1h7.8M820.4 559.1h18.2M1348.2 559.1h5.2M804.8 561.7h5.2M820.4 561.7h5.2M836.0 561.7h2.6M1348.2 561.7h5.2M807.4 564.3h2.6M820.4 564.3h2.6M1353.4 564.3h2.6M807.4 566.9h5.2M817.8 566.9h7.8M810.0 569.5h15.6M836.0 569.5h2.6M1350.8 569.5h2.6M807.4 572.1h10.4M833.4 572.1h2.6M1350.8 572.1h7.8M810.0 574.7h5.2M836.0 574.7h2.6M1356.0 574.7h2.6M810.0 577.3h2.6M1353.4 577.3h5.2M843.8 579.9h2.6M843.8 582.5h2.6M836.0 585.1h2.6M833.4 587.7h7.8M1296.2 587.7h2.6M833.4 590.3h7.8M1293.6 590.3h2.6M1361.2 590.3h7.8M823.0 592.9h2.6M833.4 592.9h2.6M1369.0 592.9h2.6M823.0 595.5h2.6M1345.6 595.5h2.6M1369.0 595.5h2.6M823.0 598.1h2.6M1343.0 598.1h7.8M1374.2 598.1h2.6M308.2 600.7h2.6M1353.4 600.7h5.2M1376.8 600.7h2.6M297.8 603.3h2.6M830.8 603.3h2.6M838.6 603.3h2.6M1285.8 603.3h2.6M1332.6 603.3h10.4M1379.4 603.3h2.6M841.2 605.9h2.6M1288.4 605.9h2.6M1327.4 605.9h2.6M1340.4 605.9h2.6M1379.4 605.9h2.6M825.6 608.5h2.6M843.8 608.5h2.6M1288.4 608.5h2.6M1324.8 608.5h2.6M1340.4 608.5h2.6M1350.8 608.5h7.8M1379.4 608.5h7.8M828.2 611.1h5.2M841.2 611.1h2.6M1311.8 611.1h5.2M1322.2 611.1h2.6M1340.4 611.1h2.6M1345.6 611.1h2.6M1350.8 611.1h5.2M1361.2 611.1h2.6M1374.2 611.1h2.6M1382.0 611.1h2.6M1387.2 611.1h7.8M828.2 613.7h10.4M1309.2 613.7h2.6M1317.0 613.7h2.6M1322.2 613.7h2.6M1337.8 613.7h2.6M1361.2 613.7h10.4M1374.2 613.7h2.6M1387.2 613.7h2.6M1392.4 613.7h7.8M323.8 616.3h2.6M830.8 616.3h7.8M1319.6 616.3h5.2M1330.0 616.3h7.8M1356.0 616.3h2.6M1361.2 616.3h2.6M1376.8 616.3h2.6M1395.0 616.3h5.2M1309.2 618.9h2.6M1322.2 618.9h2.6M1335.2 618.9h2.6M1356.0 618.9h7.8M1379.4 618.9h2.6M830.8 621.5h2.6M836.0 621.5h2.6M1356.0 621.5h7.8M1371.6 621.5h2.6M1376.8 621.5h2.6M141.8 624.1h7.8M1319.6 624.1h2.6M1356.0 624.1h13.0M1371.6 624.1h2.6M1379.4 624.1h2.6M131.4 626.7h2.6M147.0 626.7h5.2M167.8 626.7h2.6M830.8 626.7h2.6M836.0 626.7h2.6M1335.2 626.7h2.6M1356.0 626.7h2.6M1363.8 626.7h13.0M1379.4 626.7h2.6M1384.6 626.7h2.6M149.6 629.3h5.2M812.6 629.3h2.6M828.2 629.3h2.6M1324.8 629.3h2.6M1363.8 629.3h2.6M1371.6 629.3h7.8M149.6 631.9h2.6M812.6 631.9h10.4M825.6 631.9h2.6M1327.4 631.9h5.2M1361.2 631.9h7.8M1371.6 631.9h2.6M1379.4 631.9h2.6M1389.8 631.9h2.6M1397.6 631.9h2.6M128.8 634.5h2.6M810.0 634.5h15.6M828.2 634.5h2.6M1358.6 634.5h10.4M1379.4 634.5h2.6M1392.4 634.5h7.8M131.4 637.1h2.6M152.2 637.1h2.6M810.0 637.1h13.0M825.6 637.1h2.6M830.8 637.1h2.6M1356.0 637.1h2.6M1361.2 637.1h5.2M1379.4 637.1h2.6M1387.2 637.1h10.4M1402.8 637.1h2.6M152.2 639.7h2.6M820.4 639.7h5.2M830.8 639.7h5.2M841.2 639.7h7.8M1361.2 639.7h2.6M1379.4 639.7h2.6M1397.6 639.7h2.6M131.4 642.3h2.6M149.6 642.3h2.6M362.8 642.3h2.6M823.0 642.3h2.6M838.6 642.3h10.4M1358.6 642.3h5.2M1374.2 642.3h13.0M1392.4 642.3h2.6M833.4 644.9h2.6M838.6 644.9h10.4M1335.2 644.9h18.2M1361.2 644.9h2.6M1369.0 644.9h2.6M1376.8 644.9h5.2M134.0 647.5h10.4M326.4 647.5h5.2M838.6 647.5h10.4M856.8 647.5h5.2M1332.6 647.5h18.2M1369.0 647.5h10.4M141.8 650.1h2.6M323.8 650.1h2.6M331.6 650.1h2.6M825.6 650.1h2.6M836.0 650.1h5.2M843.8 650.1h5.2M854.2 650.1h13.0M1330.0 650.1h2.6M1335.2 650.1h2.6M1374.2 650.1h7.8M823.0 652.7h2.6M836.0 652.7h2.6M843.8 652.7h13.0M880.2 652.7h2.6M950.4 652.7h5.2M968.6 652.7h13.0M984.2 652.7h2.6M1330.0 652.7h2.6M1353.4 652.7h2.6M1376.8 652.7h5.2M823.0 655.3h2.6M836.0 655.3h2.6M854.2 655.3h10.4M934.8 655.3h2.6M942.6 655.3h10.4M968.6 655.3h10.4M984.2 655.3h2.6M1327.4 655.3h2.6M1374.2 655.3h7.8M823.0 657.9h2.6M836.0 657.9h7.8M856.8 657.9h7.8M885.4 657.9h2.6M937.4 657.9h2.6M942.6 657.9h10.4M966.0 657.9h20.8M1288.4 657.9h2.6M1324.8 657.9h2.6M1361.2 657.9h2.6M1400.2 657.9h5.2M833.4 660.5h7.8M867.2 660.5h5.2M945.2 660.5h7.8M966.0 660.5h15.6M1285.8 660.5h5.2M1322.2 660.5h2.6M1371.6 660.5h5.2M833.4 663.1h5.2M945.2 663.1h2.6M966.0 663.1h15.6M1285.8 663.1h15.6M1314.4 663.1h7.8M833.4 665.7h2.6M877.6 665.7h2.6M919.2 665.7h5.2M937.4 665.7h2.6M968.6 665.7h15.6M1288.4 665.7h5.2M1296.2 665.7h7.8M1309.2 665.7h7.8M147.0 668.3h2.6M885.4 668.3h7.8M919.2 668.3h7.8M976.4 668.3h10.4M1005.0 668.3h2.6M1010.2 668.3h2.6M1298.8 668.3h2.6M1306.6 668.3h7.8M1369.0 668.3h2.6M890.6 670.9h2.6M911.4 670.9h5.2M924.4 670.9h2.6M937.4 670.9h13.0M976.4 670.9h10.4M997.2 670.9h2.6M1301.4 670.9h2.6M1306.6 670.9h7.8M336.8 673.5h2.6M895.8 673.5h10.4M908.8 673.5h2.6M914.0 673.5h2.6M924.4 673.5h2.6M934.8 673.5h15.6M973.8 673.5h7.8M1015.4 673.5h2.6M1262.4 673.5h2.6M1272.8 673.5h2.6M1291.0 673.5h10.4M1306.6 673.5h10.4M1387.2 673.5h2.6M339.4 676.1h2.6M914.0 676.1h2.6M919.2 676.1h2.6M924.4 676.1h2.6M937.4 676.1h13.0M963.4 676.1h10.4M1265.0 676.1h10.4M1285.8 676.1h13.0M1304.0 676.1h7.8M336.8 678.7h5.2M911.4 678.7h2.6M921.8 678.7h2.6M942.6 678.7h5.2M955.6 678.7h2.6M960.8 678.7h10.4M1018.0 678.7h2.6M1262.4 678.7h33.8M1382.0 678.7h2.6M947.8 681.3h2.6M953.0 681.3h10.4M1077.8 681.3h2.6M1262.4 681.3h2.6M1270.2 681.3h23.4M1379.4 681.3h2.6M953.0 683.9h5.2M1023.2 683.9h2.6M1036.2 683.9h5.2M1072.6 683.9h10.4M1262.4 683.9h7.8M1275.4 683.9h13.0M1038.8 686.5h2.6M1054.4 686.5h2.6M1064.8 686.5h18.2M1252.0 686.5h15.6M1275.4 686.5h5.2M1020.6 689.1h2.6M1036.2 689.1h13.0M1051.8 689.1h13.0M1077.8 689.1h5.2M1085.6 689.1h2.6M1101.2 689.1h2.6M1257.2 689.1h10.4M1270.2 689.1h5.2M1278.0 689.1h7.8M1031.0 691.7h15.6M1051.8 691.7h5.2M1059.6 691.7h5.2M1085.6 691.7h5.2M1106.4 691.7h2.6M1280.6 691.7h2.6M1033.6 694.3h10.4M1088.2 694.3h2.6M1109.0 694.3h2.6M1280.6 694.3h2.6M1293.6 694.3h2.6M331.6 696.9h2.6M336.8 696.9h2.6M1036.2 696.9h2.6M1090.8 696.9h2.6M1109.0 696.9h5.2M1275.4 696.9h2.6M1280.6 696.9h2.6M1291.0 696.9h2.6M1090.8 699.5h5.2M1106.4 699.5h7.8M1116.8 699.5h2.6M1272.8 699.5h2.6M1090.8 702.1h7.8M1109.0 702.1h2.6M1116.8 702.1h5.2M1189.6 702.1h2.6M1215.6 702.1h5.2M1285.8 702.1h2.6M1090.8 704.7h7.8M1109.0 704.7h20.8M1142.8 704.7h7.8M1215.6 704.7h5.2M1088.2 707.3h2.6M1098.6 707.3h15.6M1116.8 707.3h10.4M1140.2 707.3h7.8M1153.2 707.3h5.2M1187.0 707.3h5.2M1210.4 707.3h10.4M1239.0 707.3h2.6M1090.8 709.9h2.6M1098.6 709.9h10.4M1111.6 709.9h7.8M1122.0 709.9h2.6M1150.6 709.9h2.6M1155.8 709.9h5.2M1176.6 709.9h5.2M1187.0 709.9h5.2M1213.0 709.9h5.2M1220.8 709.9h5.2M1252.0 709.9h2.6M1096.0 712.5h23.4M1122.0 712.5h5.2M1155.8 712.5h5.2M1176.6 712.5h7.8M1207.8 712.5h7.8M1220.8 712.5h7.8M1249.4 712.5h5.2M1259.8 712.5h2.6M1101.2 715.1h26.0M1174.0 715.1h2.6M1205.2 715.1h10.4M1218.2 715.1h10.4M1246.8 715.1h10.4M1111.6 717.7h10.4M1161.0 717.7h2.6M1210.4 717.7h5.2M1218.2 717.7h13.0M1236.4 717.7h2.6M1241.6 717.7h2.6M1249.4 717.7h7.8M1213.0 720.3h13.0M1228.6 720.3h15.6M1252.0 720.3h7.8M1215.6 722.9h2.6M1220.8 722.9h23.4M1254.6 722.9h2.6M1223.4 725.5h10.4M1241.6 725.5h5.2M1254.6 725.5h2.6M435.6 728.1h7.8M1226.0 728.1h7.8M1239.0 728.1h15.6M433.0 730.7h2.6M438.2 730.7h2.6M1231.2 730.7h18.2M1252.0 730.7h5.2M1233.8 733.3h20.8M1249.4 735.9h2.6M659.2 816.5h2.6M1207.8 876.3h2.6M1116.8 878.9h2.6M1181.8 878.9h2.6M1197.4 878.9h5.2M1142.8 881.5h2.6M1005.0 902.3h7.8M1007.6 904.9h5.2M971.2 925.7h2.6M739.8 938.7h2.6M742.4 941.3h2.6M903.6 946.5h2.6M807.4 949.1h2.6M901.0 949.1h5.2M940.0 951.7h10.4M763.2 954.3h2.6M1023.2 975.1h5.2"/>
<path stroke="#00dc00" d="M287.4 270.5h15.6M279.6 273.1h23.4M222.4 275.7h2.6M274.4 275.7h28.6M219.8 278.3h5.2M264.0 278.3h41.6M219.8 280.9h5.2M261.4 280.9h44.2M217.2 283.5h7.8M258.8 283.5h46.8M217.2 286.1h7.8M258.8 286.1h49.4M521.4 286.1h5.2M214.6 288.7h10.4M256.2 288.7h52.0M511.0 288.7h13.0M212.0 291.3h13.0M256.2 291.3h52.0M508.4 291.3h13.0M212.0 293.9h10.4M245.8 293.9h65.0M347.2 293.9h2.6M209.4 296.5h13.0M245.8 296.5h65.0M347.2 296.5h5.2M206.8 299.1h13.0M245.8 299.1h65.0M347.2 299.1h7.8M204.2 301.7h13.0M243.2 301.7h67.6M336.8 301.7h18.2M204.2 304.3h13.0M243.2 304.3h67.6M334.2 304.3h23.4M204.2 306.9h10.4M243.2 306.9h67.6M334.2 306.9h23.4M204.2 309.5h2.6M240.6 309.5h72.8M331.6 309.5h28.6M238.0 312.1h75.4M331.6 312.1h28.6M238.0 314.7h78.0M329.0 314.7h31.2M238.0 317.3h78.0M329.0 317.3h33.8M235.4 319.9h80.6M329.0 319.9h33.8M232.8 322.5h85.8M329.0 322.5h36.4M230.2 325.1h85.8M326.4 325.1h39.0M230.2 327.7h85.8M326.4 327.7h41.6M227.6 330.3h91.0M326.4 330.3h44.2M227.6 332.9h93.6M326.4 332.9h46.8M227.6 335.5h158.6M227.6 338.1h127.4M362.8 338.1h28.6M227.6 340.7h124.8M365.4 340.7h28.6M225.0 343.3h124.8M365.4 343.3h31.2M225.0 345.9h122.2M365.4 345.9h33.8M227.6 348.5h119.6M365.4 348.5h33.8M227.6 351.1h119.6M362.8 351.1h39.0M581.2 351.1h7.8M227.6 353.7h119.6M362.8 353.7h41.6M581.2 353.7h7.8M227.6 356.3h119.6M360.2 356.3h44.2M581.2 356.3h5.2M230.2 358.9h117.0M357.6 358.9h49.4M230.2 361.5h117.0M355.0 361.5h52.0M230.2 364.1h179.4M232.8 366.7h176.8M232.8 369.3h179.4M232.8 371.9h179.4M232.8 374.5h176.8M235.4 377.1h171.6M438.2 377.1h5.2M235.4 379.7h169.0M435.6 379.7h7.8M235.4 382.3h166.4M435.6 382.3h7.8M238.0 384.9h33.8M274.4 384.9h124.8M435.6 384.9h5.2M240.6 387.5h28.6M277.0 387.5h122.2M433.0 387.5h7.8M240.6 390.1h26.0M277.0 390.1h122.2M433.0 390.1h10.4M243.2 392.7h23.4M279.6 392.7h117.0M430.4 392.7h13.0M245.8 395.3h18.2M284.8 395.3h111.8M427.8 395.3h39.0M248.4 397.9h10.4M323.8 397.9h70.2M427.8 397.9h44.2M326.4 400.5h65.0M425.2 400.5h54.6M154.8 403.1h5.2M326.4 403.1h62.4M425.2 403.1h54.6M154.8 405.7h5.2M326.4 405.7h59.8M427.8 405.7h54.6M154.8 408.3h5.2M329.0 408.3h33.8M368.0 408.3h10.4M427.8 408.3h54.6M154.8 410.9h5.2M329.0 410.9h33.8M430.4 410.9h54.6M154.8 413.5h5.2M334.2 413.5h10.4M349.8 413.5h7.8M433.0 413.5h52.0M154.8 416.1h7.8M435.6 416.1h54.6M154.8 418.7h7.8M435.6 418.7h70.2M154.8 421.3h7.8M438.2 421.3h70.2M154.8 423.9h7.8M440.8 423.9h72.8M154.8 426.5h7.8M443.4 426.5h70.2M154.8 429.1h7.8M446.0 429.1h70.2M157.4 431.7h5.2M448.6 431.7h67.6M157.4 434.3h2.6M451.2 434.3h70.2M451.2 436.9h78.0M453.8 439.5h75.4M453.8 442.1h75.4M456.4 444.7h70.2M264.0 447.3h13.0M459.0 447.3h52.0M513.6 447.3h10.4M261.4 449.9h18.2M459.0 449.9h52.0M513.6 449.9h7.8M258.8 452.5h23.4M461.6 452.5h57.2M258.8 455.1h23.4M464.2 455.1h52.0M258.8 457.7h23.4M469.4 457.7h41.6M256.2 460.3h23.4M477.2 460.3h26.0M256.2 462.9h23.4M256.2 465.5h20.8M256.2 468.1h20.8M256.2 470.7h18.2M258.8 473.3h13.0M261.4 475.9h5.2M269.2 488.9h26.0M264.0 491.5h36.4M264.0 494.1h39.0M261.4 496.7h41.6M258.8 499.3h46.8M256.2 501.9h52.0M253.6 504.5h54.6M251.0 507.1h59.8M245.8 509.7h65.0M227.6 512.3h85.8M227.6 514.9h85.8M230.2 517.5h2.6M245.8 517.5h70.2M248.4 520.1h67.6M253.6 522.7h62.4M256.2 525.3h59.8M258.8 527.9h59.8M261.4 530.5h57.2M264.0 533.1h54.6M266.6 535.7h52.0M269.2 538.3h49.4M271.8 540.9h44.2M277.0 543.5h39.0M279.6 546.1h36.4M284.8 548.7h28.6M290.0 551.3h23.4M295.2 553.9h18.2M300.4 556.5h13.0M303.0 559.1h7.8M230.2 566.9h5.2M230.2 569.5h10.4M230.2 572.1h13.0M230.2 574.7h15.6M232.8 577.3h13.0M232.8 579.9h15.6M232.8 582.5h18.2M232.8 585.1h20.8M191.2 587.7h2.6M235.4 587.7h20.8M186.0 590.3h13.0M235.4 590.3h26.0M183.4 592.9h20.8M235.4 592.9h31.2M186.0 595.5h23.4M227.6 595.5h49.4M175.6 598.1h10.4M191.2 598.1h91.0M170.4 600.7h20.8M196.4 600.7h46.8M256.2 600.7h31.2M170.4 603.3h26.0M201.6 603.3h41.6M258.8 603.3h33.8M170.4 605.9h72.8M256.2 605.9h41.6M170.4 608.5h75.4M256.2 608.5h46.8M173.0 611.1h5.2M186.0 611.1h5.2M193.8 611.1h117.0M196.4 613.7h119.6M199.0 616.3h119.6M199.0 618.9h124.8M186.0 621.5h143.0M183.4 624.1h148.2M178.2 626.7h156.0M175.6 629.3h65.0M243.2 629.3h96.2M173.0 631.9h169.0M170.4 634.5h176.8M173.0 637.1h176.8M175.6 639.7h179.4M175.6 642.3h145.6M336.8 642.3h23.4M175.6 644.9h2.6M180.8 644.9h132.6M339.4 644.9h23.4M173.0 647.5h135.2M342.0 647.5h23.4M121.0 650.1h2.6M170.4 650.1h135.2M344.6 650.1h26.0M121.0 652.7h7.8M134.0 652.7h7.8M170.4 652.7h135.2M347.2 652.7h26.0M121.0 655.3h7.8M134.0 655.3h10.4M167.8 655.3h93.6M266.6 655.3h44.2M313.4 655.3h20.8M360.2 655.3h15.6M121.0 657.9h26.0M167.8 657.9h174.2M370.6 657.9h10.4M121.0 660.5h26.0M167.8 660.5h200.2M378.4 660.5h5.2M121.0 663.1h23.4M167.8 663.1h78.0M248.4 663.1h91.0M349.8 663.1h36.4M121.0 665.7h23.4M167.8 665.7h72.8M248.4 665.7h91.0M349.8 665.7h23.4M378.4 665.7h28.6M121.0 668.3h23.4M167.8 668.3h72.8M245.8 668.3h91.0M349.8 668.3h20.8M375.8 668.3h36.4M121.0 670.9h23.4M152.2 670.9h2.6M167.8 670.9h72.8M243.2 670.9h91.0M352.4 670.9h15.6M373.2 670.9h44.2M121.0 673.5h5.2M131.4 673.5h13.0M152.2 673.5h5.2M167.8 673.5h166.4M355.0 673.5h7.8M370.6 673.5h52.0M121.0 676.1h7.8M134.0 676.1h26.0M165.2 676.1h2.6M170.4 676.1h163.8M355.0 676.1h5.2M368.0 676.1h59.8M1332.6 676.1h18.2M121.0 678.7h213.2M352.4 678.7h5.2M365.4 678.7h65.0M1322.2 678.7h36.4M121.0 681.3h143.0M266.6 681.3h70.2M349.8 681.3h5.2M362.8 681.3h70.2M1314.4 681.3h49.4M121.0 683.9h137.8M266.6 683.9h70.2M342.0 683.9h2.6M347.2 683.9h5.2M360.2 683.9h31.2M394.0 683.9h41.6M1311.8 683.9h54.6M121.0 686.5h135.2M266.6 686.5h52.0M321.2 686.5h28.6M357.6 686.5h80.6M1306.6 686.5h65.0M121.0 689.1h135.2M266.6 689.1h52.0M321.2 689.1h26.0M355.0 689.1h2.6M360.2 689.1h80.6M1304.0 689.1h70.2M121.0 691.7h2.6M126.2 691.7h15.6M144.4 691.7h114.4M269.2 691.7h31.2M303.0 691.7h15.6M323.8 691.7h2.6M339.4 691.7h5.2M352.4 691.7h5.2M360.2 691.7h70.2M435.6 691.7h7.8M1301.4 691.7h75.4M121.0 694.3h2.6M126.2 694.3h122.2M251.0 694.3h67.6M349.8 694.3h7.8M362.8 694.3h65.0M435.6 694.3h10.4M1301.4 694.3h78.0M121.0 696.9h195.0M347.2 696.9h18.2M373.2 696.9h54.6M435.6 696.9h13.0M1298.8 696.9h83.2M121.0 699.5h192.4M347.2 699.5h18.2M373.2 699.5h54.6M438.2 699.5h13.0M1296.2 699.5h85.8M121.0 702.1h192.4M344.6 702.1h26.0M373.2 702.1h54.6M435.6 702.1h15.6M1293.6 702.1h88.4M121.0 704.7h140.4M266.6 704.7h46.8M339.4 704.7h91.0M433.0 704.7h20.8M1293.6 704.7h88.4M121.0 707.3h195.0M331.6 707.3h31.2M365.4 707.3h18.2M386.2 707.3h67.6M1291.0 707.3h88.4M121.0 709.9h262.6M386.2 709.9h67.6M1291.0 709.9h88.4M121.0 712.5h213.2M336.8 712.5h117.0M1288.4 712.5h88.4M121.0 715.1h93.6M217.2 715.1h239.2M1288.4 715.1h85.8M121.0 717.7h91.0M217.2 717.7h218.4M438.2 717.7h18.2M1285.8 717.7h85.8M123.6 720.3h98.8M225.0 720.3h205.4M438.2 720.3h18.2M1285.8 720.3h83.2M123.6 722.9h101.4M227.6 722.9h200.2M443.4 722.9h13.0M1283.2 722.9h83.2M121.0 725.5h101.4M227.6 725.5h197.6M446.0 725.5h10.4M1283.2 725.5h80.6M121.0 728.1h91.0M214.6 728.1h10.4M227.6 728.1h59.8M290.0 728.1h135.2M448.6 728.1h5.2M1283.2 728.1h75.4M121.0 730.7h91.0M214.6 730.7h72.8M290.0 730.7h67.6M360.2 730.7h67.6M448.6 730.7h5.2M1280.6 730.7h72.8M121.0 733.3h169.0M295.2 733.3h135.2M446.0 733.3h7.8M1280.6 733.3h70.2M121.0 735.9h260.0M386.2 735.9h67.6M1280.6 735.9h65.0M121.0 738.5h127.4M253.6 738.5h200.2M1280.6 738.5h62.4M121.0 741.1h332.8M1278.0 741.1h39.0M1324.8 741.1h7.8M121.0 743.7h335.4M1278.0 743.7h39.0M121.0 746.3h104.0M227.6 746.3h156.0M386.2 746.3h72.8M1280.6 746.3h33.8M121.0 748.9h252.2M378.4 748.9h83.2M1280.6 748.9h31.2M121.0 751.5h124.8M248.4 751.5h215.8M1280.6 751.5h31.2M121.0 754.1h182.0M308.2 754.1h122.2M435.6 754.1h31.2M1280.6 754.1h31.2M121.0 756.7h114.4M240.6 756.7h26.0M269.2 756.7h15.6M287.4 756.7h18.2M308.2 756.7h104.0M414.8 756.7h15.6M435.6 756.7h33.8M1283.2 756.7h23.4M121.0 759.3h114.4M240.6 759.3h171.6M414.8 759.3h54.6M1283.2 759.3h18.2M121.0 761.9h351.0M1285.8 761.9h10.4M121.0 764.5h231.4M355.0 764.5h119.6M1288.4 764.5h2.6M121.0 767.1h135.2M264.0 767.1h182.0M448.6 767.1h28.6M121.0 769.7h137.8M264.0 769.7h15.6M284.8 769.7h161.2M448.6 769.7h31.2M121.0 772.3h161.2M284.8 772.3h197.6M121.0 774.9h364.0M121.0 777.5h366.6M121.0 780.1h369.2M121.0 782.7h369.2M121.0 785.3h371.8M121.0 787.9h200.2M323.8 787.9h169.0M121.0 790.5h301.6M430.4 790.5h62.4M121.0 793.1h85.8M212.0 793.1h208.0M425.2 793.1h70.2M121.0 795.7h78.0M201.6 795.7h5.2M209.4 795.7h286.0M121.0 798.3h65.0M188.6 798.3h7.8M201.6 798.3h293.8M121.0 800.9h62.4M188.6 800.9h306.8M121.0 803.5h377.0M121.0 806.1h377.0M121.0 808.7h377.0M121.0 811.3h137.8M264.0 811.3h234.0M121.0 813.9h187.2M313.4 813.9h184.6M121.0 816.5h379.6M599.4 816.5h39.0M121.0 819.1h379.6M581.2 819.1h70.2M121.0 821.7h382.2M565.6 821.7h96.2M121.0 824.3h104.0M227.6 824.3h278.2M555.2 824.3h117.0M121.0 826.9h104.0M227.6 826.9h280.8M539.6 826.9h137.8M121.0 829.5h564.2M121.0 832.1h93.6M217.2 832.1h473.2M121.0 834.7h574.6M121.0 837.3h564.2M687.8 837.3h10.4M121.0 839.9h564.2M690.4 839.9h13.0M747.6 839.9h5.2M776.2 839.9h2.6M121.0 842.5h569.4M693.0 842.5h13.0M747.6 842.5h5.2M121.0 845.1h561.6M685.2 845.1h23.4M747.6 845.1h7.8M121.0 847.7h590.2M750.2 847.7h5.2M121.0 850.3h592.8M778.8 850.3h2.6M121.0 852.9h23.4M147.0 852.9h569.4M781.4 852.9h2.6M121.0 855.5h566.8M690.4 855.5h13.0M708.6 855.5h10.4M121.0 858.1h566.8M690.4 858.1h13.0M706.0 858.1h15.6M121.0 860.7h78.0M204.2 860.7h468.0M674.8 860.7h26.0M703.4 860.7h20.8M121.0 863.3h78.0M204.2 863.3h465.4M677.4 863.3h46.8M802.2 863.3h5.2M121.0 865.9h80.6M204.2 865.9h416.0M622.8 865.9h52.0M680.0 865.9h46.8M121.0 868.5h553.8M680.0 868.5h46.8M121.0 871.1h390.0M513.6 871.1h140.4M659.2 871.1h18.2M680.0 871.1h49.4M1223.4 871.1h10.4M121.0 873.7h390.0M516.2 873.7h130.0M648.8 873.7h5.2M659.2 873.7h70.2M1218.2 873.7h18.2M121.0 876.3h62.4M188.6 876.3h275.6M466.8 876.3h161.2M630.6 876.3h23.4M659.2 876.3h72.8M1215.6 876.3h26.0M121.0 878.9h340.6M466.8 878.9h26.0M498.0 878.9h156.0M656.6 878.9h75.4M1210.4 878.9h39.0M121.0 881.5h340.6M466.8 881.5h23.4M500.6 881.5h231.4M1200.0 881.5h59.8M121.0 884.1h369.2M498.0 884.1h101.4M602.0 884.1h130.0M1171.4 884.1h5.2M1184.4 884.1h91.0M121.0 886.7h611.0M1148.0 886.7h13.0M1166.2 886.7h130.0M121.0 889.3h613.6M1057.0 889.3h39.0M1116.8 889.3h15.6M1148.0 889.3h182.0M121.0 891.9h163.8M287.4 891.9h447.2M1057.0 891.9h78.0M1150.6 891.9h184.6M121.0 894.5h478.4M602.0 894.5h132.6M1059.6 894.5h83.2M1150.6 894.5h192.4M121.0 897.1h512.2M635.8 897.1h98.8M1059.6 897.1h85.8M1153.2 897.1h197.6M121.0 899.7h574.6M700.8 899.7h13.0M719.0 899.7h15.6M1059.6 899.7h85.8M1148.0 899.7h208.0M121.0 902.3h252.2M375.8 902.3h317.2M700.8 902.3h13.0M716.4 902.3h18.2M1059.6 902.3h301.6M121.0 904.9h613.6M1062.2 904.9h304.2M121.0 907.5h613.6M992.0 907.5h10.4M1062.2 907.5h309.4M121.0 910.1h478.4M602.0 910.1h109.2M716.4 910.1h15.6M984.2 910.1h28.6M1062.2 910.1h314.6M121.0 912.7h478.4M602.0 912.7h109.2M716.4 912.7h15.6M979.0 912.7h41.6M1064.8 912.7h187.2M1254.6 912.7h130.0M1395.0 912.7h5.2M121.0 915.3h590.2M716.4 915.3h13.0M979.0 915.3h46.8M1064.8 915.3h101.4M1171.4 915.3h234.0M121.0 917.9h608.4M976.4 917.9h52.0M1062.2 917.9h343.2M121.0 920.5h475.8M599.4 920.5h130.0M976.4 920.5h52.0M1059.6 920.5h345.8M121.0 923.1h80.6M204.2 923.1h465.4M674.8 923.1h52.0M976.4 923.1h52.0M1057.0 923.1h348.4M121.0 925.7h481.0M604.6 925.7h67.6M674.8 925.7h52.0M976.4 925.7h52.0M1054.4 925.7h351.0M121.0 928.3h603.2M973.8 928.3h54.6M1054.4 928.3h351.0M121.0 930.9h579.8M703.4 930.9h20.8M971.2 930.9h57.2M1051.8 930.9h353.6M121.0 933.5h397.8M524.0 933.5h176.8M703.4 933.5h20.8M971.2 933.5h54.6M1054.4 933.5h351.0M121.0 936.1h400.4M524.0 936.1h200.2M968.6 936.1h57.2M1067.4 936.1h338.0M121.0 938.7h7.8M131.4 938.7h595.4M966.0 938.7h20.8M994.6 938.7h31.2M1067.4 938.7h322.4M1395.0 938.7h10.4M121.0 941.3h608.4M966.0 941.3h20.8M1002.4 941.3h23.4M1070.0 941.3h106.6M1179.2 941.3h208.0M1389.8 941.3h15.6M121.0 943.9h611.0M856.8 943.9h5.2M963.4 943.9h23.4M1015.4 943.9h10.4M1072.6 943.9h332.8M121.0 946.5h249.6M378.4 946.5h358.8M851.6 946.5h13.0M960.8 946.5h28.6M1072.6 946.5h93.6M1168.8 946.5h236.6M121.0 949.1h249.6M375.8 949.1h296.4M674.8 949.1h67.6M830.8 949.1h36.4M958.2 949.1h33.8M1075.2 949.1h330.2M121.0 951.7h551.2M674.8 951.7h49.4M726.8 951.7h20.8M823.0 951.7h46.8M955.6 951.7h39.0M1075.2 951.7h330.2M121.0 954.3h605.8M734.6 954.3h23.4M804.8 954.3h70.2M950.4 954.3h44.2M1077.8 954.3h327.6M121.0 956.9h608.4M732.0 956.9h2.6M737.2 956.9h26.0M799.6 956.9h85.8M888.0 956.9h39.0M945.2 956.9h52.0M1080.4 956.9h325.0M121.0 959.5h122.2M248.4 959.5h517.4M776.2 959.5h10.4M797.0 959.5h200.2M1080.4 959.5h325.0M121.0 962.1h65.0M191.2 962.1h52.0M245.8 962.1h522.6M773.6 962.1h13.0M794.4 962.1h202.8M1083.0 962.1h322.4M121.0 964.7h590.2M719.0 964.7h49.4M771.0 964.7h15.6M791.8 964.7h205.4M1083.0 964.7h322.4M121.0 967.3h592.8M719.0 967.3h20.8M742.4 967.3h41.6M789.2 967.3h208.0M1085.6 967.3h319.8M121.0 969.9h613.6M742.4 969.9h41.6M786.6 969.9h210.6M1085.6 969.9h319.8M121.0 972.5h613.6M737.2 972.5h44.2M784.0 972.5h215.8M1088.2 972.5h317.2M121.0 975.1h657.8M781.4 975.1h221.0M1088.2 975.1h317.2M121.0 977.7h886.6M1088.2 977.7h317.2M121.0 980.3h894.4M1085.6 980.3h319.8M121.0 982.9h902.2M1085.6 982.9h75.4M1166.2 982.9h239.2M121.0 985.5h912.6M1083.0 985.5h322.4M121.0 988.1h917.8M1080.4 988.1h325.0M121.0 990.7h917.8M1080.4 990.7h325.0M121.0 993.3h920.4M1077.8 993.3h304.2M1384.6 993.3h20.8M121.0 995.9h566.8M693.0 995.9h49.4M745.0 995.9h296.4M1077.8 995.9h304.2M1384.6 995.9h20.8M121.0 998.5h561.6M685.2 998.5h356.2M1075.2 998.5h306.8M1384.6 998.5h20.8M121.0 1001.1h920.4M1072.6 1001.1h332.8M123.6 1003.7h603.2M729.4 1003.7h312.0M1070.0 1003.7h335.4M121.0 1006.3h626.6M752.8 1006.3h291.2M1064.8 1006.3h340.6M121.0 1008.9h132.6M258.8 1008.9h488.8M752.8 1008.9h291.2M1059.6 1008.9h345.8M121.0 1011.5h132.6M256.2 1011.5h790.4M1049.2 1011.5h356.2M121.0 1014.1h132.6M256.2 1014.1h330.2M589.0 1014.1h816.4M121.0 1016.7h1284.4M121.0 1019.3h624.0M750.2 1019.3h655.2M121.0 1021.9h210.6M336.8 1021.9h1068.6M121.0 1024.5h213.2M339.4 1024.5h1066.0M121.0 1027.1h1284.4M121.0 1029.7h1284.4M121.0 1032.3h1284.4M121.0 1034.9h1284.4M121.0 1037.5h618.8M745.0 1037.5h660.4M121.0 1040.1h345.8M469.4 1040.1h936.0M121.0 1042.7h345.8M472.0 1042.7h239.2M713.8 1042.7h7.8M724.2 1042.7h353.6M1085.6 1042.7h319.8"/>
<path stroke="#1e90ff" d="M586.4 148.3h2.6M589.0 150.9h2.6M591.6 153.5h2.6M591.6 156.1h2.6M594.2 158.7h2.6M596.8 161.3h2.6M599.4 163.9h2.6M602.0 166.5h2.6M604.6 169.1h2.6M607.2 171.7h2.6M609.8 174.3h5.2M615.0 176.9h5.2M620.2 179.5h2.6M620.2 182.1h2.6M622.8 184.7h2.6M622.8 187.3h2.6M622.8 189.9h2.6M622.8 192.5h2.6M620.2 200.3h2.6M617.6 202.9h2.6M617.6 205.5h2.6M617.6 208.1h2.6M615.0 210.7h2.6M617.6 213.3h2.6M617.6 215.9h2.6M617.6 218.5h2.6M617.6 221.1h2.6M617.6 223.7h2.6M620.2 226.3h2.6M620.2 228.9h2.6M620.2 231.5h2.6M622.8 234.1h2.6M622.8 236.7h2.6M622.8 239.3h2.6M625.4 241.9h2.6M625.4 244.5h2.6M625.4 247.1h2.6M625.4 249.7h2.6M625.4 252.3h2.6M625.4 254.9h2.6M625.4 257.5h2.6M625.4 260.1h2.6M625.4 262.7h2.6M625.4 265.3h2.6M625.4 267.9h2.6M625.4 270.5h2.6M625.4 273.1h2.6M625.4 275.7h2.6M628.0 278.3h2.6M628.0 280.9h2.6M521.4 283.5h2.6M630.6 283.5h2.6M651.4 283.5h7.8M630.6 286.1h20.8M659.2 286.1h2.6M661.8 288.7h2.6M204.2 291.3h2.6M251.0 291.3h2.6M521.4 291.3h2.6M664.4 291.3h5.2M201.6 293.9h2.6M206.8 293.9h2.6M669.6 293.9h2.6M206.8 296.5h2.6M240.6 296.5h2.6M672.2 296.5h5.2M201.6 299.1h2.6M677.4 299.1h2.6M238.0 301.7h2.6M680.0 301.7h2.6M682.6 304.3h5.2M698.2 304.3h5.2M313.4 306.9h2.6M687.8 306.9h13.0M703.4 306.9h31.2M734.6 309.5h5.2M739.8 312.1h2.6M739.8 314.7h2.6M739.8 317.3h2.6M739.8 319.9h2.6M321.2 322.5h2.6M742.4 322.5h2.6M383.6 325.1h2.6M742.4 325.1h2.6M742.4 327.7h2.6M742.4 330.3h2.6M386.2 332.9h2.6M396.6 332.9h2.6M742.4 332.9h2.6M745.0 335.5h2.6M394.0 338.1h2.6M401.8 338.1h2.6M745.0 338.1h5.2M789.2 338.1h13.0M396.6 340.7h2.6M404.4 340.7h2.6M750.2 340.7h2.6M784.0 340.7h5.2M802.2 340.7h2.6M399.2 343.3h2.6M752.8 343.3h2.6M781.4 343.3h2.6M804.8 343.3h5.2M347.2 345.9h2.6M755.4 345.9h5.2M778.8 345.9h2.6M810.0 345.9h2.6M362.8 348.5h2.6M401.8 348.5h2.6M578.6 348.5h2.6M760.6 348.5h2.6M768.4 348.5h10.4M812.6 348.5h2.6M404.4 351.1h2.6M591.6 351.1h2.6M763.2 351.1h5.2M815.2 351.1h2.6M219.8 353.7h5.2M817.8 353.7h2.6M817.8 356.3h2.6M820.4 358.9h2.6M347.2 361.5h2.6M352.4 361.5h2.6M820.4 361.5h2.6M823.0 364.1h2.6M825.6 366.7h2.6M825.6 369.3h2.6M828.2 371.9h2.6M830.8 374.5h2.6M830.8 377.1h2.6M232.8 379.7h2.6M833.4 379.7h2.6M425.2 382.3h5.2M836.0 382.3h2.6M225.0 384.9h2.6M425.2 384.9h5.2M838.6 384.9h2.6M427.8 387.5h2.6M841.2 387.5h2.6M407.0 390.1h2.6M422.6 390.1h2.6M841.2 390.1h2.6M425.2 392.7h2.6M466.8 392.7h2.6M843.8 392.7h2.6M422.6 395.3h2.6M846.4 395.3h2.6M849.0 397.9h2.6M290.0 400.5h2.6M851.6 400.5h2.6M284.8 403.1h5.2M854.2 403.1h5.2M859.4 405.7h2.6M862.0 408.3h5.2M162.6 410.9h2.6M867.2 410.9h2.6M869.8 413.5h2.6M872.4 416.1h5.2M877.6 418.7h5.2M521.4 421.3h2.6M882.8 421.3h2.6M339.4 423.9h2.6M518.8 423.9h5.2M885.4 423.9h5.2M516.2 426.5h10.4M890.6 426.5h2.6M435.6 429.1h7.8M521.4 429.1h5.2M529.2 429.1h2.6M893.2 429.1h5.2M524.0 431.7h10.4M895.8 431.7h7.8M531.8 434.3h2.6M901.0 434.3h5.2M531.8 436.9h5.2M903.6 436.9h7.8M261.4 439.5h5.2M531.8 439.5h2.6M911.4 439.5h7.8M258.8 442.1h5.2M266.6 442.1h2.6M274.4 442.1h2.6M531.8 442.1h2.6M537.0 442.1h2.6M919.2 442.1h2.6M529.2 444.7h2.6M537.0 444.7h2.6M914.0 444.7h5.2M529.2 447.3h2.6M911.4 447.3h2.6M524.0 449.9h7.8M906.2 449.9h5.2M903.6 452.5h2.6M253.6 455.1h2.6M898.4 455.1h5.2M893.2 457.7h5.2M885.4 460.3h7.8M464.2 462.9h5.2M877.6 462.9h7.8M464.2 465.5h2.6M872.4 465.5h5.2M869.8 468.1h2.6M867.2 470.7h2.6M862.0 473.3h5.2M859.4 475.9h2.6M856.8 478.5h2.6M854.2 481.1h2.6M851.6 483.7h2.6M849.0 486.3h2.6M807.4 491.5h7.8M841.2 491.5h2.6M305.6 494.1h2.6M802.2 494.1h7.8M812.6 494.1h7.8M836.0 494.1h5.2M799.6 496.7h5.2M817.8 496.7h18.2M797.0 499.3h5.2M794.4 501.9h2.6M310.8 504.5h2.6M794.4 504.5h2.6M794.4 507.1h2.6M1392.4 507.1h13.0M219.8 509.7h5.2M791.8 509.7h2.6M1382.0 509.7h10.4M791.8 512.3h2.6M1379.4 512.3h2.6M316.0 514.9h2.6M791.8 514.9h2.6M1374.2 514.9h5.2M318.6 517.5h2.6M791.8 517.5h2.6M1369.0 517.5h5.2M791.8 520.1h2.6M1366.4 520.1h2.6M791.8 522.7h2.6M1366.4 522.7h2.6M791.8 525.3h2.6M1363.8 525.3h2.6M791.8 527.9h2.6M1361.2 527.9h2.6M791.8 530.5h2.6M1361.2 530.5h2.6M791.8 533.1h2.6M1358.6 533.1h2.6M791.8 535.7h2.6M1358.6 535.7h2.6M791.8 538.3h2.6M1358.6 538.3h2.6M794.4 540.9h2.6M1358.6 540.9h2.6M794.4 543.5h2.6M1358.6 543.5h2.6M274.4 546.1h2.6M794.4 546.1h2.6M1358.6 546.1h2.6M794.4 548.7h2.6M1358.6 548.7h2.6M794.4 551.3h2.6M1358.6 551.3h2.6M797.0 553.9h2.6M1358.6 553.9h2.6M797.0 556.5h2.6M1358.6 556.5h2.6M794.4 559.1h2.6M1361.2 559.1h2.6M794.4 561.7h2.6M1361.2 561.7h2.6M794.4 564.3h5.2M1361.2 564.3h2.6M797.0 566.9h2.6M1361.2 566.9h2.6M797.0 569.5h5.2M1363.8 569.5h2.6M799.6 572.1h2.6M1363.8 572.1h2.6M222.4 574.7h2.6M799.6 574.7h2.6M1363.8 574.7h2.6M248.4 577.3h2.6M802.2 577.3h2.6M1366.4 577.3h2.6M222.4 579.9h2.6M251.0 579.9h2.6M256.2 579.9h2.6M802.2 579.9h2.6M1369.0 579.9h2.6M191.2 582.5h2.6M222.4 582.5h5.2M804.8 582.5h2.6M1369.0 582.5h2.6M188.6 585.1h2.6M193.8 585.1h5.2M225.0 585.1h2.6M269.2 585.1h7.8M804.8 585.1h2.6M1369.0 585.1h5.2M180.8 587.7h2.6M209.4 587.7h2.6M264.0 587.7h2.6M274.4 587.7h2.6M804.8 587.7h5.2M1374.2 587.7h2.6M269.2 590.3h5.2M807.4 590.3h2.6M1376.8 590.3h2.6M222.4 592.9h2.6M271.8 592.9h2.6M284.8 592.9h2.6M290.0 592.9h2.6M807.4 592.9h2.6M1379.4 592.9h2.6M810.0 595.5h2.6M1382.0 595.5h2.6M287.4 598.1h2.6M303.0 598.1h2.6M810.0 598.1h2.6M1384.6 598.1h2.6M303.0 600.7h2.6M812.6 600.7h2.6M1384.6 600.7h7.8M165.2 603.3h2.6M303.0 603.3h5.2M316.0 603.3h2.6M812.6 603.3h2.6M1389.8 603.3h7.8M162.6 605.9h2.6M303.0 605.9h7.8M316.0 605.9h2.6M815.2 605.9h2.6M1395.0 605.9h10.4M162.6 608.5h2.6M313.4 608.5h2.6M321.2 608.5h2.6M817.8 608.5h2.6M323.8 611.1h2.6M329.0 611.1h2.6M817.8 611.1h2.6M136.6 613.7h7.8M180.8 613.7h5.2M318.6 613.7h2.6M331.6 613.7h2.6M820.4 613.7h2.6M131.4 616.3h5.2M178.2 616.3h2.6M186.0 616.3h5.2M326.4 616.3h2.6M331.6 616.3h2.6M817.8 616.3h2.6M173.0 618.9h2.6M180.8 618.9h2.6M812.6 618.9h5.2M126.2 621.5h2.6M154.8 621.5h2.6M170.4 621.5h5.2M178.2 621.5h2.6M804.8 621.5h10.4M157.4 624.1h2.6M170.4 624.1h7.8M180.8 624.1h2.6M334.2 624.1h5.2M344.6 624.1h5.2M802.2 624.1h2.6M123.6 626.7h2.6M173.0 626.7h2.6M799.6 626.7h5.2M170.4 629.3h2.6M347.2 629.3h2.6M799.6 629.3h2.6M160.0 631.9h5.2M347.2 631.9h2.6M357.6 631.9h5.2M121.0 634.5h2.6M160.0 634.5h2.6M349.8 634.5h7.8M797.0 634.5h2.6M121.0 637.1h2.6M160.0 637.1h2.6M797.0 637.1h2.6M170.4 639.7h2.6M797.0 639.7h2.6M157.4 642.3h2.6M165.2 642.3h2.6M370.6 642.3h5.2M797.0 642.3h2.6M323.8 644.9h2.6M329.0 644.9h2.6M802.2 644.9h2.6M318.6 647.5h2.6M804.8 647.5h10.4M162.6 650.1h2.6M318.6 650.1h2.6M815.2 650.1h2.6M154.8 652.7h5.2M383.6 652.7h2.6M815.2 652.7h2.6M152.2 655.3h5.2M160.0 655.3h2.6M386.2 655.3h2.6M815.2 655.3h2.6M1340.4 655.3h7.8M388.8 657.9h2.6M394.0 657.9h2.6M399.2 657.9h2.6M815.2 657.9h2.6M1335.2 657.9h5.2M1348.2 657.9h5.2M815.2 660.5h2.6M1332.6 660.5h2.6M1353.4 660.5h2.6M152.2 663.1h2.6M157.4 663.1h2.6M162.6 663.1h2.6M414.8 663.1h2.6M817.8 663.1h2.6M1327.4 663.1h5.2M1356.0 663.1h2.6M1402.8 663.1h2.6M152.2 665.7h2.6M160.0 665.7h2.6M817.8 665.7h2.6M843.8 665.7h26.0M1327.4 665.7h2.6M1358.6 665.7h2.6M1400.2 665.7h2.6M162.6 668.3h2.6M420.0 668.3h2.6M820.4 668.3h5.2M841.2 668.3h2.6M869.8 668.3h5.2M1324.8 668.3h2.6M1361.2 668.3h2.6M1397.6 668.3h2.6M162.6 670.9h2.6M334.2 670.9h2.6M425.2 670.9h5.2M825.6 670.9h2.6M838.6 670.9h2.6M875.0 670.9h2.6M1322.2 670.9h5.2M1363.8 670.9h2.6M1395.0 670.9h2.6M157.4 673.5h5.2M427.8 673.5h5.2M435.6 673.5h2.6M828.2 673.5h10.4M877.6 673.5h5.2M1007.6 673.5h2.6M1363.8 673.5h2.6M1392.4 673.5h2.6M882.8 676.1h5.2M999.8 676.1h7.8M1010.2 676.1h2.6M1392.4 676.1h2.6M888.0 678.7h5.2M989.4 678.7h10.4M1010.2 678.7h2.6M1366.4 678.7h2.6M1389.8 678.7h2.6M906.2 681.3h7.8M919.2 681.3h2.6M927.0 681.3h7.8M976.4 681.3h7.8M1010.2 681.3h2.6M1369.0 681.3h2.6M1387.2 681.3h2.6M339.4 683.9h2.6M934.8 683.9h5.2M973.8 683.9h2.6M1012.8 683.9h2.6M1371.6 683.9h2.6M1384.6 683.9h2.6M940.0 686.5h5.2M968.6 686.5h5.2M1012.8 686.5h2.6M1374.2 686.5h2.6M1382.0 686.5h2.6M448.6 689.1h2.6M945.2 689.1h2.6M960.8 689.1h2.6M1012.8 689.1h2.6M1376.8 689.1h5.2M448.6 691.7h2.6M453.8 691.7h2.6M947.8 691.7h13.0M1015.4 691.7h2.6M323.8 694.3h2.6M344.6 694.3h2.6M451.2 694.3h2.6M456.4 694.3h2.6M1015.4 694.3h2.6M1072.6 694.3h2.6M451.2 696.9h2.6M456.4 696.9h2.6M1018.0 696.9h10.4M1067.4 696.9h5.2M1075.2 696.9h7.8M323.8 699.5h2.6M344.6 699.5h2.6M456.4 699.5h2.6M1028.4 699.5h2.6M1046.6 699.5h20.8M1083.0 699.5h2.6M331.6 702.1h10.4M456.4 702.1h2.6M1031.0 702.1h2.6M1041.4 702.1h5.2M1083.0 702.1h2.6M1033.6 704.7h7.8M1083.0 704.7h2.6M1270.2 704.7h2.6M1080.4 707.3h2.6M1267.6 707.3h5.2M1080.4 709.9h2.6M1083.0 712.5h2.6M1085.6 715.1h5.2M1137.6 715.1h10.4M459.0 717.7h2.6M464.2 717.7h2.6M1090.8 717.7h5.2M1135.0 717.7h2.6M1148.0 717.7h5.2M1187.0 717.7h10.4M1382.0 717.7h2.6M459.0 720.3h2.6M464.2 720.3h2.6M1096.0 720.3h2.6M1132.4 720.3h2.6M1153.2 720.3h2.6M1179.2 720.3h7.8M1197.4 720.3h5.2M459.0 722.9h5.2M1098.6 722.9h2.6M1129.8 722.9h2.6M1155.8 722.9h2.6M1171.4 722.9h7.8M1202.6 722.9h5.2M459.0 725.5h2.6M1101.2 725.5h28.6M1158.4 725.5h13.0M1207.8 725.5h2.6M1275.4 725.5h2.6M456.4 728.1h2.6M1210.4 728.1h2.6M1272.8 728.1h2.6M1213.0 730.7h5.2M1270.2 730.7h5.2M1218.2 733.3h5.2M1265.0 733.3h5.2M1223.4 735.9h5.2M1262.4 735.9h2.6M1228.6 738.5h2.6M1254.6 738.5h7.8M461.6 741.1h2.6M1231.2 741.1h5.2M1252.0 741.1h5.2M461.6 743.7h2.6M1236.4 743.7h2.6M1252.0 743.7h2.6M1319.6 743.7h5.2M464.2 746.3h2.6M1239.0 746.3h5.2M1249.4 746.3h2.6M461.6 748.9h2.6M466.8 748.9h2.6M1241.6 748.9h2.6M1246.8 748.9h2.6M466.8 751.5h2.6M1241.6 751.5h5.2M1314.4 754.1h2.6M479.8 764.5h7.8M482.4 767.1h2.6M487.6 767.1h2.6M487.6 769.7h2.6M485.0 772.3h2.6M485.0 774.9h2.6M596.8 806.1h10.4M625.4 806.1h2.6M630.6 806.1h7.8M581.2 808.7h2.6M594.2 808.7h2.6M602.0 808.7h5.2M612.4 808.7h2.6M617.6 808.7h7.8M628.0 808.7h2.6M635.8 808.7h2.6M648.8 808.7h5.2M578.6 811.3h5.2M594.2 811.3h2.6M599.4 811.3h2.6M612.4 811.3h2.6M620.2 811.3h2.6M625.4 811.3h5.2M641.0 811.3h2.6M651.4 811.3h5.2M581.2 813.9h2.6M648.8 813.9h2.6M654.0 816.5h2.6M674.8 816.5h5.2M661.8 819.1h7.8M674.8 819.1h5.2M531.8 821.7h2.6M682.6 821.7h2.6M539.6 824.3h2.6M685.2 826.9h2.6M706.0 834.7h2.6M706.0 837.3h2.6M739.8 837.3h2.6M773.6 837.3h2.6M706.0 839.9h5.2M737.2 839.9h2.6M708.6 842.5h2.6M737.2 842.5h2.6M711.2 845.1h2.6M768.4 845.1h2.6M773.6 845.1h2.6M778.8 847.7h2.6M776.2 858.1h10.4M734.6 863.3h2.6M781.4 863.3h2.6M802.2 865.9h2.6M1213.0 865.9h2.6M734.6 868.5h5.2M734.6 871.1h2.6M1187.0 871.1h2.6M1210.4 871.1h2.6M732.0 873.7h2.6M1205.2 873.7h2.6M1210.4 873.7h2.6M732.0 876.3h2.6M1148.0 876.3h2.6M739.8 878.9h2.6M1075.2 878.9h2.6M1093.4 878.9h5.2M1155.8 878.9h7.8M1187.0 878.9h2.6M1109.0 881.5h5.2M1163.6 881.5h7.8M1179.2 881.5h5.2M1051.8 884.1h2.6M1103.8 884.1h2.6M1109.0 884.1h2.6M1122.0 884.1h2.6M1135.0 884.1h2.6M1161.0 884.1h2.6M1319.6 884.1h2.6M1324.8 884.1h2.6M1335.2 884.1h2.6M1343.0 884.1h2.6M1051.8 886.7h2.6M1140.2 886.7h5.2M1330.0 886.7h2.6M1340.4 886.7h2.6M1140.2 889.3h5.2M1345.6 889.3h5.2M739.8 891.9h2.6M1046.6 891.9h2.6M1348.2 891.9h2.6M1361.2 891.9h2.6M739.8 894.5h5.2M1049.2 894.5h2.6M1350.8 894.5h2.6M1356.0 894.5h2.6M1363.8 894.5h5.2M739.8 897.1h5.2M1002.4 897.1h2.6M1049.2 897.1h2.6M1350.8 897.1h2.6M1363.8 897.1h5.2M989.4 899.7h7.8M1010.2 899.7h5.2M1049.2 899.7h2.6M1054.4 899.7h2.6M1369.0 899.7h2.6M737.2 902.3h2.6M984.2 902.3h2.6M1012.8 902.3h2.6M1018.0 902.3h2.6M1051.8 902.3h2.6M1384.6 902.3h2.6M742.4 904.9h2.6M1025.8 904.9h2.6M1376.8 904.9h2.6M1400.2 904.9h5.2M1023.2 907.5h2.6M1384.6 907.5h5.2M971.2 910.1h2.6M1020.6 910.1h5.2M1051.8 910.1h2.6M1384.6 910.1h5.2M732.0 912.7h2.6M737.2 912.7h5.2M971.2 915.3h2.6M1028.4 915.3h2.6M1033.6 915.3h2.6M1062.2 915.3h2.6M734.6 917.9h2.6M966.0 917.9h2.6M1051.8 917.9h2.6M1057.0 917.9h2.6M734.6 920.5h2.6M966.0 920.5h2.6M1051.8 920.5h5.2M732.0 923.1h7.8M1031.0 923.1h2.6M1044.0 923.1h5.2M963.4 925.7h5.2M1046.6 925.7h2.6M963.4 928.3h5.2M1033.6 928.3h2.6M1041.4 928.3h5.2M1049.2 928.3h2.6M966.0 930.9h5.2M1041.4 930.9h2.6M726.8 933.5h2.6M732.0 933.5h2.6M737.2 933.5h2.6M960.8 933.5h2.6M1046.6 933.5h2.6M747.6 936.1h2.6M1033.6 936.1h2.6M859.4 938.7h2.6M958.2 938.7h2.6M1046.6 938.7h2.6M750.2 941.3h2.6M843.8 941.3h2.6M955.6 941.3h2.6M747.6 943.9h2.6M810.0 943.9h2.6M823.0 943.9h2.6M830.8 943.9h5.2M838.6 943.9h2.6M903.6 943.9h5.2M950.4 943.9h5.2M1064.8 943.9h5.2M752.8 946.5h2.6M758.0 946.5h2.6M763.2 946.5h2.6M812.6 946.5h2.6M867.2 946.5h2.6M882.8 946.5h5.2M916.6 946.5h2.6M947.8 946.5h2.6M1067.4 946.5h2.6M869.8 949.1h5.2M880.2 949.1h2.6M885.4 949.1h2.6M921.8 949.1h2.6M929.6 949.1h5.2M1010.2 949.1h2.6M771.0 951.7h10.4M784.0 951.7h5.2M906.2 951.7h2.6M924.4 951.7h2.6M1002.4 951.7h2.6M1015.4 951.7h10.4M765.8 954.3h2.6M771.0 954.3h2.6M791.8 954.3h5.2M927.0 954.3h2.6M1015.4 954.3h2.6M1025.8 954.3h2.6M771.0 956.9h5.2M789.2 956.9h2.6M797.0 956.9h2.6M1002.4 962.1h2.6M1015.4 969.9h2.6M1031.0 975.1h2.6M1020.6 977.7h2.6M1033.6 977.7h2.6M1036.2 980.3h2.6M1070.0 993.3h2.6M1064.8 995.9h2.6M1057.0 1003.7h2.6M1051.8 1006.3h2.6"/>
<path stroke="#ff8c00" d="M620.2 161.3h10.4M622.8 163.9h10.4M625.4 166.5h5.2M622.8 171.7h2.6M630.6 171.7h2.6M625.4 174.3h7.8M633.2 176.9h2.6M633.2 179.5h2.6M633.2 182.1h2.6M633.2 184.7h2.6M633.2 187.3h5.2M635.8 189.9h2.6M646.2 192.5h2.6M633.2 195.1h2.6M633.2 197.7h2.6M641.0 202.9h2.6M638.4 205.5h2.6M635.8 208.1h5.2M633.2 210.7h7.8M643.6 210.7h2.6M789.2 210.7h2.6M635.8 213.3h2.6M789.2 213.3h2.6M641.0 215.9h5.2M786.6 215.9h5.2M638.4 218.5h2.6M643.6 218.5h2.6M786.6 218.5h5.2M641.0 221.1h2.6M648.8 221.1h2.6M784.0 221.1h2.6M641.0 223.7h2.6M641.0 226.3h5.2M648.8 226.3h5.2M791.8 226.3h5.2M638.4 228.9h2.6M789.2 228.9h2.6M794.4 228.9h5.2M638.4 231.5h5.2M659.2 231.5h2.6M789.2 231.5h5.2M797.0 231.5h7.8M635.8 234.1h2.6M641.0 234.1h2.6M656.6 234.1h7.8M786.6 234.1h5.2M802.2 234.1h5.2M817.8 234.1h13.0M635.8 236.7h2.6M656.6 236.7h7.8M786.6 236.7h5.2M804.8 236.7h2.6M815.2 236.7h7.8M661.8 239.3h2.6M789.2 239.3h2.6M807.4 239.3h2.6M633.2 241.9h5.2M641.0 241.9h5.2M648.8 241.9h2.6M661.8 241.9h2.6M807.4 241.9h2.6M643.6 244.5h2.6M648.8 244.5h5.2M656.6 244.5h2.6M802.2 244.5h5.2M638.4 247.1h2.6M651.4 247.1h5.2M667.0 247.1h5.2M802.2 247.1h7.8M646.2 249.7h10.4M661.8 249.7h2.6M667.0 249.7h2.6M802.2 249.7h5.2M643.6 252.3h7.8M656.6 252.3h7.8M641.0 254.9h5.2M648.8 254.9h2.6M661.8 254.9h7.8M646.2 257.5h5.2M745.0 260.1h2.6M820.4 260.1h2.6M674.8 262.7h5.2M742.4 262.7h5.2M786.6 262.7h2.6M791.8 262.7h10.4M674.8 265.3h7.8M690.4 265.3h2.6M742.4 265.3h7.8M758.0 265.3h2.6M778.8 265.3h10.4M677.4 267.9h7.8M690.4 267.9h5.2M698.2 267.9h2.6M745.0 267.9h5.2M752.8 267.9h7.8M763.2 267.9h7.8M778.8 267.9h2.6M799.6 267.9h2.6M685.2 270.5h2.6M745.0 270.5h2.6M755.4 270.5h2.6M776.2 270.5h2.6M802.2 270.5h2.6M682.6 273.1h2.6M687.8 273.1h2.6M708.6 273.1h5.2M739.8 273.1h2.6M747.6 273.1h5.2M755.4 273.1h2.6M771.0 273.1h2.6M776.2 273.1h2.6M804.8 273.1h5.2M635.8 275.7h2.6M682.6 275.7h7.8M703.4 275.7h13.0M742.4 275.7h2.6M758.0 275.7h2.6M771.0 275.7h5.2M804.8 275.7h7.8M815.2 275.7h2.6M820.4 275.7h5.2M641.0 278.3h2.6M685.2 278.3h7.8M703.4 278.3h2.6M716.4 278.3h2.6M721.6 278.3h5.2M742.4 278.3h5.2M752.8 278.3h2.6M807.4 278.3h2.6M823.0 278.3h2.6M703.4 280.9h2.6M721.6 280.9h5.2M745.0 280.9h2.6M773.6 280.9h2.6M778.8 280.9h2.6M825.6 280.9h7.8M703.4 283.5h2.6M726.8 283.5h5.2M734.6 283.5h2.6M747.6 283.5h5.2M773.6 283.5h2.6M778.8 283.5h2.6M789.2 283.5h2.6M794.4 283.5h2.6M804.8 283.5h5.2M825.6 283.5h5.2M703.4 286.1h5.2M737.2 286.1h2.6M747.6 286.1h2.6M755.4 286.1h7.8M773.6 286.1h2.6M781.4 286.1h5.2M794.4 286.1h5.2M810.0 286.1h2.6M825.6 286.1h2.6M830.8 286.1h2.6M716.4 288.7h7.8M739.8 288.7h2.6M747.6 288.7h2.6M771.0 288.7h2.6M778.8 288.7h5.2M797.0 288.7h2.6M742.4 291.3h2.6M760.6 291.3h2.6M768.4 291.3h2.6M778.8 291.3h2.6M786.6 291.3h2.6M817.8 291.3h5.2M833.4 291.3h2.6M758.0 293.9h2.6M786.6 293.9h2.6M815.2 293.9h5.2M768.4 296.5h2.6M784.0 296.5h2.6M817.8 296.5h2.6M836.0 296.5h2.6M846.4 296.5h2.6M768.4 299.1h2.6M784.0 299.1h2.6M815.2 299.1h2.6M833.4 299.1h2.6M838.6 299.1h2.6M768.4 301.7h2.6M784.0 301.7h2.6M810.0 301.7h2.6M833.4 301.7h2.6M838.6 301.7h2.6M760.6 304.3h2.6M773.6 304.3h2.6M781.4 304.3h5.2M789.2 304.3h2.6M838.6 304.3h2.6M846.4 304.3h2.6M851.6 304.3h2.6M1400.2 304.3h2.6M836.0 306.9h2.6M843.8 306.9h2.6M750.2 309.5h2.6M755.4 309.5h7.8M830.8 309.5h2.6M836.0 309.5h2.6M854.2 309.5h2.6M859.4 309.5h2.6M864.6 309.5h2.6M747.6 312.1h2.6M828.2 312.1h7.8M854.2 312.1h2.6M859.4 312.1h7.8M752.8 314.7h2.6M758.0 314.7h2.6M823.0 314.7h10.4M854.2 314.7h10.4M825.6 317.3h2.6M854.2 317.3h2.6M859.4 317.3h2.6M823.0 319.9h2.6M849.0 319.9h2.6M854.2 319.9h7.8M1389.8 319.9h2.6M810.0 322.5h2.6M823.0 322.5h2.6M828.2 322.5h2.6M833.4 322.5h2.6M843.8 322.5h2.6M849.0 322.5h2.6M846.4 325.1h5.2M846.4 327.7h2.6M843.8 330.3h2.6M854.2 332.9h2.6M843.8 335.5h2.6M843.8 338.1h2.6M864.6 338.1h2.6M849.0 340.7h2.6M862.0 340.7h5.2M851.6 343.3h10.4M355.0 345.9h2.6M856.8 345.9h2.6M357.6 348.5h2.6M862.0 348.5h5.2M830.8 351.1h2.6M862.0 351.1h7.8M349.8 353.7h2.6M830.8 353.7h7.8M862.0 353.7h2.6M1395.0 353.7h5.2M352.4 356.3h2.6M830.8 356.3h10.4M862.0 356.3h2.6M872.4 356.3h2.6M833.4 358.9h2.6M841.2 358.9h5.2M859.4 358.9h5.2M869.8 358.9h2.6M843.8 361.5h7.8M859.4 361.5h2.6M864.6 361.5h7.8M843.8 364.1h5.2M851.6 364.1h2.6M856.8 364.1h2.6M862.0 364.1h5.2M872.4 364.1h2.6M841.2 366.7h5.2M872.4 366.7h7.8M836.0 369.3h10.4M849.0 369.3h5.2M880.2 369.3h5.2M838.6 371.9h2.6M849.0 371.9h5.2M859.4 371.9h2.6M875.0 371.9h5.2M849.0 374.5h2.6M854.2 374.5h5.2M864.6 374.5h2.6M875.0 374.5h2.6M854.2 377.1h5.2M867.2 377.1h7.8M893.2 377.1h2.6M849.0 379.7h2.6M854.2 379.7h5.2M867.2 379.7h5.2M849.0 382.3h10.4M849.0 384.9h7.8M890.6 384.9h2.6M895.8 384.9h2.6M849.0 387.5h5.2M893.2 387.5h2.6M898.4 387.5h2.6M875.0 390.1h2.6M895.8 390.1h5.2M872.4 392.7h2.6M877.6 392.7h7.8M895.8 392.7h2.6M875.0 395.3h2.6M880.2 395.3h5.2M895.8 395.3h2.6M901.0 395.3h2.6M877.6 397.9h2.6M882.8 397.9h5.2M880.2 400.5h13.0M906.2 400.5h2.6M877.6 403.1h13.0M908.8 403.1h2.6M882.8 405.7h2.6M888.0 405.7h2.6M893.2 405.7h2.6M908.8 405.7h7.8M885.4 408.3h2.6M890.6 408.3h2.6M895.8 408.3h2.6M911.4 408.3h2.6M919.2 408.3h5.2M882.8 410.9h5.2M890.6 410.9h2.6M908.8 410.9h2.6M921.8 410.9h5.2M924.4 413.5h5.2M927.0 416.1h2.6M893.2 418.7h2.6M927.0 418.7h2.6M895.8 421.3h2.6M906.2 421.3h5.2M924.4 421.3h5.2M903.6 423.9h2.6M908.8 423.9h2.6M919.2 423.9h10.4M908.8 426.5h2.6M921.8 426.5h5.2M914.0 429.1h2.6M929.6 434.3h2.6M914.0 455.1h2.6M911.4 457.7h5.2M911.4 460.3h5.2M890.6 468.1h2.6M890.6 470.7h5.2M888.0 473.3h5.2M875.0 475.9h2.6M885.4 475.9h7.8M875.0 478.5h2.6M882.8 478.5h2.6M888.0 478.5h2.6M875.0 481.1h7.8M875.0 483.7h7.8M859.4 486.3h5.2M880.2 486.3h2.6M872.4 488.9h10.4M890.6 488.9h2.6M862.0 491.5h2.6M872.4 491.5h5.2M888.0 491.5h5.2M849.0 494.1h2.6M862.0 494.1h2.6M869.8 494.1h2.6M875.0 494.1h10.4M846.4 496.7h2.6M875.0 496.7h7.8M843.8 499.3h2.6M864.6 499.3h2.6M869.8 499.3h5.2M882.8 499.3h2.6M1400.2 499.3h2.6M843.8 501.9h2.6M885.4 501.9h2.6M1382.0 501.9h2.6M843.8 507.1h7.8M833.4 509.7h10.4M849.0 509.7h2.6M859.4 509.7h2.6M869.8 509.7h2.6M820.4 512.3h2.6M820.4 514.9h2.6M817.8 517.5h2.6M815.2 520.1h5.2M1358.6 520.1h2.6M810.0 522.7h2.6M815.2 522.7h2.6M823.0 522.7h2.6M1356.0 522.7h2.6M812.6 525.3h2.6M817.8 525.3h2.6M810.0 527.9h7.8M1353.4 527.9h2.6M802.2 530.5h10.4M799.6 533.1h2.6M810.0 533.1h2.6M799.6 535.7h2.6M804.8 535.7h2.6M820.4 535.7h2.6M830.8 535.7h2.6M1350.8 535.7h2.6M802.2 538.3h5.2M820.4 538.3h2.6M828.2 538.3h2.6M1348.2 538.3h2.6M802.2 540.9h2.6M825.6 540.9h2.6M802.2 543.5h2.6M820.4 543.5h2.6M825.6 543.5h5.2M1348.2 543.5h2.6M817.8 546.1h2.6M1348.2 546.1h5.2M833.4 551.3h2.6M820.4 553.9h2.6M830.8 553.9h5.2M823.0 556.5h5.2M812.6 559.1h7.8M810.0 564.3h2.6M817.8 564.3h2.6M815.2 566.9h2.6M836.0 572.1h2.6M1353.4 574.7h2.6M838.6 585.1h2.6M1353.4 585.1h5.2M841.2 587.7h2.6M823.0 590.3h10.4M841.2 590.3h2.6M1291.0 590.3h2.6M1296.2 590.3h5.2M825.6 592.9h7.8M836.0 592.9h2.6M1363.8 592.9h5.2M825.6 595.5h2.6M1343.0 595.5h2.6M1348.2 595.5h2.6M825.6 598.1h2.6M1353.4 598.1h5.2M1369.0 598.1h5.2M825.6 600.7h2.6M836.0 600.7h2.6M1340.4 600.7h13.0M825.6 603.3h2.6M1327.4 603.3h2.6M1343.0 603.3h2.6M1356.0 603.3h2.6M825.6 605.9h2.6M1343.0 605.9h2.6M1350.8 605.9h7.8M828.2 608.5h2.6M1343.0 608.5h2.6M1348.2 608.5h2.6M1363.8 608.5h5.2M1374.2 608.5h5.2M1309.2 611.1h2.6M1343.0 611.1h2.6M1348.2 611.1h2.6M1356.0 611.1h5.2M1363.8 611.1h5.2M1371.6 611.1h2.6M1376.8 611.1h2.6M838.6 613.7h2.6M1319.6 613.7h2.6M1340.4 613.7h13.0M1356.0 613.7h5.2M1376.8 613.7h2.6M1389.8 613.7h2.6M1306.6 616.3h2.6M1337.8 616.3h5.2M1358.6 616.3h2.6M1379.4 616.3h2.6M1392.4 616.3h2.6M836.0 618.9h5.2M1306.6 618.9h2.6M1382.0 618.9h2.6M1402.8 618.9h2.6M838.6 621.5h2.6M1311.8 621.5h2.6M1335.2 621.5h2.6M1374.2 621.5h2.6M1384.6 621.5h2.6M1317.0 624.1h2.6M1335.2 624.1h2.6M1374.2 624.1h5.2M1384.6 624.1h2.6M136.6 626.7h5.2M1322.2 626.7h2.6M1358.6 626.7h5.2M1376.8 626.7h2.6M131.4 629.3h2.6M815.2 629.3h2.6M1335.2 629.3h2.6M1361.2 629.3h2.6M1366.4 629.3h5.2M1387.2 629.3h2.6M1395.0 629.3h5.2M131.4 631.9h2.6M152.2 631.9h2.6M810.0 631.9h2.6M1332.6 631.9h2.6M1358.6 631.9h2.6M1369.0 631.9h2.6M1374.2 631.9h5.2M1392.4 631.9h5.2M131.4 634.5h2.6M152.2 634.5h2.6M843.8 634.5h2.6M1309.2 634.5h5.2M1356.0 634.5h2.6M1369.0 634.5h5.2M841.2 637.1h5.2M1311.8 637.1h2.6M1366.4 637.1h2.6M836.0 639.7h5.2M1306.6 639.7h5.2M1356.0 639.7h2.6M1363.8 639.7h2.6M1376.8 639.7h2.6M1387.2 639.7h2.6M1392.4 639.7h5.2M833.4 642.3h5.2M1363.8 642.3h2.6M1371.6 642.3h2.6M1389.8 642.3h2.6M134.0 644.9h2.6M147.0 644.9h2.6M864.6 644.9h2.6M1363.8 644.9h5.2M1382.0 644.9h5.2M1389.8 644.9h5.2M836.0 647.5h2.6M849.0 647.5h2.6M854.2 647.5h2.6M862.0 647.5h15.6M1298.8 647.5h5.2M1330.0 647.5h2.6M1350.8 647.5h2.6M1363.8 647.5h2.6M1379.4 647.5h5.2M823.0 650.1h2.6M849.0 650.1h5.2M867.2 650.1h5.2M877.6 650.1h7.8M1327.4 650.1h2.6M1332.6 650.1h2.6M1350.8 650.1h2.6M1363.8 650.1h2.6M1369.0 650.1h5.2M1382.0 650.1h2.6M825.6 652.7h2.6M833.4 652.7h2.6M856.8 652.7h13.0M877.6 652.7h2.6M882.8 652.7h2.6M916.6 652.7h5.2M934.8 652.7h2.6M958.2 652.7h2.6M963.4 652.7h5.2M1324.8 652.7h5.2M1363.8 652.7h2.6M1371.6 652.7h5.2M1382.0 652.7h2.6M825.6 655.3h2.6M864.6 655.3h5.2M880.2 655.3h7.8M937.4 655.3h5.2M953.0 655.3h2.6M958.2 655.3h2.6M966.0 655.3h2.6M986.8 655.3h2.6M1322.2 655.3h5.2M1363.8 655.3h2.6M1369.0 655.3h5.2M825.6 657.9h2.6M830.8 657.9h5.2M882.8 657.9h2.6M934.8 657.9h2.6M940.0 657.9h2.6M953.0 657.9h5.2M963.4 657.9h2.6M986.8 657.9h2.6M992.0 657.9h2.6M1319.6 657.9h5.2M1363.8 657.9h7.8M1374.2 657.9h2.6M830.8 660.5h2.6M916.6 660.5h5.2M937.4 660.5h7.8M953.0 660.5h2.6M958.2 660.5h7.8M981.6 660.5h7.8M1280.6 660.5h2.6M1319.6 660.5h2.6M1363.8 660.5h7.8M1395.0 660.5h2.6M830.8 663.1h2.6M875.0 663.1h2.6M911.4 663.1h10.4M937.4 663.1h7.8M947.8 663.1h7.8M981.6 663.1h10.4M1278.0 663.1h2.6M1311.8 663.1h2.6M1366.4 663.1h2.6M1371.6 663.1h2.6M882.8 665.7h7.8M911.4 665.7h7.8M940.0 665.7h15.6M966.0 665.7h2.6M984.2 665.7h10.4M1283.2 665.7h5.2M1293.6 665.7h2.6M1374.2 665.7h2.6M893.2 668.3h2.6M911.4 668.3h2.6M932.2 668.3h18.2M968.6 668.3h2.6M1002.4 668.3h2.6M1262.4 668.3h2.6M1285.8 668.3h13.0M1301.4 668.3h5.2M1371.6 668.3h2.6M893.2 670.9h7.8M934.8 670.9h2.6M950.4 670.9h2.6M973.8 670.9h2.6M1015.4 670.9h2.6M1285.8 670.9h15.6M1304.0 670.9h2.6M1387.2 670.9h2.6M916.6 673.5h2.6M927.0 673.5h2.6M932.2 673.5h2.6M950.4 673.5h2.6M963.4 673.5h10.4M1285.8 673.5h5.2M1301.4 673.5h5.2M1371.6 673.5h2.6M336.8 676.1h2.6M955.6 676.1h2.6M960.8 676.1h2.6M1262.4 676.1h2.6M1275.4 676.1h5.2M1283.2 676.1h2.6M1298.8 676.1h5.2M914.0 678.7h2.6M947.8 678.7h7.8M958.2 678.7h2.6M1072.6 678.7h2.6M1083.0 678.7h2.6M1296.2 678.7h5.2M1304.0 678.7h5.2M914.0 681.3h2.6M950.4 681.3h2.6M1020.6 681.3h2.6M1072.6 681.3h5.2M1080.4 681.3h7.8M1259.8 681.3h2.6M1293.6 681.3h5.2M950.4 683.9h2.6M1020.6 683.9h2.6M1025.8 683.9h2.6M1033.6 683.9h2.6M1057.0 683.9h2.6M1083.0 683.9h5.2M1090.8 683.9h2.6M1293.6 683.9h5.2M1020.6 686.5h13.0M1036.2 686.5h2.6M1049.2 686.5h5.2M1057.0 686.5h7.8M1083.0 686.5h2.6M1088.2 686.5h5.2M1096.0 686.5h2.6M1301.4 686.5h2.6M1023.2 689.1h13.0M1049.2 689.1h2.6M1083.0 689.1h2.6M1088.2 689.1h5.2M1098.6 689.1h2.6M1046.6 691.7h5.2M1090.8 691.7h2.6M1101.2 691.7h5.2M1262.4 691.7h7.8M1106.4 694.3h2.6M1262.4 694.3h10.4M1106.4 696.9h2.6M1267.6 696.9h7.8M1285.8 696.9h2.6M1096.0 699.5h2.6M1246.8 699.5h2.6M1285.8 699.5h5.2M1106.4 702.1h2.6M1187.0 702.1h2.6M1244.2 702.1h2.6M1259.8 702.1h2.6M1098.6 704.7h2.6M1106.4 704.7h2.6M1132.4 704.7h10.4M1187.0 704.7h7.8M1241.6 704.7h5.2M1090.8 707.3h7.8M1127.2 707.3h2.6M1137.6 707.3h2.6M1181.8 707.3h5.2M1220.8 707.3h2.6M1241.6 707.3h5.2M1093.4 709.9h5.2M1109.0 709.9h2.6M1119.4 709.9h2.6M1124.6 709.9h2.6M1132.4 709.9h2.6M1181.8 709.9h5.2M1192.2 709.9h2.6M1210.4 709.9h2.6M1236.4 709.9h15.6M1119.4 712.5h2.6M1127.2 712.5h5.2M1161.0 712.5h2.6M1174.0 712.5h2.6M1200.0 712.5h2.6M1205.2 712.5h2.6M1233.8 712.5h2.6M1239.0 712.5h2.6M1244.2 712.5h5.2M1127.2 715.1h2.6M1161.0 715.1h2.6M1233.8 715.1h13.0M1122.0 717.7h5.2M1163.6 717.7h5.2M1231.2 717.7h2.6M1239.0 717.7h2.6M1244.2 717.7h5.2M1244.2 720.3h7.8M1244.2 722.9h5.2M1252.0 722.9h2.6M1233.8 725.5h7.8M1246.8 725.5h2.6M1252.0 725.5h2.6M1233.8 728.1h5.2M435.6 730.7h2.6M1249.4 730.7h2.6M732.0 938.7h2.6M737.2 938.7h2.6M732.0 941.3h2.6M739.8 941.3h2.6"/>
<path stroke="#ff0000" d="M635.8 158.7h5.2M633.2 171.7h2.6M633.2 174.3h2.6M628.0 176.9h5.2M628.0 179.5h5.2M630.6 182.1h2.6M630.6 184.7h2.6M633.2 189.9h2.6M630.6 192.5h10.4M643.6 192.5h2.6M648.8 192.5h2.6M630.6 195.1h2.6M635.8 195.1h5.2M628.0 197.7h5.2M635.8 197.7h7.8M648.8 197.7h2.6M630.6 200.3h13.0M628.0 202.9h5.2M635.8 202.9h5.2M812.6 202.9h7.8M628.0 205.5h2.6M635.8 205.5h2.6M810.0 205.5h10.4M628.0 208.1h2.6M791.8 208.1h2.6M812.6 208.1h2.6M630.6 210.7h2.6M786.6 210.7h2.6M791.8 210.7h2.6M799.6 210.7h5.2M638.4 213.3h2.6M786.6 213.3h2.6M791.8 213.3h2.6M638.4 215.9h2.6M791.8 215.9h2.6M784.0 218.5h2.6M791.8 218.5h2.6M781.4 221.1h2.6M786.6 221.1h7.8M799.6 221.1h2.6M781.4 223.7h5.2M791.8 223.7h5.2M781.4 226.3h5.2M789.2 226.3h2.6M797.0 226.3h2.6M641.0 228.9h15.6M778.8 228.9h5.2M643.6 231.5h2.6M651.4 231.5h5.2M786.6 231.5h2.6M794.4 231.5h2.6M804.8 231.5h2.6M815.2 231.5h15.6M638.4 234.1h2.6M646.2 234.1h2.6M654.0 234.1h2.6M791.8 234.1h10.4M807.4 234.1h2.6M812.6 234.1h5.2M638.4 236.7h2.6M654.0 236.7h2.6M784.0 236.7h2.6M791.8 236.7h13.0M807.4 236.7h7.8M823.0 236.7h10.4M635.8 239.3h5.2M646.2 239.3h2.6M656.6 239.3h5.2M674.8 239.3h5.2M784.0 239.3h5.2M791.8 239.3h2.6M802.2 239.3h5.2M810.0 239.3h2.6M815.2 239.3h10.4M638.4 241.9h2.6M646.2 241.9h2.6M651.4 241.9h5.2M659.2 241.9h2.6M677.4 241.9h2.6M789.2 241.9h5.2M802.2 241.9h5.2M638.4 244.5h5.2M654.0 244.5h2.6M791.8 244.5h2.6M799.6 244.5h2.6M807.4 244.5h2.6M773.6 247.1h10.4M794.4 247.1h7.8M664.4 249.7h2.6M771.0 249.7h10.4M799.6 249.7h2.6M807.4 249.7h2.6M667.0 252.3h2.6M773.6 252.3h2.6M802.2 252.3h5.2M724.2 254.9h5.2M724.2 257.5h5.2M771.0 257.5h2.6M812.6 260.1h2.6M693.0 262.7h2.6M708.6 262.7h2.6M763.2 262.7h2.6M802.2 262.7h2.6M812.6 262.7h5.2M820.4 262.7h5.2M693.0 265.3h5.2M711.2 265.3h2.6M716.4 265.3h5.2M729.4 265.3h5.2M760.6 265.3h7.8M776.2 265.3h2.6M823.0 265.3h5.2M719.0 267.9h2.6M729.4 267.9h5.2M750.2 267.9h2.6M771.0 267.9h7.8M802.2 267.9h7.8M825.6 267.9h5.2M726.8 270.5h5.2M737.2 270.5h2.6M747.6 270.5h2.6M771.0 270.5h5.2M804.8 270.5h5.2M828.2 270.5h2.6M685.2 273.1h2.6M773.6 273.1h2.6M810.0 273.1h10.4M739.8 275.7h2.6M752.8 275.7h5.2M825.6 275.7h7.8M706.0 278.3h10.4M726.8 278.3h2.6M755.4 278.3h2.6M825.6 278.3h10.4M706.0 280.9h15.6M726.8 280.9h7.8M833.4 280.9h2.6M706.0 283.5h13.0M721.6 283.5h2.6M737.2 283.5h2.6M745.0 283.5h2.6M776.2 283.5h2.6M791.8 283.5h2.6M830.8 283.5h2.6M708.6 286.1h10.4M721.6 286.1h2.6M739.8 286.1h7.8M776.2 286.1h5.2M786.6 286.1h7.8M833.4 286.1h2.6M742.4 288.7h5.2M755.4 288.7h2.6M760.6 288.7h2.6M776.2 288.7h2.6M784.0 288.7h2.6M789.2 288.7h2.6M833.4 288.7h2.6M755.4 291.3h5.2M781.4 291.3h5.2M836.0 291.3h2.6M843.8 291.3h2.6M768.4 293.9h2.6M778.8 293.9h7.8M836.0 293.9h5.2M843.8 293.9h5.2M773.6 296.5h2.6M838.6 296.5h7.8M771.0 299.1h2.6M841.2 299.1h2.6M846.4 299.1h5.2M771.0 301.7h2.6M841.2 301.7h10.4M1387.2 301.7h5.2M1402.8 301.7h2.6M776.2 304.3h5.2M841.2 304.3h5.2M1389.8 304.3h5.2M1397.6 304.3h2.6M838.6 306.9h5.2M854.2 306.9h7.8M864.6 306.9h2.6M1389.8 306.9h10.4M862.0 309.5h2.6M867.2 309.5h2.6M1389.8 309.5h7.8M752.8 312.1h7.8M867.2 312.1h5.2M1392.4 312.1h2.6M755.4 314.7h2.6M864.6 314.7h5.2M823.0 317.3h2.6M828.2 317.3h2.6M856.8 317.3h2.6M862.0 317.3h2.6M1389.8 317.3h2.6M825.6 319.9h5.2M851.6 319.9h2.6M825.6 322.5h2.6M851.6 322.5h10.4M1389.8 322.5h2.6M851.6 325.1h13.0M849.0 327.7h2.6M854.2 327.7h10.4M846.4 330.3h2.6M854.2 330.3h10.4M846.4 332.9h2.6M851.6 332.9h2.6M856.8 332.9h2.6M864.6 332.9h2.6M854.2 335.5h2.6M846.4 338.1h5.2M854.2 338.1h2.6M862.0 338.1h2.6M851.6 340.7h5.2M357.6 345.9h2.6M1395.0 345.9h2.6M352.4 348.5h2.6M1395.0 348.5h2.6M1392.4 351.1h7.8M355.0 353.7h2.6M869.8 353.7h2.6M1392.4 353.7h2.6M869.8 356.3h2.6M1397.6 356.3h5.2M1392.4 361.5h2.6M859.4 364.1h2.6M877.6 364.1h5.2M854.2 366.7h2.6M864.6 366.7h2.6M880.2 366.7h2.6M854.2 369.3h7.8M867.2 369.3h2.6M854.2 371.9h5.2M862.0 371.9h2.6M867.2 371.9h2.6M851.6 374.5h2.6M867.2 374.5h2.6M895.8 379.7h2.6M895.8 382.3h2.6M898.4 384.9h2.6M901.0 390.1h2.6M875.0 392.7h2.6M898.4 392.7h5.2M877.6 395.3h2.6M898.4 395.3h2.6M895.8 397.9h7.8M893.2 400.5h5.2M903.6 400.5h2.6M890.6 403.1h7.8M906.2 403.1h2.6M872.4 405.7h10.4M890.6 405.7h2.6M895.8 405.7h2.6M906.2 405.7h2.6M916.6 405.7h2.6M875.0 408.3h5.2M882.8 408.3h2.6M898.4 408.3h2.6M906.2 408.3h5.2M914.0 408.3h5.2M880.2 410.9h2.6M898.4 410.9h2.6M906.2 410.9h2.6M911.4 410.9h10.4M898.4 413.5h2.6M906.2 413.5h5.2M916.6 413.5h7.8M895.8 416.1h5.2M911.4 416.1h2.6M919.2 416.1h7.8M895.8 418.7h2.6M903.6 418.7h13.0M921.8 418.7h5.2M898.4 421.3h7.8M911.4 421.3h5.2M921.8 421.3h2.6M911.4 423.9h5.2M911.4 426.5h2.6M916.6 426.5h5.2M927.0 426.5h2.6M916.6 429.1h2.6M929.6 429.1h2.6M916.6 431.7h2.6M929.6 431.7h2.6M921.8 434.3h2.6M927.0 434.3h2.6M880.2 470.7h10.4M875.0 473.3h5.2M882.8 473.3h5.2M877.6 475.9h7.8M877.6 478.5h5.2M885.4 478.5h2.6M890.6 478.5h2.6M882.8 481.1h5.2M890.6 481.1h2.6M882.8 483.7h2.6M890.6 486.3h2.6M856.8 488.9h7.8M888.0 488.9h2.6M856.8 491.5h5.2M877.6 491.5h10.4M862.0 496.7h2.6M1402.8 496.7h2.6M859.4 499.3h2.6M875.0 499.3h2.6M880.2 499.3h2.6M898.4 499.3h2.6M1382.0 499.3h2.6M846.4 501.9h2.6M856.8 501.9h5.2M864.6 501.9h7.8M895.8 501.9h5.2M846.4 504.5h15.6M869.8 504.5h2.6M851.6 507.1h2.6M856.8 507.1h5.2M869.8 507.1h5.2M851.6 509.7h7.8M867.2 509.7h2.6M872.4 509.7h5.2M1369.0 509.7h2.6M823.0 512.3h7.8M836.0 512.3h2.6M823.0 514.9h5.2M836.0 514.9h2.6M820.4 517.5h7.8M812.6 520.1h2.6M820.4 520.1h7.8M812.6 522.7h2.6M817.8 522.7h5.2M825.6 522.7h2.6M815.2 525.3h2.6M820.4 525.3h5.2M1270.2 525.3h2.6M1353.4 525.3h2.6M817.8 527.9h2.6M815.2 530.5h2.6M1350.8 530.5h2.6M802.2 533.1h7.8M817.8 533.1h5.2M1350.8 533.1h2.6M802.2 535.7h2.6M823.0 535.7h7.8M1348.2 535.7h2.6M823.0 538.3h5.2M820.4 540.9h5.2M820.4 546.1h2.6M828.2 546.1h5.2M820.4 548.7h5.2M820.4 551.3h2.6M830.8 551.3h2.6M823.0 553.9h7.8M1259.8 559.1h2.6M810.0 561.7h10.4M815.2 564.3h2.6M812.6 566.9h2.6M838.6 574.7h2.6M838.6 577.3h2.6M1348.2 582.5h7.8M841.2 585.1h2.6M1345.6 585.1h7.8M825.6 587.7h2.6M1348.2 587.7h10.4M1350.8 590.3h10.4M1244.2 592.9h5.2M1291.0 592.9h10.4M828.2 595.5h7.8M1244.2 595.5h5.2M1252.0 595.5h2.6M1293.6 595.5h2.6M1353.4 595.5h5.2M1366.4 595.5h2.6M843.8 598.1h5.2M1252.0 598.1h5.2M1259.8 598.1h2.6M1340.4 598.1h2.6M1350.8 598.1h2.6M828.2 600.7h2.6M843.8 600.7h2.6M1218.2 600.7h7.8M1254.6 600.7h2.6M1283.2 600.7h5.2M1332.6 600.7h2.6M1337.8 600.7h2.6M1371.6 600.7h5.2M1220.8 603.3h5.2M1283.2 603.3h2.6M1288.4 603.3h2.6M1350.8 603.3h5.2M1374.2 603.3h5.2M828.2 605.9h2.6M1283.2 605.9h2.6M1324.8 605.9h2.6M1348.2 605.9h2.6M1358.6 605.9h2.6M1363.8 605.9h5.2M1376.8 605.9h2.6M1223.4 608.5h2.6M1285.8 608.5h2.6M1317.0 608.5h2.6M1345.6 608.5h2.6M1358.6 608.5h5.2M1371.6 608.5h2.6M1291.0 611.1h5.2M1317.0 611.1h5.2M1369.0 611.1h2.6M1379.4 611.1h2.6M841.2 613.7h2.6M1291.0 613.7h7.8M1306.6 613.7h2.6M1353.4 613.7h2.6M1379.4 613.7h7.8M838.6 616.3h5.2M1343.0 616.3h5.2M1350.8 616.3h5.2M841.2 618.9h2.6M1337.8 618.9h5.2M1353.4 618.9h2.6M1397.6 618.9h5.2M841.2 621.5h2.6M1252.0 621.5h5.2M1353.4 621.5h2.6M1400.2 621.5h5.2M838.6 624.1h5.2M1314.4 624.1h2.6M1343.0 624.1h7.8M1400.2 624.1h5.2M134.0 626.7h2.6M141.8 626.7h5.2M1314.4 626.7h2.6M1345.6 626.7h2.6M1387.2 626.7h2.6M134.0 629.3h5.2M147.0 629.3h2.6M1311.8 629.3h2.6M1356.0 629.3h5.2M1389.8 629.3h2.6M147.0 631.9h2.6M804.8 631.9h5.2M843.8 631.9h2.6M1309.2 631.9h5.2M1335.2 631.9h2.6M1353.4 631.9h5.2M134.0 634.5h2.6M149.6 634.5h2.6M841.2 634.5h2.6M1306.6 634.5h2.6M1314.4 634.5h2.6M1327.4 634.5h2.6M1348.2 634.5h7.8M1374.2 634.5h5.2M1400.2 634.5h2.6M134.0 637.1h2.6M836.0 637.1h5.2M1304.0 637.1h7.8M1314.4 637.1h5.2M1350.8 637.1h2.6M1369.0 637.1h5.2M1376.8 637.1h2.6M134.0 639.7h2.6M849.0 639.7h2.6M1311.8 639.7h2.6M1345.6 639.7h7.8M1366.4 639.7h10.4M1389.8 639.7h2.6M134.0 642.3h2.6M849.0 642.3h2.6M1309.2 642.3h2.6M1356.0 642.3h2.6M1366.4 642.3h5.2M1387.2 642.3h2.6M1395.0 642.3h7.8M141.8 644.9h5.2M836.0 644.9h2.6M849.0 644.9h10.4M862.0 644.9h2.6M1296.2 644.9h7.8M1358.6 644.9h2.6M1387.2 644.9h2.6M851.6 647.5h2.6M1296.2 647.5h2.6M1304.0 647.5h2.6M1353.4 647.5h5.2M1366.4 647.5h2.6M1384.6 647.5h7.8M833.4 650.1h2.6M872.4 650.1h5.2M1288.4 650.1h2.6M1298.8 650.1h5.2M1353.4 650.1h2.6M1366.4 650.1h2.6M1384.6 650.1h5.2M828.2 652.7h2.6M869.8 652.7h7.8M885.4 652.7h2.6M914.0 652.7h2.6M921.8 652.7h5.2M932.2 652.7h2.6M955.6 652.7h2.6M960.8 652.7h2.6M1288.4 652.7h5.2M1356.0 652.7h2.6M1361.2 652.7h2.6M1369.0 652.7h2.6M828.2 655.3h7.8M869.8 655.3h2.6M877.6 655.3h2.6M911.4 655.3h2.6M916.6 655.3h2.6M932.2 655.3h2.6M955.6 655.3h2.6M960.8 655.3h5.2M989.4 655.3h2.6M1288.4 655.3h10.4M1358.6 655.3h5.2M1382.0 655.3h2.6M828.2 657.9h2.6M864.6 657.9h5.2M888.0 657.9h2.6M903.6 657.9h7.8M958.2 657.9h5.2M989.4 657.9h2.6M994.6 657.9h2.6M1280.6 657.9h2.6M1293.6 657.9h7.8M1371.6 657.9h2.6M1376.8 657.9h5.2M1397.6 657.9h2.6M828.2 660.5h2.6M882.8 660.5h7.8M906.2 660.5h2.6M914.0 660.5h2.6M921.8 660.5h2.6M955.6 660.5h2.6M989.4 660.5h7.8M1278.0 660.5h2.6M1314.4 660.5h5.2M1376.8 660.5h2.6M1392.4 660.5h2.6M882.8 663.1h5.2M903.6 663.1h7.8M921.8 663.1h2.6M955.6 663.1h5.2M963.4 663.1h2.6M992.0 663.1h5.2M1270.2 663.1h2.6M1280.6 663.1h2.6M1369.0 663.1h2.6M1374.2 663.1h5.2M1392.4 663.1h2.6M147.0 665.7h2.6M890.6 665.7h5.2M903.6 665.7h2.6M908.8 665.7h2.6M934.8 665.7h2.6M955.6 665.7h5.2M963.4 665.7h2.6M994.6 665.7h2.6M1002.4 665.7h5.2M1075.2 665.7h2.6M1278.0 665.7h5.2M1369.0 665.7h5.2M1389.8 665.7h2.6M895.8 668.3h2.6M901.0 668.3h10.4M914.0 668.3h2.6M950.4 668.3h7.8M971.2 668.3h5.2M986.8 668.3h10.4M1075.2 668.3h2.6M1267.6 668.3h2.6M1283.2 668.3h2.6M901.0 670.9h10.4M921.8 670.9h2.6M927.0 670.9h7.8M953.0 670.9h2.6M963.4 670.9h10.4M986.8 670.9h2.6M994.6 670.9h2.6M1075.2 670.9h5.2M1270.2 670.9h2.6M906.2 673.5h2.6M929.6 673.5h2.6M953.0 673.5h2.6M958.2 673.5h5.2M1070.0 673.5h7.8M1275.4 673.5h2.6M1283.2 673.5h2.6M950.4 676.1h5.2M958.2 676.1h2.6M1018.0 676.1h2.6M1070.0 676.1h7.8M1080.4 676.1h2.6M1280.6 676.1h2.6M924.4 678.7h2.6M1020.6 678.7h2.6M1070.0 678.7h2.6M1075.2 678.7h7.8M1301.4 678.7h2.6M924.4 681.3h2.6M1023.2 681.3h5.2M1070.0 681.3h2.6M1298.8 681.3h10.4M1028.4 683.9h5.2M1062.2 683.9h10.4M1088.2 683.9h2.6M1257.2 683.9h5.2M1298.8 683.9h2.6M1033.6 686.5h2.6M1085.6 686.5h2.6M1093.4 686.5h2.6M1093.4 689.1h5.2M1252.0 689.1h5.2M1093.4 691.7h2.6M1098.6 691.7h2.6M1252.0 691.7h10.4M1270.2 691.7h5.2M1090.8 694.3h5.2M1101.2 694.3h5.2M1249.4 694.3h2.6M1259.8 694.3h2.6M1272.8 694.3h2.6M334.2 696.9h2.6M1093.4 696.9h2.6M1246.8 696.9h5.2M1262.4 696.9h5.2M1288.4 696.9h2.6M1249.4 699.5h2.6M1265.0 699.5h2.6M1098.6 702.1h2.6M1103.8 702.1h2.6M1246.8 702.1h5.2M1262.4 702.1h2.6M1101.2 704.7h5.2M1194.8 704.7h2.6M1220.8 704.7h2.6M1246.8 704.7h2.6M1262.4 704.7h5.2M1129.8 707.3h7.8M1192.2 707.3h2.6M1223.4 707.3h2.6M1246.8 707.3h10.4M1262.4 707.3h2.6M1127.2 709.9h5.2M1174.0 709.9h2.6M1194.8 709.9h2.6M1207.8 709.9h2.6M1259.8 709.9h5.2M1171.4 712.5h2.6M1202.6 712.5h2.6M1236.4 712.5h2.6M1241.6 712.5h2.6M1163.6 715.1h2.6M1168.8 715.1h5.2M1233.8 717.7h2.6M1249.4 722.9h2.6M1249.4 725.5h2.6M734.6 941.3h5.2M747.6 951.7h2.6"/>
<path stroke="#adff2f" d="M612.4 148.3h7.8M596.8 150.9h7.8M609.8 150.9h2.6M617.6 150.9h5.2M599.4 153.5h13.0M615.0 153.5h7.8M602.0 156.1h18.2M607.2 158.7h10.4M612.4 161.3h2.6M612.4 163.9h2.6M612.4 166.5h2.6M615.0 169.1h2.6M617.6 171.7h5.2M622.8 174.3h2.6M625.4 179.5h2.6M628.0 184.7h2.6M628.0 187.3h2.6M628.0 189.9h2.6M628.0 192.5h2.6M625.4 197.7h2.6M622.8 208.1h2.6M622.8 210.7h2.6M622.8 218.5h2.6M622.8 221.1h2.6M625.4 223.7h7.8M628.0 226.3h7.8M628.0 228.9h7.8M630.6 231.5h2.6M630.6 234.1h2.6M641.0 236.7h2.6M630.6 239.3h2.6M669.6 239.3h2.6M630.6 241.9h2.6M672.2 241.9h5.2M635.8 244.5h2.6M672.2 244.5h7.8M635.8 247.1h2.6M633.2 252.3h2.6M672.2 252.3h5.2M672.2 254.9h5.2M693.0 254.9h2.6M654.0 257.5h7.8M674.8 257.5h2.6M638.4 260.1h2.6M654.0 260.1h10.4M752.8 260.1h2.6M654.0 262.7h13.0M703.4 262.7h5.2M630.6 265.3h7.8M648.8 265.3h7.8M659.2 265.3h10.4M703.4 265.3h7.8M630.6 267.9h2.6M638.4 267.9h5.2M648.8 267.9h10.4M664.4 267.9h7.8M703.4 267.9h5.2M630.6 270.5h2.6M638.4 270.5h5.2M651.4 270.5h10.4M667.0 270.5h5.2M760.6 270.5h2.6M789.2 270.5h10.4M641.0 273.1h2.6M654.0 273.1h7.8M667.0 273.1h10.4M719.0 273.1h2.6M760.6 273.1h5.2M781.4 273.1h2.6M786.6 273.1h13.0M646.2 275.7h18.2M669.6 275.7h5.2M693.0 275.7h5.2M760.6 275.7h5.2M784.0 275.7h15.6M633.2 278.3h2.6M648.8 278.3h33.8M693.0 278.3h5.2M760.6 278.3h7.8M778.8 278.3h13.0M635.8 280.9h13.0M674.8 280.9h13.0M693.0 280.9h5.2M763.2 280.9h5.2M672.2 283.5h2.6M682.6 283.5h5.2M693.0 283.5h7.8M768.4 283.5h2.6M669.6 286.1h5.2M680.0 286.1h20.8M674.8 288.7h18.2M695.6 288.7h5.2M677.4 291.3h2.6M682.6 291.3h18.2M703.4 291.3h10.4M716.4 291.3h2.6M750.2 291.3h2.6M685.2 293.9h10.4M703.4 293.9h2.6M711.2 293.9h15.6M747.6 293.9h7.8M763.2 293.9h2.6M825.6 293.9h2.6M687.8 296.5h5.2M700.8 296.5h5.2M708.6 296.5h7.8M721.6 296.5h5.2M729.4 296.5h2.6M734.6 296.5h5.2M742.4 296.5h13.0M760.6 296.5h5.2M804.8 296.5h5.2M823.0 296.5h5.2M687.8 299.1h7.8M698.2 299.1h2.6M703.4 299.1h10.4M724.2 299.1h2.6M732.0 299.1h5.2M739.8 299.1h18.2M760.6 299.1h2.6M797.0 299.1h5.2M804.8 299.1h5.2M823.0 299.1h5.2M742.4 301.7h13.0M797.0 301.7h5.2M739.8 304.3h2.6M768.4 306.9h5.2M799.6 306.9h15.6M745.0 309.5h2.6M768.4 309.5h13.0M786.6 309.5h2.6M797.0 309.5h10.4M812.6 309.5h7.8M745.0 312.1h2.6M765.8 312.1h2.6M771.0 312.1h2.6M781.4 312.1h20.8M804.8 312.1h2.6M815.2 312.1h2.6M843.8 312.1h2.6M745.0 314.7h2.6M778.8 314.7h10.4M797.0 314.7h2.6M807.4 314.7h10.4M841.2 314.7h2.6M750.2 317.3h2.6M776.2 317.3h10.4M797.0 317.3h2.6M836.0 317.3h7.8M750.2 319.9h7.8M765.8 319.9h15.6M797.0 319.9h5.2M836.0 319.9h5.2M750.2 322.5h31.2M794.4 322.5h10.4M750.2 325.1h20.8M773.6 325.1h2.6M794.4 325.1h2.6M799.6 325.1h5.2M747.6 327.7h5.2M758.0 327.7h15.6M784.0 327.7h2.6M791.8 327.7h2.6M815.2 327.7h5.2M825.6 327.7h2.6M838.6 327.7h2.6M750.2 330.3h2.6M763.2 330.3h2.6M771.0 330.3h2.6M784.0 330.3h13.0M812.6 330.3h7.8M823.0 330.3h18.2M750.2 332.9h2.6M760.6 332.9h5.2M771.0 332.9h5.2M778.8 332.9h10.4M797.0 332.9h7.8M815.2 332.9h5.2M825.6 332.9h7.8M836.0 332.9h5.2M755.4 335.5h7.8M768.4 335.5h15.6M815.2 335.5h7.8M825.6 335.5h5.2M833.4 335.5h5.2M758.0 338.1h7.8M773.6 338.1h5.2M810.0 338.1h2.6M823.0 338.1h15.6M401.8 340.7h2.6M763.2 340.7h2.6M771.0 340.7h2.6M823.0 340.7h13.0M355.0 343.3h5.2M771.0 343.3h2.6M817.8 343.3h15.6M352.4 345.9h2.6M360.2 345.9h2.6M828.2 345.9h5.2M349.8 348.5h2.6M820.4 348.5h2.6M849.0 348.5h2.6M854.2 348.5h5.2M357.6 351.1h2.6M849.0 351.1h10.4M357.6 353.7h2.6M823.0 353.7h2.6M849.0 353.7h5.2M856.8 353.7h2.6M355.0 356.3h2.6M825.6 356.3h2.6M836.0 364.1h2.6M830.8 366.7h2.6M833.4 369.3h2.6M836.0 374.5h2.6M838.6 377.1h2.6M880.2 377.1h5.2M841.2 379.7h2.6M880.2 379.7h7.8M843.8 382.3h2.6M875.0 382.3h2.6M882.8 382.3h5.2M875.0 384.9h2.6M846.4 387.5h2.6M862.0 387.5h5.2M849.0 390.1h2.6M862.0 390.1h5.2M856.8 392.7h13.0M888.0 392.7h2.6M856.8 395.3h2.6M862.0 395.3h7.8M888.0 395.3h2.6M859.4 397.9h13.0M864.6 400.5h10.4M867.2 403.1h2.6M869.8 405.7h2.6M872.4 408.3h2.6M875.0 410.9h2.6M880.2 413.5h2.6M888.0 418.7h2.6M893.2 421.3h2.6M903.6 426.5h5.2M906.2 429.1h2.6M911.4 431.7h2.6M916.6 434.3h2.6M924.4 439.5h10.4M929.6 442.1h5.2M924.4 444.7h2.6M919.2 449.9h2.6M914.0 452.5h2.6M911.4 455.1h2.6M908.8 457.7h2.6M906.2 460.3h2.6M901.0 462.9h5.2M893.2 465.5h10.4M880.2 468.1h7.8M898.4 468.1h5.2M875.0 470.7h2.6M872.4 473.3h2.6M867.2 478.5h5.2M867.2 481.1h2.6M859.4 483.7h2.6M856.8 486.3h2.6M867.2 486.3h2.6M849.0 491.5h2.6M846.4 494.1h2.6M843.8 496.7h2.6M812.6 499.3h2.6M841.2 499.3h2.6M804.8 501.9h5.2M815.2 501.9h2.6M1387.2 501.9h2.6M1397.6 501.9h5.2M802.2 504.5h2.6M812.6 504.5h13.0M828.2 504.5h5.2M1382.0 504.5h2.6M802.2 507.1h2.6M812.6 507.1h10.4M812.6 509.7h5.2M1374.2 509.7h2.6M812.6 512.3h5.2M1369.0 512.3h2.6M1363.8 514.9h2.6M799.6 517.5h7.8M799.6 520.1h7.8M799.6 522.7h7.8M799.6 525.3h7.8M1356.0 525.3h2.6M1356.0 527.9h2.6M797.0 530.5h2.6M1353.4 533.1h2.6M797.0 535.7h2.6M1353.4 535.7h2.6M810.0 538.3h7.8M799.6 540.9h2.6M812.6 540.9h2.6M799.6 543.5h2.6M807.4 543.5h2.6M1353.4 543.5h2.6M799.6 546.1h2.6M804.8 546.1h10.4M1353.4 546.1h2.6M802.2 548.7h10.4M1353.4 548.7h2.6M802.2 551.3h5.2M1353.4 551.3h2.6M804.8 553.9h2.6M804.8 556.5h2.6M802.2 561.7h2.6M825.6 561.7h10.4M1353.4 561.7h2.6M802.2 564.3h5.2M823.0 564.3h5.2M836.0 564.3h2.6M1350.8 564.3h2.6M804.8 566.9h2.6M825.6 566.9h2.6M836.0 566.9h2.6M1350.8 566.9h5.2M804.8 569.5h5.2M825.6 569.5h10.4M1353.4 569.5h5.2M830.8 572.1h2.6M807.4 574.7h2.6M810.0 579.9h2.6M1353.4 579.9h7.8M838.6 582.5h2.6M1358.6 582.5h5.2M815.2 585.1h2.6M1361.2 585.1h2.6M815.2 587.7h2.6M823.0 587.7h2.6M828.2 587.7h5.2M1293.6 587.7h2.6M1358.6 587.7h7.8M264.0 590.3h5.2M815.2 590.3h5.2M817.8 592.9h5.2M817.8 595.5h5.2M1371.6 595.5h2.6M297.8 598.1h2.6M820.4 598.1h2.6M300.4 600.7h2.6M313.4 603.3h2.6M1330.0 603.3h2.6M1285.8 605.9h2.6M1335.2 605.9h5.2M1382.0 605.9h2.6M310.8 608.5h2.6M1327.4 608.5h2.6M1337.8 608.5h2.6M1387.2 608.5h2.6M825.6 611.1h2.6M833.4 611.1h2.6M838.6 611.1h2.6M1324.8 611.1h7.8M1335.2 611.1h5.2M1384.6 611.1h2.6M1395.0 611.1h2.6M825.6 613.7h2.6M1314.4 613.7h2.6M1327.4 613.7h10.4M1371.6 613.7h2.6M1400.2 613.7h5.2M329.0 616.3h2.6M825.6 616.3h5.2M1309.2 616.3h2.6M1317.0 616.3h2.6M1324.8 616.3h5.2M1363.8 616.3h5.2M1374.2 616.3h2.6M1400.2 616.3h2.6M331.6 618.9h2.6M339.4 618.9h2.6M825.6 618.9h2.6M830.8 618.9h5.2M1319.6 618.9h2.6M1324.8 618.9h10.4M1363.8 618.9h5.2M1371.6 618.9h7.8M141.8 621.5h2.6M147.0 621.5h2.6M823.0 621.5h7.8M833.4 621.5h2.6M1314.4 621.5h2.6M1322.2 621.5h7.8M1363.8 621.5h2.6M1369.0 621.5h2.6M1379.4 621.5h5.2M131.4 624.1h10.4M149.6 624.1h2.6M825.6 624.1h7.8M1322.2 624.1h2.6M1369.0 624.1h2.6M1382.0 624.1h2.6M152.2 626.7h2.6M815.2 626.7h5.2M823.0 626.7h7.8M1382.0 626.7h2.6M128.8 629.3h2.6M154.8 629.3h2.6M810.0 629.3h2.6M820.4 629.3h7.8M1332.6 629.3h2.6M1379.4 629.3h7.8M128.8 631.9h2.6M154.8 631.9h2.6M167.8 631.9h2.6M823.0 631.9h2.6M828.2 631.9h2.6M1382.0 631.9h7.8M154.8 634.5h2.6M165.2 634.5h2.6M360.2 634.5h2.6M804.8 634.5h5.2M825.6 634.5h2.6M830.8 634.5h2.6M1382.0 634.5h10.4M128.8 637.1h2.6M167.8 637.1h2.6M357.6 637.1h5.2M802.2 637.1h7.8M828.2 637.1h2.6M833.4 637.1h2.6M1382.0 637.1h5.2M1397.6 637.1h5.2M131.4 639.7h2.6M802.2 639.7h18.2M825.6 639.7h5.2M1358.6 639.7h2.6M1382.0 639.7h5.2M1402.8 639.7h2.6M152.2 642.3h2.6M817.8 642.3h5.2M825.6 642.3h7.8M131.4 644.9h2.6M149.6 644.9h2.6M820.4 644.9h2.6M1371.6 644.9h5.2M144.4 647.5h2.6M323.8 647.5h2.6M373.2 647.5h2.6M820.4 647.5h5.2M830.8 647.5h2.6M1361.2 647.5h2.6M128.8 650.1h5.2M373.2 650.1h2.6M378.4 650.1h2.6M820.4 650.1h2.6M828.2 650.1h2.6M841.2 650.1h2.6M1337.8 650.1h5.2M1348.2 650.1h2.6M1361.2 650.1h2.6M838.6 652.7h5.2M981.6 652.7h2.6M1332.6 652.7h2.6M1350.8 652.7h2.6M147.0 655.3h2.6M838.6 655.3h15.6M979.0 655.3h5.2M1356.0 655.3h2.6M820.4 657.9h2.6M843.8 657.9h13.0M1291.0 657.9h2.6M149.6 660.5h2.6M396.6 660.5h2.6M841.2 660.5h7.8M862.0 660.5h5.2M1291.0 660.5h5.2M1397.6 660.5h2.6M149.6 663.1h2.6M388.8 663.1h2.6M409.6 663.1h2.6M838.6 663.1h2.6M872.4 663.1h2.6M1395.0 663.1h2.6M1317.0 665.7h2.6M1366.4 665.7h2.6M1392.4 665.7h2.6M833.4 668.3h2.6M880.2 668.3h5.2M1007.6 668.3h2.6M1265.0 668.3h2.6M1314.4 668.3h5.2M1389.8 668.3h2.6M147.0 670.9h2.6M888.0 670.9h2.6M999.8 670.9h5.2M1012.8 670.9h2.6M1262.4 670.9h2.6M1267.6 670.9h2.6M1314.4 670.9h2.6M1369.0 670.9h2.6M339.4 673.5h2.6M893.2 673.5h2.6M981.6 673.5h15.6M1265.0 673.5h7.8M898.4 676.1h13.0M916.6 676.1h2.6M929.6 676.1h7.8M973.8 676.1h5.2M1015.4 676.1h2.6M1371.6 676.1h2.6M1384.6 676.1h2.6M937.4 678.7h5.2M1374.2 678.7h2.6M921.8 681.3h2.6M942.6 681.3h5.2M963.4 681.3h5.2M1018.0 681.3h2.6M1265.0 681.3h5.2M1376.8 681.3h2.6M947.8 683.9h2.6M958.2 683.9h2.6M1018.0 683.9h2.6M1270.2 683.9h5.2M1288.4 683.9h5.2M950.4 686.5h5.2M1018.0 686.5h2.6M1041.4 686.5h5.2M1267.6 686.5h7.8M1280.6 686.5h18.2M1064.8 689.1h7.8M1075.2 689.1h2.6M1267.6 689.1h2.6M1275.4 689.1h2.6M1285.8 689.1h2.6M1291.0 689.1h5.2M1020.6 691.7h10.4M1057.0 691.7h2.6M1080.4 691.7h5.2M1275.4 691.7h5.2M1283.2 691.7h2.6M1044.0 694.3h7.8M1275.4 694.3h5.2M1283.2 694.3h10.4M329.0 696.9h2.6M339.4 696.9h2.6M1038.8 696.9h2.6M1088.2 696.9h2.6M1278.0 696.9h2.6M1283.2 696.9h2.6M1293.6 696.9h2.6M334.2 699.5h5.2M1036.2 699.5h2.6M1114.2 699.5h2.6M1280.6 699.5h2.6M1291.0 699.5h2.6M1111.6 702.1h5.2M1267.6 702.1h2.6M1283.2 702.1h2.6M1288.4 702.1h2.6M1088.2 704.7h2.6M1150.6 704.7h2.6M1213.0 704.7h2.6M1283.2 704.7h2.6M1114.2 707.3h2.6M1148.0 707.3h5.2M1259.8 707.3h2.6M1088.2 709.9h2.6M1135.0 709.9h5.2M1153.2 709.9h2.6M1218.2 709.9h2.6M1132.4 712.5h2.6M1197.4 712.5h2.6M1215.6 712.5h5.2M1262.4 712.5h2.6M1129.8 715.1h2.6M1158.4 715.1h2.6M1176.6 715.1h2.6M1202.6 715.1h2.6M1215.6 715.1h2.6M1103.8 717.7h7.8M1127.2 717.7h2.6M1168.8 717.7h5.2M1207.8 717.7h2.6M1215.6 717.7h2.6M1257.2 717.7h2.6M1114.2 720.3h13.0M1226.0 720.3h2.6M1259.8 720.3h2.6M1265.0 720.3h2.6M1218.2 722.9h2.6M1257.2 722.9h10.4M1220.8 725.5h2.6M1257.2 725.5h7.8M1267.6 725.5h2.6M1223.4 728.1h2.6M1254.6 728.1h7.8M1228.6 730.7h2.6M1257.2 730.7h2.6M1254.6 733.3h2.6M453.8 735.9h2.6M1236.4 735.9h13.0M1241.6 738.5h2.6M1246.8 738.5h2.6M607.2 811.3h2.6M635.8 811.3h2.6M659.2 811.3h2.6M659.2 813.9h5.2M667.0 816.5h5.2M732.0 865.9h2.6M729.4 868.5h2.6M1194.8 873.7h5.2M1181.8 876.3h2.6M1197.4 876.3h2.6M1202.6 876.3h5.2M1085.6 878.9h2.6M1114.2 878.9h2.6M1119.4 878.9h2.6M1142.8 878.9h2.6M1184.4 878.9h2.6M1192.2 878.9h2.6M1085.6 881.5h2.6M1116.8 881.5h2.6M1135.0 881.5h2.6M1140.2 881.5h2.6M1158.4 881.5h2.6M1098.6 884.1h2.6M1142.8 884.1h2.6M737.2 899.7h2.6M1005.0 899.7h2.6M1397.6 907.5h2.6M1392.4 910.1h2.6M971.2 920.5h2.6M729.4 938.7h2.6M742.4 938.7h2.6M960.8 938.7h2.6M802.2 943.9h2.6M802.2 946.5h2.6M820.4 946.5h2.6M901.0 946.5h2.6M906.2 946.5h2.6M1012.8 946.5h2.6M752.8 949.1h2.6M802.2 949.1h5.2M810.0 949.1h5.2M898.4 949.1h2.6M906.2 949.1h2.6M947.8 949.1h2.6M797.0 951.7h2.6M802.2 951.7h2.6M937.4 951.7h2.6M885.4 954.3h2.6M1020.6 972.5h5.2"/>
<path stroke="#1cf5a0" d="M589.0 148.3h2.6M591.6 150.9h2.6M594.2 156.1h2.6M596.8 158.7h2.6M599.4 161.3h2.6M602.0 163.9h2.6M604.6 166.5h2.6M607.2 169.1h2.6M609.8 171.7h2.6M615.0 174.3h2.6M620.2 176.9h2.6M622.8 182.1h2.6M620.2 195.1h2.6M620.2 197.7h2.6M620.2 202.9h2.6M617.6 210.7h2.6M620.2 223.7h2.6M622.8 231.5h2.6M625.4 239.3h2.6M628.0 257.5h10.4M628.0 260.1h7.8M630.6 262.7h5.2M628.0 275.7h2.6M630.6 280.9h2.6M648.8 283.5h2.6M659.2 283.5h2.6M661.8 286.1h2.6M664.4 288.7h2.6M524.0 291.3h2.6M669.6 291.3h2.6M672.2 293.9h2.6M238.0 296.5h2.6M677.4 296.5h2.6M235.4 299.1h5.2M680.0 299.1h2.6M682.6 301.7h2.6M687.8 304.3h2.6M703.4 304.3h2.6M713.8 304.3h10.4M732.0 304.3h2.6M734.6 306.9h2.6M739.8 309.5h2.6M742.4 319.9h2.6M745.0 332.9h2.6M391.4 335.5h10.4M355.0 338.1h7.8M396.6 338.1h5.2M750.2 338.1h2.6M786.6 338.1h2.6M802.2 338.1h2.6M362.8 340.7h2.6M399.2 340.7h2.6M752.8 340.7h2.6M781.4 340.7h2.6M804.8 340.7h2.6M755.4 343.3h2.6M778.8 343.3h2.6M810.0 343.3h2.6M760.6 345.9h2.6M776.2 345.9h2.6M812.6 345.9h2.6M763.2 348.5h5.2M815.2 348.5h2.6M817.8 351.1h2.6M360.2 353.7h2.6M820.4 356.3h2.6M578.6 358.9h2.6M349.8 361.5h2.6M823.0 361.5h2.6M825.6 364.1h2.6M828.2 369.3h2.6M830.8 371.9h2.6M833.4 377.1h2.6M836.0 379.7h2.6M838.6 382.3h2.6M841.2 384.9h2.6M425.2 390.1h2.6M843.8 390.1h2.6M451.2 392.7h2.6M846.4 392.7h2.6M849.0 395.3h2.6M851.6 397.9h2.6M854.2 400.5h2.6M859.4 403.1h2.6M862.0 405.7h2.6M867.2 408.3h2.6M869.8 410.9h2.6M872.4 413.5h2.6M877.6 416.1h2.6M339.4 418.7h2.6M882.8 418.7h2.6M885.4 421.3h2.6M890.6 423.9h2.6M893.2 426.5h2.6M526.6 429.1h2.6M898.4 429.1h2.6M906.2 434.3h2.6M911.4 436.9h2.6M919.2 439.5h2.6M264.0 442.1h2.6M919.2 444.7h2.6M526.6 447.3h2.6M914.0 447.3h2.6M911.4 449.9h2.6M906.2 452.5h2.6M903.6 455.1h2.6M898.4 457.7h2.6M893.2 460.3h2.6M885.4 462.9h2.6M877.6 465.5h2.6M284.8 468.1h2.6M872.4 468.1h2.6M869.8 470.7h2.6M867.2 473.3h2.6M862.0 475.9h2.6M859.4 478.5h2.6M856.8 481.1h2.6M854.2 483.7h2.6M851.6 486.3h2.6M846.4 488.9h2.6M843.8 491.5h2.6M810.0 494.1h2.6M841.2 494.1h2.6M804.8 496.7h2.6M836.0 496.7h2.6M797.0 501.9h2.6M1389.8 507.1h2.6M794.4 509.7h2.6M1379.4 509.7h2.6M1376.8 512.3h2.6M1371.6 514.9h2.6M1366.4 517.5h2.6M1363.8 522.7h2.6M1361.2 525.3h2.6M1358.6 530.5h2.6M794.4 538.3h2.6M797.0 551.3h2.6M797.0 559.1h2.6M1358.6 559.1h2.6M300.4 561.7h2.6M799.6 566.9h2.6M1361.2 569.5h2.6M225.0 572.1h2.6M825.6 572.1h2.6M802.2 574.7h2.6M817.8 574.7h2.6M823.0 574.7h5.2M222.4 577.3h5.2M817.8 577.3h2.6M823.0 577.3h5.2M1363.8 577.3h2.6M225.0 579.9h2.6M804.8 579.9h2.6M820.4 579.9h10.4M1366.4 579.9h2.6M820.4 582.5h13.0M1366.4 582.5h2.6M227.6 585.1h2.6M807.4 585.1h2.6M820.4 585.1h5.2M828.2 585.1h5.2M183.4 587.7h2.6M212.0 587.7h2.6M225.0 587.7h2.6M271.8 587.7h2.6M820.4 587.7h2.6M1371.6 587.7h2.6M219.8 590.3h13.0M1374.2 590.3h2.6M225.0 592.9h2.6M230.2 592.9h2.6M287.4 592.9h2.6M292.6 592.9h2.6M810.0 592.9h2.6M1376.8 592.9h2.6M290.0 595.5h10.4M1379.4 595.5h2.6M812.6 598.1h2.6M1382.0 598.1h2.6M290.0 600.7h2.6M297.8 600.7h2.6M305.6 600.7h2.6M162.6 603.3h2.6M300.4 603.3h2.6M308.2 603.3h2.6M815.2 603.3h2.6M165.2 605.9h2.6M313.4 605.9h2.6M318.6 605.9h2.6M817.8 605.9h2.6M1392.4 605.9h2.6M165.2 608.5h2.6M316.0 608.5h5.2M165.2 611.1h2.6M316.0 611.1h7.8M326.4 611.1h2.6M820.4 611.1h2.6M178.2 613.7h2.6M321.2 613.7h2.6M326.4 613.7h5.2M136.6 616.3h5.2M144.4 616.3h2.6M149.6 616.3h2.6M180.8 616.3h2.6M321.2 616.3h2.6M820.4 616.3h2.6M128.8 618.9h7.8M152.2 618.9h2.6M170.4 618.9h2.6M323.8 618.9h2.6M334.2 618.9h2.6M817.8 618.9h2.6M334.2 621.5h7.8M126.2 624.1h2.6M339.4 624.1h5.2M804.8 624.1h7.8M157.4 626.7h2.6M165.2 626.7h2.6M170.4 626.7h2.6M342.0 626.7h5.2M123.6 629.3h2.6M342.0 629.3h5.2M802.2 629.3h2.6M123.6 631.9h2.6M162.6 634.5h2.6M362.8 634.5h2.6M165.2 637.1h2.6M362.8 637.1h5.2M123.6 639.7h2.6M157.4 639.7h2.6M162.6 639.7h7.8M370.6 639.7h2.6M123.6 642.3h2.6M368.0 642.3h2.6M799.6 642.3h2.6M123.6 644.9h2.6M154.8 644.9h2.6M326.4 644.9h2.6M365.4 644.9h10.4M799.6 644.9h2.6M804.8 644.9h2.6M126.2 647.5h2.6M154.8 647.5h2.6M334.2 647.5h2.6M370.6 647.5h2.6M378.4 647.5h5.2M815.2 647.5h2.6M160.0 650.1h2.6M375.8 650.1h2.6M381.0 650.1h2.6M152.2 652.7h2.6M160.0 652.7h2.6M323.8 652.7h2.6M378.4 652.7h5.2M383.6 655.3h2.6M1337.8 655.3h2.6M1348.2 655.3h2.6M160.0 657.9h2.6M383.6 657.9h5.2M396.6 657.9h2.6M1332.6 657.9h2.6M1353.4 657.9h2.6M160.0 660.5h2.6M386.2 660.5h10.4M399.2 660.5h5.2M407.0 660.5h2.6M817.8 660.5h2.6M1330.0 660.5h2.6M1356.0 660.5h2.6M412.2 663.1h2.6M825.6 663.1h2.6M1358.6 663.1h2.6M1400.2 663.1h2.6M414.8 665.7h2.6M820.4 665.7h2.6M841.2 665.7h2.6M869.8 665.7h2.6M1324.8 665.7h2.6M1361.2 665.7h2.6M1397.6 665.7h2.6M160.0 668.3h2.6M336.8 668.3h2.6M417.4 668.3h2.6M825.6 668.3h2.6M838.6 668.3h2.6M1322.2 668.3h2.6M1363.8 668.3h2.6M1395.0 668.3h2.6M157.4 670.9h2.6M828.2 670.9h2.6M836.0 670.9h2.6M877.6 670.9h2.6M1392.4 670.9h2.6M882.8 673.5h2.6M1005.0 673.5h2.6M1010.2 673.5h2.6M888.0 676.1h2.6M997.2 676.1h2.6M1366.4 676.1h2.6M1389.8 676.1h2.6M334.2 678.7h2.6M895.8 678.7h2.6M981.6 678.7h7.8M1369.0 678.7h2.6M1387.2 678.7h2.6M934.8 681.3h2.6M973.8 681.3h2.6M1012.8 681.3h2.6M1371.6 681.3h2.6M1384.6 681.3h2.6M336.8 683.9h2.6M940.0 683.9h2.6M971.2 683.9h2.6M1374.2 683.9h2.6M1382.0 683.9h2.6M945.2 686.5h2.6M966.0 686.5h2.6M1376.8 686.5h5.2M947.8 689.1h2.6M958.2 689.1h2.6M963.4 689.1h2.6M1015.4 689.1h2.6M451.2 691.7h2.6M326.4 694.3h2.6M448.6 694.3h2.6M453.8 694.3h2.6M1018.0 694.3h2.6M1070.0 694.3h2.6M1075.2 694.3h2.6M323.8 696.9h2.6M344.6 696.9h2.6M1028.4 696.9h2.6M1064.8 696.9h2.6M1083.0 696.9h2.6M1031.0 699.5h2.6M1044.0 699.5h2.6M1033.6 702.1h2.6M1275.4 702.1h5.2M456.4 704.7h2.6M1267.6 704.7h2.6M1272.8 704.7h7.8M456.4 707.3h2.6M1083.0 707.3h2.6M1272.8 707.3h2.6M1285.8 707.3h2.6M1265.0 709.9h2.6M1283.2 709.9h2.6M1085.6 712.5h2.6M1257.2 712.5h2.6M1275.4 712.5h2.6M1280.6 712.5h2.6M1090.8 715.1h2.6M1135.0 715.1h2.6M1148.0 715.1h2.6M1272.8 715.1h7.8M1096.0 717.7h2.6M1132.4 717.7h2.6M1153.2 717.7h2.6M1184.4 717.7h2.6M1197.4 717.7h2.6M1275.4 717.7h5.2M1098.6 720.3h2.6M1129.8 720.3h2.6M1155.8 720.3h2.6M1176.6 720.3h2.6M1202.6 720.3h2.6M1270.2 720.3h5.2M464.2 722.9h2.6M1101.2 722.9h2.6M1127.2 722.9h2.6M1158.4 722.9h2.6M1168.8 722.9h2.6M1207.8 722.9h2.6M1275.4 722.9h2.6M430.4 725.5h5.2M1210.4 725.5h2.6M1272.8 725.5h2.6M427.8 728.1h2.6M446.0 728.1h2.6M1213.0 728.1h2.6M427.8 730.7h2.6M446.0 730.7h2.6M1218.2 730.7h2.6M1267.6 730.7h2.6M430.4 733.3h2.6M443.4 733.3h2.6M1223.4 733.3h2.6M1262.4 733.3h2.6M1228.6 735.9h2.6M1259.8 735.9h2.6M1231.2 738.5h2.6M1236.4 741.1h2.6M1239.0 743.7h2.6M1249.4 743.7h2.6M461.6 746.3h2.6M1246.8 746.3h2.6M1244.2 748.9h2.6M482.4 761.9h2.6M485.0 767.1h2.6M622.8 806.1h2.6M628.0 806.1h2.6M596.8 808.7h5.2M607.2 808.7h5.2M615.0 808.7h2.6M630.6 808.7h2.6M638.4 808.7h2.6M643.6 808.7h5.2M583.8 811.3h10.4M596.8 811.3h2.6M602.0 811.3h5.2M609.8 811.3h2.6M615.0 811.3h5.2M622.8 811.3h2.6M630.6 811.3h5.2M643.6 811.3h5.2M656.6 811.3h2.6M586.4 813.9h2.6M591.6 813.9h5.2M615.0 813.9h2.6M651.4 813.9h2.6M656.6 813.9h2.6M667.0 813.9h5.2M581.2 816.5h2.6M594.2 816.5h2.6M656.6 816.5h2.6M570.8 819.1h2.6M674.8 824.3h2.6M734.6 865.9h2.6M1226.0 868.5h2.6M737.2 871.1h2.6M1189.6 871.1h2.6M1194.8 871.1h2.6M1200.0 871.1h2.6M734.6 873.7h2.6M1181.8 873.7h2.6M1202.6 873.7h2.6M1207.8 873.7h2.6M1150.6 876.3h5.2M1161.0 876.3h5.2M1174.0 876.3h7.8M1189.6 876.3h2.6M1067.4 878.9h7.8M1077.8 878.9h5.2M1090.8 878.9h2.6M1122.0 878.9h5.2M1132.4 878.9h2.6M1148.0 878.9h7.8M1163.6 878.9h2.6M1171.4 878.9h2.6M1179.2 878.9h2.6M1189.6 878.9h2.6M1194.8 878.9h2.6M1062.2 881.5h2.6M1067.4 881.5h10.4M1098.6 881.5h7.8M1114.2 881.5h2.6M1122.0 881.5h5.2M1129.8 881.5h2.6M1145.4 881.5h10.4M1062.2 884.1h7.8M1072.6 884.1h2.6M1101.2 884.1h2.6M1106.4 884.1h2.6M1111.6 884.1h2.6M1137.6 884.1h2.6M1163.6 884.1h2.6M1124.6 886.7h2.6M1137.6 886.7h2.6M1317.0 886.7h2.6M1337.8 886.7h2.6M1343.0 886.7h5.2M1350.8 886.7h2.6M1111.6 889.3h2.6M1350.8 889.3h5.2M1049.2 891.9h2.6M1353.4 891.9h5.2M1051.8 894.5h7.8M1361.2 894.5h2.6M1051.8 897.1h5.2M1356.0 897.1h2.6M739.8 899.7h2.6M997.2 899.7h2.6M1002.4 899.7h2.6M1051.8 899.7h2.6M739.8 902.3h2.6M981.6 902.3h2.6M1015.4 902.3h2.6M1020.6 902.3h2.6M1392.4 902.3h5.2M737.2 904.9h5.2M1015.4 904.9h10.4M1049.2 904.9h2.6M1384.6 904.9h7.8M1395.0 904.9h2.6M742.4 907.5h2.6M1028.4 907.5h2.6M742.4 910.1h2.6M968.6 910.1h2.6M1028.4 910.1h5.2M1400.2 910.1h2.6M968.6 912.7h2.6M1025.8 912.7h5.2M737.2 915.3h5.2M966.0 915.3h2.6M1036.2 915.3h2.6M968.6 917.9h5.2M737.2 920.5h2.6M968.6 920.5h2.6M1031.0 920.5h2.6M966.0 923.1h2.6M1036.2 928.3h2.6M726.8 930.9h2.6M963.4 930.9h2.6M1033.6 930.9h5.2M1044.0 930.9h5.2M734.6 933.5h2.6M963.4 933.5h2.6M1041.4 933.5h5.2M1049.2 933.5h2.6M726.8 936.1h2.6M960.8 936.1h5.2M1044.0 936.1h2.6M747.6 938.7h5.2M825.6 941.3h5.2M804.8 943.9h5.2M820.4 943.9h2.6M825.6 943.9h2.6M750.2 946.5h2.6M760.6 946.5h2.6M807.4 946.5h2.6M815.2 946.5h5.2M823.0 946.5h2.6M890.6 946.5h5.2M914.0 946.5h2.6M950.4 946.5h2.6M755.4 949.1h7.8M773.6 949.1h2.6M875.0 949.1h5.2M882.8 949.1h2.6M888.0 949.1h2.6M916.6 949.1h2.6M934.8 949.1h2.6M942.6 949.1h5.2M950.4 949.1h5.2M1015.4 949.1h2.6M760.6 951.7h2.6M765.8 951.7h5.2M789.2 951.7h5.2M875.0 951.7h2.6M880.2 951.7h2.6M885.4 951.7h2.6M898.4 951.7h7.8M908.8 951.7h2.6M914.0 951.7h2.6M919.2 951.7h2.6M927.0 951.7h2.6M1012.8 951.7h2.6M768.4 954.3h2.6M784.0 954.3h2.6M797.0 954.3h2.6M791.8 956.9h2.6M789.2 959.5h2.6M1012.8 972.5h5.2M778.8 975.1h2.6M1015.4 975.1h7.8M1028.4 975.1h2.6M1015.4 977.7h5.2M1023.2 977.7h7.8M1025.8 980.3h2.6"/>
<path stroke="#00ee00" d="M591.6 148.3h2.6M594.2 150.9h2.6M596.8 156.1h5.2M599.4 158.7h2.6M602.0 161.3h2.6M604.6 163.9h2.6M607.2 166.5h2.6M615.0 171.7h2.6M617.6 174.3h2.6M622.8 179.5h2.6M625.4 182.1h2.6M625.4 189.9h2.6M625.4 192.5h2.6M625.4 195.1h2.6M622.8 197.7h2.6M622.8 200.3h2.6M622.8 202.9h2.6M620.2 205.5h2.6M620.2 208.1h2.6M620.2 210.7h2.6M620.2 221.1h2.6M622.8 223.7h2.6M643.6 236.7h2.6M628.0 239.3h2.6M643.6 239.3h2.6M633.2 244.5h2.6M630.6 247.1h5.2M630.6 252.3h2.6M635.8 254.9h2.6M628.0 262.7h2.6M635.8 262.7h2.6M628.0 265.3h2.6M630.6 275.7h2.6M630.6 278.3h2.6M633.2 280.9h2.6M648.8 280.9h2.6M659.2 280.9h2.6M633.2 283.5h7.8M643.6 283.5h5.2M661.8 283.5h2.6M664.4 286.1h2.6M669.6 288.7h2.6M672.2 291.3h2.6M677.4 293.9h5.2M680.0 296.5h2.6M682.6 299.1h2.6M690.4 301.7h2.6M695.6 301.7h2.6M703.4 301.7h2.6M713.8 301.7h5.2M721.6 301.7h2.6M739.8 306.9h2.6M742.4 309.5h2.6M745.0 319.9h2.6M747.6 332.9h2.6M765.8 332.9h2.6M750.2 335.5h2.6M802.2 335.5h2.6M752.8 338.1h2.6M804.8 338.1h2.6M355.0 340.7h5.2M755.4 340.7h2.6M778.8 340.7h2.6M810.0 340.7h2.6M760.6 343.3h2.6M776.2 343.3h2.6M812.6 343.3h2.6M349.8 345.9h2.6M763.2 345.9h10.4M815.2 345.9h2.6M347.2 348.5h2.6M817.8 348.5h2.6M347.2 351.1h2.6M360.2 351.1h2.6M820.4 351.1h2.6M820.4 353.7h2.6M823.0 356.3h2.6M352.4 358.9h2.6M825.6 361.5h2.6M828.2 364.1h2.6M830.8 369.3h2.6M833.4 371.9h2.6M833.4 374.5h2.6M836.0 377.1h2.6M838.6 379.7h2.6M841.2 382.3h2.6M843.8 384.9h2.6M846.4 390.1h2.6M849.0 392.7h2.6M851.6 395.3h2.6M854.2 397.9h2.6M287.4 400.5h2.6M859.4 400.5h2.6M862.0 403.1h2.6M867.2 405.7h2.6M869.8 408.3h2.6M872.4 410.9h2.6M877.6 413.5h2.6M880.2 416.1h5.2M885.4 418.7h2.6M890.6 421.3h2.6M893.2 423.9h2.6M898.4 426.5h2.6M903.6 429.1h2.6M521.4 431.7h2.6M906.2 431.7h2.6M919.2 436.9h2.6M921.8 439.5h2.6M921.8 444.7h2.6M916.6 447.3h5.2M914.0 449.9h2.6M911.4 452.5h2.6M906.2 457.7h2.6M901.0 460.3h2.6M895.8 462.9h2.6M875.0 468.1h5.2M872.4 470.7h2.6M869.8 473.3h2.6M867.2 475.9h2.6M862.0 478.5h2.6M859.4 481.1h2.6M856.8 483.7h2.6M843.8 494.1h2.6M810.0 496.7h2.6M841.2 496.7h2.6M804.8 499.3h2.6M836.0 499.3h2.6M802.2 501.9h2.6M1389.8 504.5h2.6M1402.8 504.5h2.6M1382.0 507.1h2.6M797.0 509.7h2.6M1371.6 512.3h5.2M1366.4 514.9h5.2M1363.8 517.5h2.6M1361.2 522.7h2.6M1358.6 525.3h2.6M794.4 530.5h2.6M1356.0 530.5h2.6M794.4 533.1h2.6M794.4 535.7h2.6M797.0 538.3h2.6M797.0 540.9h2.6M797.0 543.5h2.6M1356.0 546.1h2.6M1356.0 548.7h2.6M802.2 566.9h2.6M1358.6 569.5h2.6M820.4 572.1h2.6M828.2 572.1h2.6M225.0 574.7h2.6M804.8 574.7h2.6M815.2 574.7h2.6M830.8 574.7h2.6M227.6 577.3h2.6M830.8 577.3h2.6M836.0 577.3h2.6M815.2 579.9h2.6M833.4 579.9h10.4M1361.2 579.9h2.6M812.6 582.5h2.6M817.8 582.5h2.6M841.2 582.5h2.6M1363.8 582.5h2.6M227.6 587.7h5.2M269.2 587.7h2.6M817.8 587.7h2.6M812.6 590.3h2.6M1371.6 592.9h2.6M815.2 595.5h2.6M1376.8 595.5h2.6M295.2 598.1h2.6M300.4 598.1h2.6M295.2 600.7h2.6M310.8 600.7h2.6M310.8 603.3h2.6M817.8 603.3h7.8M1382.0 603.3h2.6M310.8 605.9h2.6M820.4 605.9h2.6M830.8 605.9h2.6M838.6 605.9h2.6M323.8 613.7h2.6M175.6 616.3h2.6M139.2 618.9h5.2M149.6 618.9h2.6M175.6 618.9h5.2M329.0 618.9h2.6M336.8 618.9h2.6M823.0 618.9h2.6M131.4 621.5h7.8M331.6 621.5h2.6M342.0 621.5h2.6M820.4 621.5h2.6M1317.0 621.5h2.6M128.8 624.1h2.6M152.2 624.1h2.6M167.8 624.1h2.6M815.2 624.1h2.6M339.4 626.7h2.6M807.4 626.7h2.6M833.4 626.7h2.6M157.4 629.3h2.6M165.2 629.3h5.2M804.8 629.3h2.6M830.8 629.3h2.6M126.2 631.9h2.6M165.2 631.9h2.6M830.8 631.9h2.6M157.4 634.5h2.6M357.6 634.5h2.6M123.6 637.1h2.6M355.0 637.1h2.6M126.2 639.7h2.6M154.8 639.7h2.6M360.2 639.7h10.4M799.6 639.7h2.6M128.8 642.3h2.6M365.4 642.3h2.6M802.2 642.3h5.2M375.8 644.9h2.6M825.6 644.9h5.2M123.6 647.5h2.6M131.4 647.5h2.6M152.2 647.5h2.6M321.2 647.5h2.6M375.8 647.5h2.6M825.6 647.5h5.2M147.0 650.1h7.8M321.2 650.1h2.6M334.2 650.1h2.6M144.4 652.7h2.6M329.0 652.7h2.6M375.8 652.7h2.6M1337.8 652.7h2.6M1348.2 652.7h2.6M149.6 655.3h2.6M381.0 655.3h2.6M1332.6 655.3h2.6M1350.8 655.3h5.2M1330.0 657.9h2.6M1356.0 657.9h2.6M404.4 660.5h2.6M820.4 660.5h2.6M825.6 660.5h2.6M1358.6 660.5h2.6M1400.2 660.5h2.6M407.0 663.1h2.6M820.4 663.1h2.6M841.2 663.1h2.6M849.0 663.1h5.2M862.0 663.1h7.8M1361.2 663.1h2.6M1397.6 663.1h2.6M412.2 665.7h2.6M830.8 665.7h2.6M838.6 665.7h2.6M872.4 665.7h2.6M1363.8 665.7h2.6M1395.0 665.7h2.6M149.6 668.3h2.6M157.4 668.3h2.6M836.0 668.3h2.6M1319.6 668.3h2.6M1366.4 668.3h2.6M1392.4 668.3h2.6M160.0 670.9h2.6M339.4 670.9h2.6M830.8 670.9h2.6M882.8 670.9h2.6M1005.0 670.9h2.6M1010.2 670.9h2.6M1366.4 670.9h2.6M162.6 673.5h2.6M888.0 673.5h2.6M997.2 673.5h2.6M1012.8 673.5h2.6M1389.8 673.5h2.6M895.8 676.1h2.6M981.6 676.1h13.0M1012.8 676.1h2.6M1369.0 676.1h2.6M1387.2 676.1h2.6M898.4 678.7h7.8M934.8 678.7h2.6M973.8 678.7h2.6M1371.6 678.7h2.6M1384.6 678.7h2.6M339.4 681.3h2.6M903.6 681.3h2.6M916.6 681.3h2.6M937.4 681.3h5.2M971.2 681.3h2.6M1015.4 681.3h2.6M1374.2 681.3h2.6M945.2 683.9h2.6M1376.8 683.9h2.6M947.8 686.5h2.6M958.2 686.5h2.6M1018.0 689.1h2.6M1018.0 691.7h2.6M1067.4 691.7h2.6M329.0 694.3h2.6M339.4 694.3h2.6M1020.6 694.3h10.4M1064.8 694.3h2.6M1083.0 694.3h2.6M1031.0 696.9h2.6M1044.0 696.9h2.6M1049.2 696.9h2.6M1085.6 696.9h2.6M1033.6 699.5h2.6M1038.8 699.5h5.2M1085.6 699.5h2.6M1278.0 699.5h2.6M1036.2 702.1h2.6M1085.6 702.1h2.6M1272.8 702.1h2.6M1085.6 704.7h2.6M1257.2 704.7h5.2M1288.4 704.7h2.6M1085.6 707.3h2.6M1257.2 707.3h2.6M1283.2 707.3h2.6M1254.6 709.9h5.2M1278.0 709.9h2.6M1088.2 712.5h5.2M1135.0 712.5h2.6M1096.0 715.1h2.6M1132.4 715.1h2.6M1155.8 715.1h2.6M1197.4 715.1h2.6M1257.2 715.1h13.0M1098.6 717.7h2.6M1129.8 717.7h2.6M1158.4 717.7h2.6M1176.6 717.7h2.6M1202.6 717.7h2.6M1270.2 717.7h2.6M1101.2 720.3h2.6M1127.2 720.3h2.6M1168.8 720.3h2.6M1207.8 720.3h2.6M1210.4 722.9h2.6M1270.2 722.9h2.6M438.2 725.5h5.2M1213.0 725.5h2.6M1270.2 725.5h2.6M430.4 728.1h2.6M1220.8 728.1h2.6M430.4 730.7h2.6M443.4 730.7h2.6M433.0 733.3h2.6M438.2 733.3h2.6M1228.6 733.3h2.6M1231.2 735.9h2.6M1254.6 735.9h2.6M1233.8 738.5h5.2M1249.4 738.5h2.6M453.8 741.1h2.6M1241.6 741.1h2.6M1246.8 741.1h2.6M1244.2 743.7h2.6M469.4 754.1h2.6M479.8 767.1h2.6M482.4 769.7h5.2M661.8 811.3h2.6M583.8 813.9h2.6M589.0 813.9h2.6M607.2 813.9h2.6M654.0 813.9h2.6M664.4 813.9h2.6M672.2 813.9h2.6M661.8 816.5h5.2M672.2 816.5h2.6M672.2 824.3h2.6M778.8 860.7h2.6M732.0 863.3h2.6M737.2 873.7h2.6M1189.6 873.7h2.6M1200.0 873.7h2.6M1184.4 876.3h5.2M1194.8 876.3h2.6M1200.0 876.3h2.6M1083.0 878.9h2.6M1088.2 878.9h2.6M1145.4 878.9h2.6M1174.0 878.9h5.2M1064.8 881.5h2.6M1083.0 881.5h2.6M1093.4 881.5h5.2M1106.4 881.5h2.6M1119.4 881.5h2.6M1132.4 881.5h2.6M1155.8 881.5h2.6M1161.0 881.5h2.6M1176.6 881.5h2.6M1070.0 884.1h2.6M1077.8 884.1h5.2M1090.8 884.1h5.2M1119.4 884.1h2.6M1140.2 884.1h2.6M1145.4 884.1h2.6M1054.4 886.7h2.6M1348.2 886.7h2.6M1106.4 889.3h2.6M737.2 891.9h2.6M1051.8 891.9h2.6M1358.6 891.9h2.6M737.2 894.5h2.6M1358.6 894.5h2.6M737.2 897.1h2.6M999.8 899.7h2.6M1007.6 899.7h2.6M1356.0 899.7h2.6M986.8 902.3h2.6M992.0 902.3h2.6M1392.4 904.9h2.6M1397.6 904.9h2.6M1020.6 907.5h2.6M1389.8 907.5h7.8M1400.2 907.5h5.2M739.8 910.1h2.6M1025.8 910.1h2.6M1389.8 910.1h2.6M1033.6 912.7h2.6M968.6 915.3h2.6M737.2 917.9h2.6M968.6 923.1h5.2M968.6 925.7h2.6M726.8 928.3h2.6M1046.6 928.3h2.6M729.4 930.9h2.6M729.4 936.1h2.6M739.8 936.1h2.6M1046.6 936.1h2.6M739.8 943.9h5.2M828.2 943.9h2.6M836.0 943.9h2.6M797.0 946.5h5.2M804.8 946.5h2.6M810.0 946.5h2.6M825.6 946.5h5.2M895.8 946.5h2.6M776.2 949.1h2.6M794.4 949.1h7.8M815.2 949.1h7.8M890.6 949.1h5.2M911.4 949.1h2.6M1012.8 949.1h2.6M758.0 951.7h2.6M763.2 951.7h2.6M794.4 951.7h2.6M799.6 951.7h2.6M877.6 951.7h2.6M882.8 951.7h2.6M916.6 951.7h2.6M786.6 954.3h5.2M934.8 954.3h7.8M765.8 956.9h2.6M786.6 956.9h2.6M791.8 959.5h2.6M1018.0 972.5h2.6M1023.2 980.3h2.6"/>
<path stroke="#7cf500" d="M594.2 148.3h2.6M612.4 150.9h5.2M596.8 153.5h2.6M612.4 153.5h2.6M602.0 158.7h2.6M604.6 161.3h2.6M607.2 163.9h2.6M609.8 166.5h2.6M612.4 169.1h2.6M620.2 174.3h2.6M622.8 176.9h2.6M622.8 205.5h2.6M622.8 213.3h2.6M622.8 215.9h2.6M625.4 226.3h2.6M625.4 228.9h2.6M628.0 231.5h2.6M628.0 234.1h2.6M628.0 236.7h2.6M641.0 239.3h2.6M630.6 244.5h2.6M630.6 249.7h2.6M638.4 254.9h2.6M641.0 257.5h2.6M656.6 265.3h2.6M659.2 267.9h5.2M661.8 270.5h5.2M630.6 273.1h2.6M661.8 273.1h5.2M664.4 275.7h5.2M661.8 280.9h2.6M669.6 280.9h5.2M664.4 283.5h2.6M674.8 283.5h7.8M667.0 286.1h2.6M674.8 286.1h5.2M672.2 288.7h2.6M693.0 288.7h2.6M674.8 291.3h2.6M680.0 291.3h2.6M682.6 293.9h2.6M706.0 293.9h5.2M682.6 296.5h2.6M706.0 296.5h2.6M716.4 296.5h5.2M685.2 299.1h2.6M700.8 299.1h2.6M713.8 299.1h10.4M693.0 301.7h2.6M706.0 301.7h7.8M724.2 301.7h13.0M737.2 304.3h2.6M742.4 306.9h2.6M807.4 309.5h5.2M807.4 312.1h7.8M789.2 314.7h7.8M745.0 317.3h2.6M786.6 317.3h10.4M747.6 319.9h2.6M781.4 319.9h15.6M747.6 322.5h2.6M781.4 322.5h13.0M747.6 325.1h2.6M771.0 325.1h2.6M776.2 325.1h18.2M752.8 327.7h5.2M773.6 327.7h10.4M786.6 327.7h5.2M747.6 330.3h2.6M752.8 330.3h10.4M765.8 330.3h2.6M773.6 330.3h10.4M752.8 332.9h7.8M776.2 332.9h2.6M789.2 332.9h7.8M833.4 332.9h2.6M752.8 335.5h2.6M763.2 335.5h5.2M784.0 335.5h2.6M804.8 335.5h2.6M830.8 335.5h2.6M755.4 338.1h2.6M765.8 338.1h5.2M778.8 338.1h2.6M807.4 338.1h2.6M758.0 340.7h5.2M765.8 340.7h5.2M776.2 340.7h2.6M812.6 340.7h2.6M352.4 343.3h2.6M360.2 343.3h2.6M763.2 343.3h7.8M773.6 343.3h2.6M815.2 343.3h2.6M817.8 345.9h2.6M360.2 348.5h2.6M347.2 353.7h2.6M347.2 356.3h2.6M349.8 358.9h2.6M825.6 358.9h2.6M828.2 361.5h2.6M851.6 392.7h2.6M854.2 395.3h2.6M856.8 397.9h2.6M862.0 400.5h2.6M864.6 403.1h2.6M885.4 416.1h2.6M895.8 423.9h2.6M901.0 426.5h2.6M908.8 431.7h2.6M914.0 434.3h2.6M921.8 436.9h2.6M924.4 442.1h2.6M921.8 447.3h2.6M916.6 449.9h2.6M908.8 455.1h2.6M903.6 460.3h2.6M898.4 462.9h2.6M888.0 465.5h5.2M869.8 475.9h2.6M864.6 478.5h2.6M862.0 481.1h2.6M854.2 486.3h2.6M851.6 488.9h2.6M807.4 499.3h2.6M815.2 499.3h2.6M838.6 499.3h2.6M817.8 501.9h20.8M1389.8 501.9h7.8M799.6 504.5h2.6M1384.6 504.5h5.2M799.6 507.1h2.6M1379.4 507.1h2.6M1376.8 509.7h2.6M797.0 512.3h2.6M797.0 514.9h2.6M797.0 517.5h2.6M797.0 520.1h2.6M1361.2 520.1h2.6M797.0 522.7h2.6M1358.6 522.7h2.6M797.0 525.3h2.6M797.0 527.9h2.6M1353.4 538.3h2.6M1353.4 540.9h2.6M799.6 548.7h2.6M802.2 553.9h2.6M1353.4 553.9h2.6M802.2 556.5h2.6M1353.4 556.5h2.6M802.2 559.1h2.6M1353.4 559.1h2.6M799.6 561.7h2.6M1356.0 561.7h2.6M828.2 564.3h7.8M1356.0 564.3h2.6M828.2 566.9h7.8M1356.0 566.9h2.6M804.8 572.1h2.6M817.8 572.1h2.6M1358.6 572.1h2.6M833.4 574.7h2.6M1358.6 574.7h2.6M807.4 577.3h2.6M812.6 577.3h2.6M833.4 577.3h2.6M1358.6 577.3h2.6M812.6 579.9h2.6M810.0 582.5h2.6M815.2 582.5h2.6M836.0 582.5h2.6M1356.0 582.5h2.6M810.0 585.1h2.6M833.4 585.1h2.6M1358.6 585.1h2.6M1363.8 585.1h2.6M812.6 587.7h2.6M1366.4 587.7h2.6M820.4 590.3h2.6M1369.0 590.3h2.6M815.2 592.9h2.6M1374.2 595.5h2.6M817.8 598.1h2.6M1376.8 598.1h2.6M817.8 600.7h7.8M1379.4 600.7h2.6M823.0 605.9h2.6M1330.0 605.9h5.2M1384.6 605.9h5.2M823.0 608.5h2.6M830.8 608.5h2.6M841.2 608.5h2.6M1330.0 608.5h7.8M1389.8 608.5h5.2M836.0 611.1h2.6M1332.6 611.1h2.6M1397.6 611.1h7.8M1311.8 613.7h2.6M1324.8 613.7h2.6M1311.8 616.3h5.2M1369.0 616.3h5.2M1402.8 616.3h2.6M144.4 618.9h5.2M828.2 618.9h2.6M1311.8 618.9h7.8M1369.0 618.9h2.6M139.2 621.5h2.6M144.4 621.5h2.6M149.6 621.5h2.6M1319.6 621.5h2.6M1330.0 621.5h5.2M1366.4 621.5h2.6M817.8 624.1h7.8M833.4 624.1h5.2M1324.8 624.1h10.4M128.8 626.7h2.6M154.8 626.7h2.6M810.0 626.7h5.2M820.4 626.7h2.6M1324.8 626.7h10.4M807.4 629.3h2.6M833.4 629.3h2.6M1327.4 629.3h5.2M157.4 631.9h2.6M833.4 631.9h2.6M126.2 634.5h2.6M802.2 634.5h2.6M833.4 634.5h2.6M126.2 637.1h2.6M154.8 637.1h2.6M1358.6 637.1h2.6M128.8 639.7h2.6M1400.2 639.7h2.6M807.4 642.3h10.4M152.2 644.9h2.6M817.8 644.9h2.6M823.0 644.9h2.6M830.8 644.9h2.6M147.0 647.5h5.2M331.6 647.5h2.6M144.4 650.1h2.6M1343.0 650.1h5.2M147.0 652.7h2.6M326.4 652.7h2.6M820.4 652.7h2.6M1335.2 652.7h2.6M820.4 655.3h2.6M1330.0 655.3h2.6M149.6 657.9h2.6M1327.4 657.9h2.6M1358.6 657.9h2.6M849.0 660.5h13.0M1324.8 660.5h2.6M1361.2 660.5h2.6M869.8 663.1h2.6M1322.2 663.1h2.6M1363.8 663.1h2.6M149.6 665.7h2.6M836.0 665.7h2.6M875.0 665.7h2.6M1319.6 665.7h2.6M877.6 668.3h2.6M336.8 670.9h2.6M885.4 670.9h2.6M1265.0 670.9h2.6M1317.0 670.9h2.6M1389.8 670.9h2.6M890.6 673.5h2.6M1317.0 673.5h2.6M1369.0 673.5h2.6M927.0 676.1h2.6M979.0 676.1h2.6M971.2 678.7h2.6M1015.4 678.7h2.6M336.8 681.3h2.6M968.6 681.3h2.6M1382.0 681.3h2.6M960.8 683.9h5.2M1379.4 683.9h2.6M955.6 686.5h2.6M1072.6 689.1h2.6M1288.4 689.1h2.6M1296.2 689.1h2.6M1064.8 691.7h2.6M1077.8 691.7h2.6M1285.8 691.7h10.4M331.6 694.3h7.8M1031.0 694.3h2.6M1051.8 694.3h13.0M1085.6 694.3h2.6M326.4 696.9h2.6M342.0 696.9h2.6M1033.6 696.9h2.6M1041.4 696.9h2.6M329.0 699.5h5.2M339.4 699.5h2.6M1088.2 699.5h2.6M1267.6 699.5h5.2M1275.4 699.5h2.6M1283.2 699.5h2.6M1088.2 702.1h2.6M1280.6 702.1h2.6M1280.6 704.7h2.6M1285.8 704.7h2.6M1265.0 707.3h2.6M1280.6 707.3h2.6M1085.6 709.9h2.6M1140.2 709.9h10.4M1280.6 709.9h2.6M1093.4 712.5h2.6M1150.6 712.5h5.2M1184.4 712.5h13.0M1254.6 712.5h2.6M1098.6 715.1h2.6M1179.2 715.1h5.2M1200.0 715.1h2.6M1101.2 717.7h2.6M1174.0 717.7h2.6M1205.2 717.7h2.6M1259.8 717.7h10.4M1103.8 720.3h10.4M1161.0 720.3h7.8M1210.4 720.3h2.6M1262.4 720.3h2.6M1267.6 720.3h2.6M1213.0 722.9h2.6M1267.6 722.9h2.6M1215.6 725.5h5.2M1265.0 725.5h2.6M433.0 728.1h2.6M443.4 728.1h2.6M1262.4 728.1h5.2M440.8 730.7h2.6M1226.0 730.7h2.6M1259.8 730.7h2.6M435.6 733.3h2.6M1231.2 733.3h2.6M1257.2 733.3h2.6M1233.8 735.9h2.6M1252.0 735.9h2.6M1239.0 738.5h2.6M1244.2 738.5h2.6M1244.2 741.1h2.6M1192.2 873.7h2.6M737.2 876.3h2.6M737.2 878.9h2.6M737.2 881.5h2.6M1088.2 881.5h5.2M737.2 884.1h2.6M1083.0 884.1h7.8M737.2 886.7h2.6M737.2 889.3h2.6M732.0 936.1h7.8M745.0 938.7h2.6M745.0 941.3h2.6M737.2 943.9h2.6M898.4 946.5h2.6M908.8 946.5h2.6M895.8 949.1h2.6M908.8 949.1h2.6M932.2 951.7h5.2M942.6 954.3h2.6"/>
<path stroke="#228b22" d="M594.2 153.5h2.6M609.8 169.1h2.6M612.4 171.7h2.6M625.4 184.7h2.6M625.4 187.3h2.6M622.8 195.1h2.6M620.2 213.3h2.6M620.2 215.9h2.6M620.2 218.5h2.6M622.8 226.3h2.6M622.8 228.9h2.6M625.4 231.5h2.6M625.4 234.1h2.6M625.4 236.7h2.6M628.0 241.9h2.6M628.0 244.5h2.6M628.0 247.1h2.6M628.0 249.7h2.6M628.0 252.3h2.6M628.0 254.9h7.8M638.4 257.5h2.6M635.8 260.1h2.6M628.0 267.9h2.6M628.0 270.5h2.6M628.0 273.1h2.6M651.4 280.9h7.8M641.0 283.5h2.6M667.0 288.7h2.6M674.8 293.9h2.6M685.2 301.7h5.2M698.2 301.7h5.2M719.0 301.7h2.6M690.4 304.3h7.8M706.0 304.3h7.8M724.2 304.3h7.8M734.6 304.3h2.6M737.2 306.9h2.6M742.4 312.1h2.6M742.4 314.7h2.6M742.4 317.3h2.6M745.0 322.5h2.6M745.0 325.1h2.6M745.0 327.7h2.6M745.0 330.3h2.6M747.6 335.5h2.6M786.6 335.5h15.6M781.4 338.1h5.2M352.4 340.7h2.6M360.2 340.7h2.6M807.4 340.7h2.6M349.8 343.3h2.6M362.8 343.3h2.6M758.0 343.3h2.6M362.8 345.9h2.6M773.6 345.9h2.6M357.6 356.3h2.6M347.2 358.9h2.6M355.0 358.9h2.6M823.0 358.9h2.6M828.2 366.7h2.6M843.8 387.5h2.6M856.8 400.5h2.6M864.6 405.7h2.6M875.0 413.5h2.6M888.0 421.3h2.6M895.8 426.5h2.6M901.0 429.1h2.6M903.6 431.7h2.6M908.8 434.3h5.2M914.0 436.9h5.2M921.8 442.1h2.6M908.8 452.5h2.6M906.2 455.1h2.6M901.0 457.7h5.2M895.8 460.3h5.2M888.0 462.9h7.8M880.2 465.5h7.8M864.6 475.9h2.6M849.0 488.9h2.6M846.4 491.5h2.6M807.4 496.7h2.6M812.6 496.7h5.2M838.6 496.7h2.6M802.2 499.3h2.6M817.8 499.3h18.2M799.6 501.9h2.6M797.0 504.5h2.6M1392.4 504.5h10.4M797.0 507.1h2.6M1384.6 507.1h5.2M794.4 512.3h2.6M794.4 514.9h2.6M794.4 517.5h2.6M794.4 520.1h2.6M1363.8 520.1h2.6M794.4 522.7h2.6M794.4 525.3h2.6M794.4 527.9h2.6M1358.6 527.9h2.6M1356.0 533.1h2.6M1356.0 535.7h2.6M1356.0 538.3h2.6M1356.0 540.9h2.6M1356.0 543.5h2.6M797.0 546.1h2.6M797.0 548.7h2.6M799.6 551.3h2.6M1356.0 551.3h2.6M799.6 553.9h2.6M1356.0 553.9h2.6M799.6 556.5h2.6M1356.0 556.5h2.6M799.6 559.1h2.6M1356.0 559.1h2.6M797.0 561.7h2.6M1358.6 561.7h2.6M799.6 564.3h2.6M1358.6 564.3h2.6M1358.6 566.9h2.6M802.2 569.5h2.6M802.2 572.1h2.6M823.0 572.1h2.6M1361.2 572.1h2.6M820.4 574.7h2.6M828.2 574.7h2.6M1361.2 574.7h2.6M804.8 577.3h2.6M815.2 577.3h2.6M820.4 577.3h2.6M828.2 577.3h2.6M1361.2 577.3h2.6M807.4 579.9h2.6M817.8 579.9h2.6M830.8 579.9h2.6M1363.8 579.9h2.6M807.4 582.5h2.6M833.4 582.5h2.6M812.6 585.1h2.6M817.8 585.1h2.6M825.6 585.1h2.6M1366.4 585.1h2.6M810.0 587.7h2.6M1369.0 587.7h2.6M810.0 590.3h2.6M1371.6 590.3h2.6M812.6 592.9h2.6M1374.2 592.9h2.6M812.6 595.5h2.6M815.2 598.1h2.6M1379.4 598.1h2.6M815.2 600.7h2.6M1382.0 600.7h2.6M833.4 603.3h5.2M1384.6 603.3h5.2M833.4 605.9h5.2M1389.8 605.9h2.6M820.4 608.5h2.6M833.4 608.5h7.8M1395.0 608.5h10.4M823.0 611.1h2.6M823.0 613.7h2.6M141.8 616.3h2.6M147.0 616.3h2.6M823.0 616.3h2.6M136.6 618.9h2.6M820.4 618.9h2.6M128.8 621.5h2.6M152.2 621.5h2.6M815.2 621.5h5.2M154.8 624.1h2.6M812.6 624.1h2.6M126.2 626.7h2.6M804.8 626.7h2.6M126.2 629.3h2.6M123.6 634.5h2.6M799.6 634.5h2.6M157.4 637.1h2.6M799.6 637.1h2.6M126.2 642.3h2.6M154.8 642.3h2.6M126.2 644.9h5.2M807.4 644.9h10.4M128.8 647.5h2.6M817.8 647.5h2.6M154.8 650.1h2.6M817.8 650.1h2.6M149.6 652.7h2.6M331.6 652.7h2.6M817.8 652.7h2.6M1340.4 652.7h7.8M817.8 655.3h2.6M1335.2 655.3h2.6M817.8 657.9h2.6M823.0 660.5h2.6M1327.4 660.5h2.6M1402.8 660.5h2.6M823.0 663.1h2.6M828.2 663.1h2.6M843.8 663.1h5.2M854.2 663.1h7.8M1324.8 663.1h2.6M823.0 665.7h7.8M1322.2 665.7h2.6M828.2 668.3h5.2M875.0 668.3h2.6M833.4 670.9h2.6M880.2 670.9h2.6M1007.6 670.9h2.6M1319.6 670.9h2.6M334.2 673.5h2.6M885.4 673.5h2.6M999.8 673.5h5.2M1366.4 673.5h2.6M334.2 676.1h2.6M890.6 676.1h5.2M994.6 676.1h2.6M893.2 678.7h2.6M906.2 678.7h5.2M916.6 678.7h5.2M927.0 678.7h7.8M976.4 678.7h5.2M1012.8 678.7h2.6M895.8 681.3h7.8M942.6 683.9h2.6M966.0 683.9h5.2M1015.4 683.9h2.6M960.8 686.5h5.2M1015.4 686.5h2.6M950.4 689.1h7.8M966.0 689.1h2.6M1070.0 691.7h7.8M342.0 694.3h2.6M1067.4 694.3h2.6M1077.8 694.3h5.2M1046.6 696.9h2.6M1051.8 696.9h13.0M326.4 699.5h2.6M342.0 699.5h2.6M1038.8 702.1h2.6M1270.2 702.1h2.6M1275.4 707.3h5.2M1083.0 709.9h2.6M1267.6 709.9h10.4M1137.6 712.5h13.0M1265.0 712.5h10.4M1278.0 712.5h2.6M1093.4 715.1h2.6M1150.6 715.1h5.2M1184.4 715.1h13.0M1270.2 715.1h2.6M1155.8 717.7h2.6M1179.2 717.7h5.2M1200.0 717.7h2.6M1272.8 717.7h2.6M1158.4 720.3h2.6M1171.4 720.3h5.2M1205.2 720.3h2.6M1275.4 720.3h2.6M1103.8 722.9h23.4M1161.0 722.9h7.8M1272.8 722.9h2.6M435.6 725.5h2.6M443.4 725.5h2.6M1215.6 728.1h5.2M1267.6 728.1h5.2M1220.8 730.7h5.2M1262.4 730.7h5.2M440.8 733.3h2.6M1226.0 733.3h2.6M1259.8 733.3h2.6M1257.2 735.9h2.6M1252.0 738.5h2.6M1239.0 741.1h2.6M1249.4 741.1h2.6M1241.6 743.7h2.6M1246.8 743.7h2.6M1244.2 746.3h2.6M1192.2 871.1h2.6M1197.4 871.1h2.6M1184.4 873.7h5.2M734.6 876.3h2.6M1192.2 876.3h2.6M734.6 878.9h2.6M734.6 881.5h2.6M1077.8 881.5h5.2M734.6 884.1h2.6M1075.2 884.1h2.6M1096.0 884.1h2.6M734.6 886.7h2.6M742.4 936.1h5.2M747.6 941.3h2.6M745.0 943.9h2.6M911.4 946.5h2.6M914.0 949.1h2.6M937.4 949.1h5.2M929.6 951.7h2.6M929.6 954.3h5.2"/>
</g>
<path d="M225.5 271.9L224.8 289.8L219.8 299.7L212.4 308.4L204.9 309.7L202.9 305.2L207.4 298.5L214.8 288.5L221.1 277.3ZM283.3 271.1L292.0 269.4L302.0 269.9L304.4 277.3L308.2 288.5L311.9 297.2L309.4 303.5L314.4 312.2L318.1 322.1L316.4 327.1L320.6 333.3L325.6 334.6L326.8 327.1L329.3 317.2L333.1 307.2L336.8 301.0L343.0 299.7L347.2 302.2L348.7 291.5L354.2 298.5L357.9 304.7L360.4 314.7L365.4 324.6L371.6 332.1L379.1 334.6L389.1 335.8L394.0 339.6L399.0 347.0L404.0 354.5L409.0 363.2L413.9 373.2L407.7 375.6L402.7 380.6L399.0 386.8L396.5 394.3L391.5 401.8L384.1 406.7L376.6 409.2L370.4 409.2L364.2 407.2L362.9 411.7L354.2 414.2L346.7 413.0L341.8 415.5L335.6 415.5L330.6 411.7L326.8 405.5L324.4 398.0L319.4 395.6L309.4 396.3L297.0 396.8L287.0 395.6L279.6 394.3L275.8 386.8L272.1 381.9L268.4 389.3L264.6 395.6L257.2 399.3L250.9 400.5L246.0 395.6L241.0 389.3L236.0 381.9L232.3 371.9L231.0 362.0L227.3 354.5L226.0 344.5L227.3 334.6L229.8 327.1L236.0 319.6L238.5 312.2L243.5 304.7L247.2 293.5L254.7 292.3L258.4 284.8L262.1 278.6L273.3 277.3L278.3 273.6ZM440.1 374.4L443.8 379.4L441.3 386.8L443.8 393.1L451.3 395.6L461.2 393.1L468.7 396.8L478.7 399.3L482.4 406.7L484.9 414.2L493.6 417.9L503.5 417.9L512.3 422.9L517.2 431.6L524.7 436.6L530.9 435.4L528.4 441.6L524.7 447.8L516.0 455.3L503.5 460.3L491.1 462.0L478.7 461.0L468.7 457.8L461.2 452.8L456.3 444.1L450.0 434.1L442.6 426.7L436.3 417.9L428.9 409.2L425.1 403.0L428.9 395.6L433.9 386.8L436.3 378.1ZM506.0 292.3L513.5 287.3L525.9 285.3L521.0 293.5L512.3 293.5ZM156.1 401.2L159.8 402.4L161.1 412.4L162.8 422.3L162.3 431.0L158.6 435.3L156.1 429.8L154.3 419.8L153.6 409.9L154.3 403.6ZM263.1 447.2L271.8 445.2L279.3 447.7L281.8 454.7L279.3 463.4L275.6 470.8L269.3 474.6L261.9 477.1L257.4 472.1L256.4 463.4L258.1 454.7ZM271.8 486.5L279.3 487.0L289.2 486.5L297.9 489.5L304.2 497.0L310.4 506.9L315.4 518.1L317.9 529.3L317.9 539.3L314.1 549.2L313.6 557.9L305.4 560.4L297.9 555.5L291.7 551.7L284.3 549.2L276.8 543.0L269.3 539.3L264.4 533.1L258.1 528.1L251.9 521.9L244.4 516.9L237.0 515.6L230.8 518.1L227.0 515.6L227.0 511.9L232.0 510.7L239.5 511.9L246.9 509.4L254.4 504.4L259.4 499.5L264.4 492.0ZM110.0 649.6L121.0 649.6L123.1 649.6L128.7 652.1L130.0 656.4L133.7 656.4L135.6 652.1L142.4 652.1L144.9 656.4L146.8 659.5L144.9 665.8L143.6 672.0L146.8 675.1L149.9 675.7L153.0 670.7L157.3 672.0L159.8 677.0L163.5 676.3L167.3 674.5L169.8 677.6L167.9 672.0L167.3 665.8L166.7 659.5L168.5 654.6L171.6 648.3L176.6 644.6L182.2 645.2L177.2 643.4L173.5 637.1L169.8 633.4L174.7 629.7L179.7 625.9L185.9 622.2L189.7 619.7L193.4 621.6L197.1 621.0L198.4 617.2L195.9 613.5L193.4 612.3L194.7 609.8L189.7 611.6L184.7 611.0L181.0 609.8L176.0 612.9L172.3 609.8L169.8 606.0L171.0 601.1L176.0 597.3L181.0 596.1L185.9 597.3L192.2 601.1L197.1 603.5L203.4 604.2L198.4 602.3L192.2 598.6L187.2 595.5L182.2 593.0L187.2 589.2L192.2 587.4L197.1 589.2L202.1 592.4L207.1 594.8L213.3 596.7L219.5 597.3L225.8 596.7L229.5 594.8L237.0 595.5L234.5 593.0L235.7 589.2L233.2 584.9L232.0 578.7L230.7 572.4L231.4 566.8L235.7 566.8L238.2 568.7L241.9 571.2L245.7 574.9L249.4 581.2L254.4 586.1L259.4 589.9L265.6 592.4L273.0 594.2L280.5 597.3L288.0 601.1L295.4 604.2L302.9 608.5L310.0 611.0L316.6 614.7L329.1 622.2L339.0 629.6L349.0 635.9L358.9 642.1L368.9 649.6L378.8 657.0L386.3 663.2L396.3 663.2L406.2 665.7L416.2 669.5L426.1 675.7L433.6 681.9L441.1 689.4L448.5 696.8L453.5 705.6L456.0 716.7L454.7 729.2L453.5 739.1L457.4 744.8L464.8 752.3L472.3 762.2L479.8 769.7L486.0 774.7L492.2 784.6L496.0 797.1L497.2 807.0L498.4 814.5L502.2 820.7L509.6 826.9L522.1 828.2L534.5 827.4L549.5 825.7L564.4 822.0L579.3 819.5L594.3 817.0L609.2 815.2L624.1 815.0L639.1 816.5L654.0 819.5L668.9 823.2L681.4 828.2L693.8 834.4L703.8 840.6L713.7 849.3L721.2 858.0L727.4 866.7L731.1 876.7L733.6 889.1L734.1 901.6L733.6 909.6L729.8 917.0L727.3 924.5L723.6 929.5L724.8 936.9L729.8 941.9L737.3 946.9L747.2 951.9L757.2 954.4L763.4 956.8L767.2 961.8L769.6 966.8L777.1 959.3L784.6 956.8L787.1 961.8L783.3 969.3L779.6 975.5L783.3 974.3L789.6 966.8L794.5 961.8L799.5 956.8L807.0 953.1L816.9 953.1L826.9 950.6L836.8 946.9L846.8 948.9L854.3 945.6L859.2 942.4L864.2 945.6L869.2 950.6L876.7 955.6L886.6 957.3L896.6 955.6L906.5 954.4L916.5 954.4L926.4 956.8L936.4 958.1L946.3 956.8L953.8 953.1L961.3 946.9L966.3 939.4L971.2 932.0L975.0 927.0L976.2 919.5L978.7 913.3L983.7 909.6L991.1 907.6L1001.1 907.1L1011.1 909.6L1021.0 912.0L1027.2 917.0L1029.0 924.5L1027.2 932.0L1026.0 939.4L1024.7 944.4L1016.0 943.9L1006.1 941.9L996.1 939.4L988.7 936.9L984.9 939.4L987.4 945.6L994.9 951.9L997.4 961.8L998.6 971.8L1003.6 976.7L1013.5 979.2L1023.5 983.0L1033.5 985.5L1037.5 987.9L1041.2 995.4L1041.9 1005.4L1047.4 1011.6L1054.9 1010.3L1064.8 1006.6L1073.6 1001.6L1077.3 995.4L1081.0 987.9L1086.0 981.7L1087.7 974.3L1083.5 964.3L1079.8 956.8L1074.8 949.4L1071.1 941.9L1066.1 935.7L1057.4 935.7L1052.4 932.0L1054.9 924.5L1061.1 919.5L1064.8 913.3L1061.1 904.6L1059.4 895.9L1056.9 889.1L1067.3 887.7L1079.8 888.4L1094.7 889.1L1109.6 890.1L1122.1 888.4L1129.6 887.2L1134.5 892.1L1142.0 894.6L1147.0 900.1L1153.2 898.4L1149.5 892.1L1148.2 885.9L1156.9 885.9L1164.4 887.2L1171.9 883.4L1181.8 884.7L1191.8 882.7L1204.2 880.9L1214.2 877.2L1221.6 872.2L1229.1 868.5L1236.6 873.5L1246.5 878.4L1256.5 880.9L1268.9 883.4L1281.4 884.7L1293.8 885.9L1303.8 888.4L1316.2 887.2L1328.7 888.4L1338.6 893.4L1348.6 895.9L1358.5 900.8L1368.5 905.8L1378.4 910.8L1388.4 914.5L1398.3 912.0L1405.8 914.5L1415.0 914.5L1415.0 1055.0L110.0 1055.0ZM1324.9 677.0L1336.1 675.8L1348.6 675.8L1358.5 678.3L1368.5 684.5L1377.2 690.7L1382.2 696.9L1380.9 705.6L1375.9 714.4L1368.5 721.8L1358.5 728.0L1348.6 734.3L1338.6 740.5L1328.7 741.7L1318.7 740.5L1313.7 746.7L1311.2 754.2L1301.3 759.1L1293.8 762.9L1288.8 766.6L1283.9 759.1L1280.1 751.7L1278.9 741.7L1281.4 731.8L1283.9 721.8L1288.8 711.9L1293.8 703.2L1300.0 694.4L1306.3 687.0L1316.2 680.8ZM747.2 838.6L752.2 839.4L755.2 847.3L751.0 849.3L748.5 844.8ZM777.6 847.3L781.6 848.6L784.1 854.8L780.8 853.6ZM801.5 861.8L807.0 862.8L804.5 865.3ZM775.4 836.9L778.4 838.6L777.1 841.1ZM581.2 349.6L587.4 348.6L589.4 352.8L586.2 358.5L581.9 356.5Z" fill="none" stroke="#111" stroke-width="1"/>
<path d="M351.7 338.3L345.5 347.0L343.0 359.5L344.3 374.4L348.0 386.8L354.2 399.3L364.2 406.7" fill="none" stroke="#808080" stroke-width="3"/>
<g shape-rendering="crispEdges"><path d="M685.3 -828.1L-1621.7 450.2M686.1 -826.8L-1598.3 491.7M686.8 -825.4L-1574.1 532.7M687.7 -824.1L-1549.3 573.2M688.5 -822.8L-1523.7 613.4M689.3 -821.5L-1497.4 653.0M690.2 -820.2L-1470.5 692.3M691.1 -819.0L-1442.9 731.0M692.0 -817.7L-1414.6 769.3M693.0 -816.5L-1385.6 807.0M693.9 -815.3L-1356.0 844.3M694.9 -814.1L-1325.7 881.0M695.9 -812.9L-1294.8 917.2M697.0 -811.7L-1263.3 952.8M698.0 -810.6L-1231.2 987.9M699.1 -809.5L-1198.4 1022.4M700.2 -808.4L-1165.1 1056.3M701.3 -807.3L-1131.1 1089.7M702.4 -806.2L-1096.6 1122.5M703.5 -805.2L-1061.6 1154.6M704.7 -804.1L-1025.9 1186.1M705.9 -803.1L-989.7 1217.1M707.1 -802.2L-953.0 1247.3M708.3 -801.2L-915.8 1277.0M709.5 -800.2L-878.1 1305.9M710.8 -799.3L-839.8 1334.2M712.0 -798.4L-801.1 1361.9M713.3 -797.5L-761.9 1388.8M714.6 -796.7L-722.2 1415.1M715.9 -795.9L-682.1 1440.7M717.2 -795.0L-641.5 1465.5M718.6 -794.3L-600.5 1489.7M719.9 -793.5L-559.1 1513.1M721.3 -792.8L-517.3 1535.8M722.6 -792.0L-475.1 1557.8M724.0 -791.3L-432.5 1579.0M725.4 -790.7L-389.6 1599.5M726.8 -790.0L-346.3 1619.3M728.3 -789.4L-302.6 1638.3M729.7 -788.8L-258.7 1656.5M731.1 -788.3L-214.4 1673.9M732.6 -787.7L-169.8 1690.6M734.0 -787.2L-125.0 1706.5M735.5 -786.7L-79.9 1721.6M737.0 -786.2L-34.5 1735.9M738.5 -785.8L11.1 1749.4M740.0 -785.4L57.0 1762.1M741.5 -785.0L103.0 1774.1M743.0 -784.6L149.3 1785.2M744.5 -784.3L195.8 1795.5M746.0 -784.0L242.4 1805.0M747.5 -783.7L289.2 1813.6M749.1 -783.5L336.1 1821.5M750.6 -783.2L383.2 1828.5M752.1 -783.0L430.3 1834.8M753.7 -782.8L477.6 1840.2M755.2 -782.7L525.0 1844.7M756.8 -782.6L572.4 1848.5M758.3 -782.5L619.9 1851.4M759.8 -782.4L667.4 1853.5M761.4 -782.4L715.0 1854.7M762.9 -782.4L762.6 1855.1M764.5 -782.4L810.2 1854.7M766.0 -782.4L857.7 1853.5M767.6 -782.5L905.3 1851.4M769.1 -782.6L952.8 1848.5M770.7 -782.7L1000.2 1844.8M772.2 -782.8L1047.6 1840.2M773.8 -783.0L1094.8 1834.9M775.3 -783.2L1142.0 1828.6M776.8 -783.4L1189.1 1821.6M778.4 -783.7L1236.0 1813.8M779.9 -784.0L1282.8 1805.1M781.4 -784.3L1329.4 1795.6M782.9 -784.6L1375.9 1785.3M784.4 -785.0L1422.1 1774.2M785.9 -785.4L1468.2 1762.3M787.4 -785.8L1514.1 1749.6M788.9 -786.2L1559.7 1736.1M790.4 -786.7L1605.1 1721.8M791.9 -787.2L1650.2 1706.7M793.3 -787.7L1695.0 1690.8M794.8 -788.3L1739.6 1674.2M796.2 -788.8L1783.9 1656.8M797.6 -789.4L1827.9 1638.5M799.1 -790.0L1871.5 1619.6M800.5 -790.7L1914.8 1599.9M801.9 -791.3L1957.7 1579.4M803.3 -792.0L2000.3 1558.2M804.6 -792.7L2042.5 1536.2M806.0 -793.5L2084.4 1513.5M807.3 -794.2L2125.8 1490.1M808.7 -795.0L2166.8 1465.9M810.0 -795.8L2207.3 1441.1M811.3 -796.7L2247.5 1415.5M812.6 -797.5L2287.2 1389.2M813.9 -798.4L2326.4 1362.3M815.1 -799.3L2365.1 1334.7M816.4 -800.2L2403.4 1306.4M817.6 -801.2L2441.1 1277.4M818.8 -802.1L2478.4 1247.8M820.0 -803.1L2515.1 1217.5M821.2 -804.1L2551.3 1186.6M822.4 -805.2L2586.9 1155.1M823.5 -806.2L2622.0 1123.0M824.6 -807.3L2656.5 1090.2M825.7 -808.4L2690.5 1056.9M826.8 -809.5L2723.8 1023.0M827.9 -810.6L2756.6 988.4M828.9 -811.7L2788.7 953.4M830.0 -812.9L2820.3 917.7M831.0 -814.1L2851.2 881.6M832.0 -815.3L2881.4 844.8M832.9 -816.5L2911.1 807.6M833.9 -817.7L2940.0 769.9M834.8 -818.9L2968.3 731.6M835.7 -820.2L2996.0 692.9M836.6 -821.5L3022.9 653.7M837.4 -822.8L3049.2 614.0M838.3 -824.1L3074.8 573.9M839.1 -825.4L3099.6 533.3" stroke="#000" stroke-width="1.3" fill="none"/>
<circle cx="762.96" cy="-871.15" r="2536.8" stroke="#000" stroke-width="1.3" fill="none"/>
<circle cx="762.96" cy="-871.15" r="2442.7" stroke="#000" stroke-width="1.3" fill="none"/>
<circle cx="762.96" cy="-871.15" r="2349.0" stroke="#000" stroke-width="1.3" fill="none"/>
<circle cx="762.96" cy="-871.15" r="2255.7" stroke="#000" stroke-width="1.3" fill="none"/>
<circle cx="762.96" cy="-871.15" r="2162.7" stroke="#000" stroke-width="1.3" fill="none"/>
<circle cx="762.96" cy="-871.15" r="2070.0" stroke="#000" stroke-width="1.3" fill="none"/>
<circle cx="762.96" cy="-871.15" r="1977.7" stroke="#000" stroke-width="1.3" fill="none"/>
<circle cx="762.96" cy="-871.15" r="1885.8" stroke="#000" stroke-width="1.3" fill="none"/>
<circle cx="762.96" cy="-871.15" r="1794.1" stroke="#000" stroke-width="1.3" fill="none"/>
<circle cx="762.96" cy="-871.15" r="1702.6" stroke="#000" stroke-width="1.3" fill="none"/>
<circle cx="762.96" cy="-871.15" r="1611.5" stroke="#000" stroke-width="1.3" fill="none"/>
<circle cx="762.96" cy="-871.15" r="1520.6" stroke="#000" stroke-width="1.3" fill="none"/>
<circle cx="762.96" cy="-871.15" r="1429.9" stroke="#000" stroke-width="1.3" fill="none"/>
<circle cx="762.96" cy="-871.15" r="1339.5" stroke="#000" stroke-width="1.3" fill="none"/>
<circle cx="762.96" cy="-871.15" r="1249.3" stroke="#000" stroke-width="1.3" fill="none"/>
<circle cx="762.96" cy="-871.15" r="1159.2" stroke="#000" stroke-width="1.3" fill="none"/>
<circle cx="762.96" cy="-871.15" r="1069.4" stroke="#000" stroke-width="1.3" fill="none"/>
<circle cx="762.96" cy="-871.15" r="979.7" stroke="#000" stroke-width="1.3" fill="none"/>
<circle cx="762.96" cy="-871.15" r="890.2" stroke="#000" stroke-width="1.3" fill="none"/>
<circle cx="762.96" cy="-871.15" r="800.8" stroke="#000" stroke-width="1.3" fill="none"/>
<circle cx="762.96" cy="-871.15" r="711.5" stroke="#000" stroke-width="1.3" fill="none"/>
<circle cx="762.96" cy="-871.15" r="622.3" stroke="#000" stroke-width="1.3" fill="none"/>
<circle cx="762.96" cy="-871.15" r="533.2" stroke="#000" stroke-width="1.3" fill="none"/>
</g></g>
<rect x="121" y="147" width="1284" height="896.3" fill="none" stroke="#000" stroke-width="3.6"/>
<text transform="translate(167.0 120.4) rotate(-59.0)" font-size="44" dy="15.8">130<tspan font-size="28.2" dy="-11.9" dx="2">°</tspan><tspan dy="11.9" dx="2.3">E</tspan></text>
<text transform="translate(279.8 119.1) rotate(-64.0)" font-size="44" dy="15.8">135<tspan font-size="28.2" dy="-11.9" dx="2">°</tspan><tspan dy="11.9" dx="2.3">E</tspan></text>
<text transform="translate(383.1 118.1) rotate(-69.0)" font-size="44" dy="15.8">140<tspan font-size="28.2" dy="-11.9" dx="2">°</tspan><tspan dy="11.9" dx="2.3">E</tspan></text>
<text transform="translate(479.4 117.2) rotate(-74.0)" font-size="44" dy="15.8">145<tspan font-size="28.2" dy="-11.9" dx="2">°</tspan><tspan dy="11.9" dx="2.3">E</tspan></text>
<text transform="translate(570.8 116.6) rotate(-79.0)" font-size="44" dy="15.8">150<tspan font-size="28.2" dy="-11.9" dx="2">°</tspan><tspan dy="11.9" dx="2.3">E</tspan></text>
<text transform="translate(659.0 116.2) rotate(-84.0)" font-size="44" dy="15.8">155<tspan font-size="28.2" dy="-11.9" dx="2">°</tspan><tspan dy="11.9" dx="2.3">E</tspan></text>
<text transform="translate(745.6 116.0) rotate(-89.0)" font-size="44" dy="15.8">160<tspan font-size="28.2" dy="-11.9" dx="2">°</tspan><tspan dy="11.9" dx="2.3">E</tspan></text>
<text transform="translate(831.9 116.1) rotate(86.0)" font-size="44" text-anchor="end" dy="15.8">165<tspan font-size="28.2" dy="-11.9" dx="2">°</tspan><tspan dy="11.9" dx="2.3">E</tspan></text>
<text transform="translate(919.2 116.4) rotate(81.0)" font-size="44" text-anchor="end" dy="15.8">170<tspan font-size="28.2" dy="-11.9" dx="2">°</tspan><tspan dy="11.9" dx="2.3">E</tspan></text>
<text transform="translate(1009.2 116.9) rotate(76.0)" font-size="44" text-anchor="end" dy="15.8">175<tspan font-size="28.2" dy="-11.9" dx="2">°</tspan><tspan dy="11.9" dx="2.3">E</tspan></text>
<text transform="translate(1103.3 117.7) rotate(71.0)" font-size="44" text-anchor="end" dy="15.8">180<tspan font-size="28.2" dy="-11.9" dx="2">°</tspan></text>
<text transform="translate(1203.5 118.7) rotate(66.0)" font-size="44" text-anchor="end" dy="15.8">175<tspan font-size="28.2" dy="-11.9" dx="2">°</tspan><tspan dy="11.9" dx="2.3">W</tspan></text>
<text transform="translate(1312.1 119.9) rotate(61.0)" font-size="44" text-anchor="end" dy="15.8">170<tspan font-size="28.2" dy="-11.9" dx="2">°</tspan><tspan dy="11.9" dx="2.3">W</tspan></text>
<text transform="translate(205.2 1073.1) rotate(286.0)" font-size="44" text-anchor="end" dy="15.8">145<tspan font-size="28.2" dy="-11.9" dx="2">°</tspan><tspan dy="11.9" dx="2.3">E</tspan></text>
<text transform="translate(384.6 1073.7) rotate(281.0)" font-size="44" text-anchor="end" dy="15.8">150<tspan font-size="28.2" dy="-11.9" dx="2">°</tspan><tspan dy="11.9" dx="2.3">E</tspan></text>
<text transform="translate(558.2 1074.1) rotate(276.0)" font-size="44" text-anchor="end" dy="15.8">155<tspan font-size="28.2" dy="-11.9" dx="2">°</tspan><tspan dy="11.9" dx="2.3">E</tspan></text>
<text transform="translate(728.7 1074.3) rotate(271.0)" font-size="44" text-anchor="end" dy="15.8">160<tspan font-size="28.2" dy="-11.9" dx="2">°</tspan><tspan dy="11.9" dx="2.3">E</tspan></text>
<text transform="translate(898.7 1074.2) rotate(86.0)" font-size="44" dy="15.8">165<tspan font-size="28.2" dy="-11.9" dx="2">°</tspan><tspan dy="11.9" dx="2.3">E</tspan></text>
<text transform="translate(1070.8 1073.9) rotate(81.0)" font-size="44" dy="15.8">170<tspan font-size="28.2" dy="-11.9" dx="2">°</tspan><tspan dy="11.9" dx="2.3">E</tspan></text>
<text transform="translate(1247.5 1073.4) rotate(76.0)" font-size="44" dy="15.8">175<tspan font-size="28.2" dy="-11.9" dx="2">°</tspan><tspan dy="11.9" dx="2.3">E</tspan></text>
<text transform="translate(91.7 989.4) rotate(18.9)" font-size="44" text-anchor="end" dy="15.8">68<tspan font-size="28.2" dy="-11.9" dx="2">°</tspan><tspan dy="11.9" dx="2.3">N</tspan></text>
<text transform="translate(1434.3 989.4) rotate(-18.9)" font-size="44" dy="15.8">68<tspan font-size="28.2" dy="-11.9" dx="2">°</tspan><tspan dy="11.9" dx="2.3">N</tspan></text>
<text transform="translate(92.1 793.0) rotate(21.0)" font-size="44" text-anchor="end" dy="15.8">70<tspan font-size="28.2" dy="-11.9" dx="2">°</tspan><tspan dy="11.9" dx="2.3">N</tspan></text>
<text transform="translate(1433.9 793.0) rotate(-21.0)" font-size="44" dy="15.8">70<tspan font-size="28.2" dy="-11.9" dx="2">°</tspan><tspan dy="11.9" dx="2.3">N</tspan></text>
<text transform="translate(92.6 594.6) rotate(23.5)" font-size="44" text-anchor="end" dy="15.8">72<tspan font-size="28.2" dy="-11.9" dx="2">°</tspan><tspan dy="11.9" dx="2.3">N</tspan></text>
<text transform="translate(1433.4 594.6) rotate(-23.5)" font-size="44" dy="15.8">72<tspan font-size="28.2" dy="-11.9" dx="2">°</tspan><tspan dy="11.9" dx="2.3">N</tspan></text>
<text transform="translate(93.3 392.7) rotate(26.7)" font-size="44" text-anchor="end" dy="15.8">74<tspan font-size="28.2" dy="-11.9" dx="2">°</tspan><tspan dy="11.9" dx="2.3">N</tspan></text>
<text transform="translate(1432.7 392.6) rotate(-26.7)" font-size="44" dy="15.8">74<tspan font-size="28.2" dy="-11.9" dx="2">°</tspan><tspan dy="11.9" dx="2.3">N</tspan></text>
<text transform="translate(94.4 184.6) rotate(30.9)" font-size="44" text-anchor="end" dy="15.8">76<tspan font-size="28.2" dy="-11.9" dx="2">°</tspan><tspan dy="11.9" dx="2.3">N</tspan></text>
<text transform="translate(1431.6 184.6) rotate(-30.9)" font-size="44" dy="15.8">76<tspan font-size="28.2" dy="-11.9" dx="2">°</tspan><tspan dy="11.9" dx="2.3">N</tspan></text>
<path d="M151.0 147.0L158.2 135.0M266.2 147.0L272.3 134.4M372.0 147.0L377.0 133.9M470.9 147.0L474.7 133.5M564.9 147.0L567.6 133.3M655.8 147.0L657.3 133.1M745.0 147.0L745.3 133.0M834.0 147.0L833.0 133.0M924.1 147.0L921.9 133.2M1016.7 147.0L1013.3 133.4M1113.4 147.0L1108.8 133.8M1216.1 147.0L1210.4 134.2M1327.1 147.0L1320.4 134.8M213.7 1043.3L209.9 1056.8M390.6 1043.3L387.9 1057.0M561.5 1043.3L560.0 1057.2M729.3 1043.3L729.0 1057.3M896.6 1043.3L897.5 1057.3M1065.9 1043.3L1068.1 1057.1M1240.0 1043.3L1243.4 1056.9M121.0 999.5L107.8 995.0M1405.0 999.5L1418.2 994.9M121.0 804.1L107.9 799.1M1405.0 804.1L1418.1 799.1M121.0 607.0L108.2 601.4M1405.0 606.9L1417.8 601.3M121.0 406.6L108.5 400.3M1405.0 406.6L1417.5 400.3M121.0 200.6L109.0 193.4M1405.0 200.5L1417.0 193.3" stroke="#000" stroke-width="2" fill="none"/>
<text class="t" x="56" y="1225" font-size="66">Oct 04 2025</text>
<text class="t" x="58" y="1281.5" font-size="66">EastSiberianSea</text>
<text class="s" x="56" y="1326" font-size="33.6" xml:space="preserve" style="white-space:pre">ASI (from AMSR2) ver. 5.4,  Grid 3.125 km</text>
<rect x="795.0" y="1184.5" width="58.2" height="26.0" fill="#00008b"/>
<rect x="852.8" y="1184.5" width="58.2" height="26.0" fill="#1e90ff"/>
<rect x="910.5" y="1184.5" width="58.2" height="26.0" fill="#1cf5a0"/>
<rect x="968.2" y="1184.5" width="58.2" height="26.0" fill="#228b22"/>
<rect x="1026.0" y="1184.5" width="58.2" height="26.0" fill="#00e800"/>
<rect x="1083.8" y="1184.5" width="58.2" height="26.0" fill="#7cf500"/>
<rect x="1141.5" y="1184.5" width="58.2" height="26.0" fill="#adff2f"/>
<rect x="1199.2" y="1184.5" width="58.2" height="26.0" fill="#ffff00"/>
<rect x="1257.0" y="1184.5" width="29.4" height="26.0" fill="#ff8000"/>
<rect x="1285.9" y="1184.5" width="29.4" height="26.0" fill="#ff0000"/>
<rect x="1314.8" y="1184.5" width="29.4" height="26.0" fill="#ba55d3"/>
<rect x="1343.6" y="1184.5" width="23.6" height="26.0" fill="#9400d3"/>
<rect x="1366.7" y="1184.5" width="6.3" height="26.0" fill="#7a0055"/>
<rect x="795.0" y="1184.5" width="577.5" height="26.0" fill="none" stroke="#000" stroke-width="3.5"/>
<text x="795.0" y="1273" font-size="44" text-anchor="middle">0</text>
<text x="939.4" y="1273" font-size="44" text-anchor="middle">25</text>
<text x="1083.8" y="1273" font-size="44" text-anchor="middle">50</text>
<text x="1228.1" y="1273" font-size="44" text-anchor="middle">75</text>
<text x="1372.5" y="1273" font-size="44" text-anchor="middle">100</text>
<path d="M795.0 1210.5V1225.5M939.4 1210.5V1225.5M1083.8 1210.5V1225.5M1228.1 1210.5V1225.5M1372.5 1210.5V1225.5" stroke="#000" stroke-width="2" fill="none"/>
<text class="s" x="1388" y="1214" font-size="44">C[%]</text>
<text class="t" x="1087" y="1320" font-size="38.5" text-anchor="middle">Ice Concentration</text>
</svg>
</body></html>
